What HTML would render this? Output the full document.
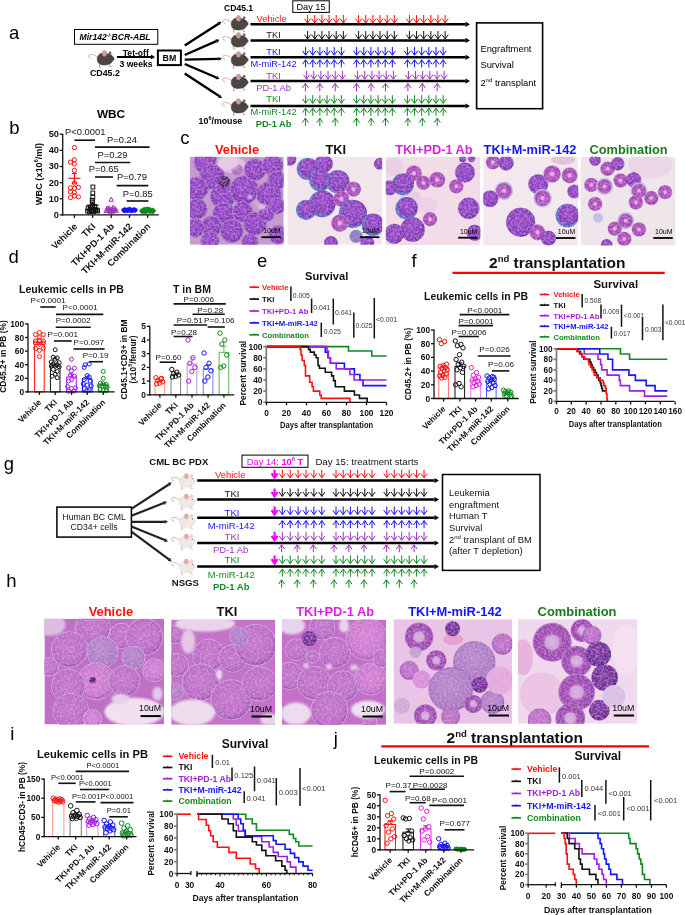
<!DOCTYPE html>
<html><head><meta charset="utf-8"><style>
html,body{margin:0;padding:0;background:#fff;}
body{width:685px;height:915px;overflow:hidden;}
svg{display:block;font-family:"Liberation Sans",sans-serif;will-change:transform;}
</style></head><body>
<svg width="685" height="915" viewBox="0 0 685 915">
<defs>
<radialGradient id="gP" cx="45%" cy="40%" r="60%"><stop offset="0" stop-color="#9c46cc"/><stop offset="0.8" stop-color="#8a36be"/><stop offset="1" stop-color="#7828aa"/></radialGradient>
<radialGradient id="gD" cx="45%" cy="40%" r="60%"><stop offset="0" stop-color="#8838ae"/><stop offset="1" stop-color="#6a2090"/></radialGradient>
<radialGradient id="gM" cx="48%" cy="45%" r="55%"><stop offset="0" stop-color="#c676cc"/><stop offset="0.78" stop-color="#bc6ac6"/><stop offset="0.92" stop-color="#a458ba"/><stop offset="1" stop-color="#9048aa"/></radialGradient>
<radialGradient id="gL" cx="48%" cy="45%" r="55%"><stop offset="0" stop-color="#d684d6"/><stop offset="0.78" stop-color="#cc76cf"/><stop offset="0.92" stop-color="#b060c0"/><stop offset="1" stop-color="#9a4cb0"/></radialGradient>
<radialGradient id="gV" cx="45%" cy="40%" r="62%"><stop offset="0" stop-color="#bc88cc"/><stop offset="0.85" stop-color="#ac78c4"/><stop offset="1" stop-color="#9460b4"/></radialGradient>
<radialGradient id="gN" cx="50%" cy="50%" r="50%"><stop offset="0" stop-color="#dcb6e2"/><stop offset="0.2" stop-color="#d4a8de"/><stop offset="0.34" stop-color="#b44cc0"/><stop offset="0.86" stop-color="#a640b6"/><stop offset="1" stop-color="#b890d0"/></radialGradient>
<radialGradient id="gR" cx="50%" cy="50%" r="50%"><stop offset="0" stop-color="#dab2e0"/><stop offset="0.33" stop-color="#d0a2d8"/><stop offset="0.46" stop-color="#a84cba"/><stop offset="0.9" stop-color="#9a40b0"/><stop offset="1" stop-color="#b884c8"/></radialGradient>
<filter id="soft" x="-20%" y="-20%" width="140%" height="140%"><feGaussianBlur stdDeviation="1.2"/></filter>
<filter id="grain" x="0" y="0" width="100%" height="100%"><feTurbulence type="fractalNoise" baseFrequency="0.45" numOctaves="2" seed="3" result="n"/><feColorMatrix in="n" type="matrix" values="0 0 0 0 0.9  0 0 0 0 0.8  0 0 0 0 0.95  0 0 0 0.6 -0.24" result="w"/><feComposite in="w" in2="SourceGraphic" operator="in" result="m"/><feMerge><feMergeNode in="SourceGraphic"/><feMergeNode in="m"/></feMerge></filter>

<clipPath id="clip1"><rect x="190.00" y="156.80" width="93.70" height="88.00"/></clipPath>
<clipPath id="clip2"><rect x="287.30" y="156.80" width="94.90" height="88.00"/></clipPath>
<clipPath id="clip3"><rect x="385.70" y="156.80" width="94.70" height="88.50"/></clipPath>
<clipPath id="clip4"><rect x="483.20" y="156.80" width="95.10" height="88.80"/></clipPath>
<clipPath id="clip5"><rect x="580.50" y="156.80" width="95.10" height="88.80"/></clipPath>
<clipPath id="clip6"><rect x="44.40" y="618.80" width="119.60" height="105.60"/></clipPath>
<clipPath id="clip7"><rect x="171.20" y="619.60" width="103.80" height="105.20"/></clipPath>
<clipPath id="clip8"><rect x="282.00" y="619.60" width="104.00" height="105.20"/></clipPath>
<clipPath id="clip9"><rect x="393.40" y="619.20" width="118.80" height="104.60"/></clipPath>
<clipPath id="clip10"><rect x="518.00" y="619.20" width="119.30" height="104.60"/></clipPath></defs>
<rect width="685" height="915" fill="#fff"/>
<text x="9.00" y="39.00" font-size="18.5" fill="#000">a</text>
<rect x="74.50" y="29.50" width="83.30" height="14.80" fill="none" stroke="#000" stroke-width="1"/>
<text x="79.50" y="40.30" font-size="8.6" fill="#000" font-weight="bold" font-style="italic">Mir142<tspan font-size="5" dy="-3.5">-/-</tspan><tspan dy="3.5">BCR-ABL</tspan></text>
<g transform="translate(88.00,49.50) scale(1.07)">
<path d="M9,7.5 C6,4.5 2,3.8 0.6,5.6 C0.1,7 1.5,8 3,8.3" fill="none" stroke="#dca8a4" stroke-width="0.9" />
<path d="M11,13 L10.6,16.4 L12.2,16.4 M19.5,13 L20.2,16 L21.8,16" fill="none" stroke="#c99a96" stroke-width="0.9" />
<path d="M8.6,9 C8.6,4.8 11.8,3 15.5,3.2 C19.5,3.3 22.5,5 24,7.4 C25,8.6 24.6,9.8 23.4,10.2 C22.2,12.8 19.2,14.6 15.2,14.6 C11,14.6 8.6,12.4 8.6,9 Z" fill="#4e4644" stroke="#3a3331" stroke-width="0.4" />
<ellipse cx="15.4" cy="3.6" rx="2.3" ry="2.9" fill="#c99a96"/>
<path d="M20.3,1.2 L22.4,3.6 L19.6,4.2 Z" fill="#4e4644" />
<circle cx="21.40" cy="6.20" r="0.55" fill="#222"/>
</g>
<line x1="117.00" y1="57.00" x2="151.00" y2="57.00" stroke="#000" stroke-width="1.8" stroke-linecap="butt"/>
<path d="M155.00,57.00 L151.00,59.40 L151.00,54.60 Z" fill="#000" />
<text x="135.80" y="55.60" font-size="8.6" fill="#000" font-weight="bold" text-anchor="middle">Tet-off</text>
<text x="136.00" y="66.60" font-size="8.6" fill="#000" font-weight="bold" text-anchor="middle">3 weeks</text>
<text x="90.00" y="75.60" font-size="8.8" fill="#000" font-weight="bold">CD45.2</text>
<rect x="157.90" y="50.50" width="23.00" height="14.60" fill="none" stroke="#000" stroke-width="2"/>
<text x="169.40" y="61.20" font-size="8.8" fill="#000" font-weight="bold" text-anchor="middle">BM</text>
<line x1="184.70" y1="45.40" x2="218.55" y2="23.69" stroke="#000" stroke-width="2.4" stroke-linecap="butt"/>
<path d="M221.50,21.80 L219.63,25.37 L217.47,22.01 Z" fill="#000" />
<line x1="184.70" y1="55.00" x2="216.30" y2="41.11" stroke="#000" stroke-width="2.4" stroke-linecap="butt"/>
<path d="M219.50,39.70 L217.10,42.94 L215.49,39.28 Z" fill="#000" />
<line x1="184.70" y1="59.60" x2="218.50" y2="58.88" stroke="#000" stroke-width="2.4" stroke-linecap="butt"/>
<path d="M222.00,58.80 L218.54,60.87 L218.46,56.88 Z" fill="#000" />
<line x1="184.70" y1="64.00" x2="216.28" y2="77.52" stroke="#000" stroke-width="2.4" stroke-linecap="butt"/>
<path d="M219.50,78.90 L215.50,79.36 L217.07,75.68 Z" fill="#000" />
<line x1="184.70" y1="73.40" x2="219.08" y2="96.07" stroke="#000" stroke-width="2.4" stroke-linecap="butt"/>
<path d="M222.00,98.00 L217.98,97.74 L220.18,94.40 Z" fill="#000" />
<g transform="translate(222.00,14.50) scale(1.07)">
<path d="M9,7.5 C6,4.5 2,3.8 0.6,5.6 C0.1,7 1.5,8 3,8.3" fill="none" stroke="#dca8a4" stroke-width="0.9" />
<path d="M11,13 L10.6,16.4 L12.2,16.4 M19.5,13 L20.2,16 L21.8,16" fill="none" stroke="#c99a96" stroke-width="0.9" />
<path d="M8.6,9 C8.6,4.8 11.8,3 15.5,3.2 C19.5,3.3 22.5,5 24,7.4 C25,8.6 24.6,9.8 23.4,10.2 C22.2,12.8 19.2,14.6 15.2,14.6 C11,14.6 8.6,12.4 8.6,9 Z" fill="#4e4644" stroke="#3a3331" stroke-width="0.4" />
<ellipse cx="15.4" cy="3.6" rx="2.3" ry="2.9" fill="#c99a96"/>
<path d="M20.3,1.2 L22.4,3.6 L19.6,4.2 Z" fill="#4e4644" />
<circle cx="21.40" cy="6.20" r="0.55" fill="#222"/>
</g>
<g transform="translate(222.00,31.50) scale(1.07)">
<path d="M9,7.5 C6,4.5 2,3.8 0.6,5.6 C0.1,7 1.5,8 3,8.3" fill="none" stroke="#dca8a4" stroke-width="0.9" />
<path d="M11,13 L10.6,16.4 L12.2,16.4 M19.5,13 L20.2,16 L21.8,16" fill="none" stroke="#c99a96" stroke-width="0.9" />
<path d="M8.6,9 C8.6,4.8 11.8,3 15.5,3.2 C19.5,3.3 22.5,5 24,7.4 C25,8.6 24.6,9.8 23.4,10.2 C22.2,12.8 19.2,14.6 15.2,14.6 C11,14.6 8.6,12.4 8.6,9 Z" fill="#4e4644" stroke="#3a3331" stroke-width="0.4" />
<ellipse cx="15.4" cy="3.6" rx="2.3" ry="2.9" fill="#c99a96"/>
<path d="M20.3,1.2 L22.4,3.6 L19.6,4.2 Z" fill="#4e4644" />
<circle cx="21.40" cy="6.20" r="0.55" fill="#222"/>
</g>
<g transform="translate(222.00,50.50) scale(1.07)">
<path d="M9,7.5 C6,4.5 2,3.8 0.6,5.6 C0.1,7 1.5,8 3,8.3" fill="none" stroke="#dca8a4" stroke-width="0.9" />
<path d="M11,13 L10.6,16.4 L12.2,16.4 M19.5,13 L20.2,16 L21.8,16" fill="none" stroke="#c99a96" stroke-width="0.9" />
<path d="M8.6,9 C8.6,4.8 11.8,3 15.5,3.2 C19.5,3.3 22.5,5 24,7.4 C25,8.6 24.6,9.8 23.4,10.2 C22.2,12.8 19.2,14.6 15.2,14.6 C11,14.6 8.6,12.4 8.6,9 Z" fill="#4e4644" stroke="#3a3331" stroke-width="0.4" />
<ellipse cx="15.4" cy="3.6" rx="2.3" ry="2.9" fill="#c99a96"/>
<path d="M20.3,1.2 L22.4,3.6 L19.6,4.2 Z" fill="#4e4644" />
<circle cx="21.40" cy="6.20" r="0.55" fill="#222"/>
</g>
<g transform="translate(222.00,73.00) scale(1.07)">
<path d="M9,7.5 C6,4.5 2,3.8 0.6,5.6 C0.1,7 1.5,8 3,8.3" fill="none" stroke="#dca8a4" stroke-width="0.9" />
<path d="M11,13 L10.6,16.4 L12.2,16.4 M19.5,13 L20.2,16 L21.8,16" fill="none" stroke="#c99a96" stroke-width="0.9" />
<path d="M8.6,9 C8.6,4.8 11.8,3 15.5,3.2 C19.5,3.3 22.5,5 24,7.4 C25,8.6 24.6,9.8 23.4,10.2 C22.2,12.8 19.2,14.6 15.2,14.6 C11,14.6 8.6,12.4 8.6,9 Z" fill="#4e4644" stroke="#3a3331" stroke-width="0.4" />
<ellipse cx="15.4" cy="3.6" rx="2.3" ry="2.9" fill="#c99a96"/>
<path d="M20.3,1.2 L22.4,3.6 L19.6,4.2 Z" fill="#4e4644" />
<circle cx="21.40" cy="6.20" r="0.55" fill="#222"/>
</g>
<g transform="translate(222.00,97.50) scale(1.07)">
<path d="M9,7.5 C6,4.5 2,3.8 0.6,5.6 C0.1,7 1.5,8 3,8.3" fill="none" stroke="#dca8a4" stroke-width="0.9" />
<path d="M11,13 L10.6,16.4 L12.2,16.4 M19.5,13 L20.2,16 L21.8,16" fill="none" stroke="#c99a96" stroke-width="0.9" />
<path d="M8.6,9 C8.6,4.8 11.8,3 15.5,3.2 C19.5,3.3 22.5,5 24,7.4 C25,8.6 24.6,9.8 23.4,10.2 C22.2,12.8 19.2,14.6 15.2,14.6 C11,14.6 8.6,12.4 8.6,9 Z" fill="#4e4644" stroke="#3a3331" stroke-width="0.4" />
<ellipse cx="15.4" cy="3.6" rx="2.3" ry="2.9" fill="#c99a96"/>
<path d="M20.3,1.2 L22.4,3.6 L19.6,4.2 Z" fill="#4e4644" />
<circle cx="21.40" cy="6.20" r="0.55" fill="#222"/>
</g>
<text x="224.00" y="11.30" font-size="8.6" fill="#000" font-weight="bold">CD45.1</text>
<rect x="292.80" y="0.80" width="36.50" height="11.60" fill="none" stroke="#000" stroke-width="1"/>
<text x="311.00" y="9.60" font-size="9.2" fill="#000" text-anchor="middle">Day 15</text>
<line x1="250.50" y1="24.30" x2="465.50" y2="24.30" stroke="#000" stroke-width="2.5" stroke-linecap="butt"/>
<path d="M470.00,24.30 L465.50,26.90 L465.50,21.70 Z" fill="#000" />
<line x1="250.50" y1="40.40" x2="465.50" y2="40.40" stroke="#000" stroke-width="2.5" stroke-linecap="butt"/>
<path d="M470.00,40.40 L465.50,43.00 L465.50,37.80 Z" fill="#000" />
<line x1="250.50" y1="57.30" x2="465.50" y2="57.30" stroke="#000" stroke-width="2.5" stroke-linecap="butt"/>
<path d="M470.00,57.30 L465.50,59.90 L465.50,54.70 Z" fill="#000" />
<line x1="250.50" y1="81.10" x2="465.50" y2="81.10" stroke="#000" stroke-width="2.5" stroke-linecap="butt"/>
<path d="M470.00,81.10 L465.50,83.70 L465.50,78.50 Z" fill="#000" />
<line x1="250.50" y1="106.00" x2="465.50" y2="106.00" stroke="#000" stroke-width="2.5" stroke-linecap="butt"/>
<path d="M470.00,106.00 L465.50,108.60 L465.50,103.40 Z" fill="#000" />
<text x="271.60" y="21.70" font-size="9.3" fill="#ff1010" text-anchor="middle">Vehicle</text>
<text x="273.60" y="37.70" font-size="9.3" fill="#111" text-anchor="middle">TKI</text>
<text x="273.60" y="55.00" font-size="9.3" fill="#1414ff" text-anchor="middle">TKI</text>
<text x="273.60" y="67.30" font-size="9.3" fill="#1414ff" text-anchor="middle">M-miR-142</text>
<text x="273.60" y="78.70" font-size="9.3" fill="#a030c0" text-anchor="middle">TKI</text>
<text x="273.60" y="91.00" font-size="9.3" fill="#a030c0" text-anchor="middle">PD-1 Ab</text>
<text x="273.60" y="102.20" font-size="9.3" fill="#108a20" text-anchor="middle">TKI</text>
<text x="273.60" y="115.10" font-size="9.3" fill="#108a20" text-anchor="middle">M-miR-142</text>
<text x="273.60" y="127.00" font-size="9.3" fill="#108a20" font-weight="bold" text-anchor="middle">PD-1 Ab</text>
<text x="198.60" y="123.80" font-size="8.8" fill="#000" font-weight="bold">10<tspan font-size="5.5" dy="-3.6">6</tspan><tspan dy="3.6">/mouse</tspan></text>
<path d="M307.60,15.00 L307.60,23.00 M304.50,18.60 L307.60,23.00 L310.70,18.60" fill="none" stroke="#ff1010" stroke-width="1.0" stroke-linejoin="miter"/>
<path d="M314.75,15.00 L314.75,23.00 M311.65,18.60 L314.75,23.00 L317.85,18.60" fill="none" stroke="#ff1010" stroke-width="1.0" stroke-linejoin="miter"/>
<path d="M321.90,15.00 L321.90,23.00 M318.80,18.60 L321.90,23.00 L325.00,18.60" fill="none" stroke="#ff1010" stroke-width="1.0" stroke-linejoin="miter"/>
<path d="M329.05,15.00 L329.05,23.00 M325.95,18.60 L329.05,23.00 L332.15,18.60" fill="none" stroke="#ff1010" stroke-width="1.0" stroke-linejoin="miter"/>
<path d="M336.20,15.00 L336.20,23.00 M333.10,18.60 L336.20,23.00 L339.30,18.60" fill="none" stroke="#ff1010" stroke-width="1.0" stroke-linejoin="miter"/>
<path d="M343.35,15.00 L343.35,23.00 M340.25,18.60 L343.35,23.00 L346.45,18.60" fill="none" stroke="#ff1010" stroke-width="1.0" stroke-linejoin="miter"/>
<path d="M358.60,15.00 L358.60,23.00 M355.50,18.60 L358.60,23.00 L361.70,18.60" fill="none" stroke="#ff1010" stroke-width="1.0" stroke-linejoin="miter"/>
<path d="M365.75,15.00 L365.75,23.00 M362.65,18.60 L365.75,23.00 L368.85,18.60" fill="none" stroke="#ff1010" stroke-width="1.0" stroke-linejoin="miter"/>
<path d="M372.90,15.00 L372.90,23.00 M369.80,18.60 L372.90,23.00 L376.00,18.60" fill="none" stroke="#ff1010" stroke-width="1.0" stroke-linejoin="miter"/>
<path d="M380.05,15.00 L380.05,23.00 M376.95,18.60 L380.05,23.00 L383.15,18.60" fill="none" stroke="#ff1010" stroke-width="1.0" stroke-linejoin="miter"/>
<path d="M387.20,15.00 L387.20,23.00 M384.10,18.60 L387.20,23.00 L390.30,18.60" fill="none" stroke="#ff1010" stroke-width="1.0" stroke-linejoin="miter"/>
<path d="M394.35,15.00 L394.35,23.00 M391.25,18.60 L394.35,23.00 L397.45,18.60" fill="none" stroke="#ff1010" stroke-width="1.0" stroke-linejoin="miter"/>
<path d="M409.40,15.00 L409.40,23.00 M406.30,18.60 L409.40,23.00 L412.50,18.60" fill="none" stroke="#ff1010" stroke-width="1.0" stroke-linejoin="miter"/>
<path d="M416.55,15.00 L416.55,23.00 M413.45,18.60 L416.55,23.00 L419.65,18.60" fill="none" stroke="#ff1010" stroke-width="1.0" stroke-linejoin="miter"/>
<path d="M423.70,15.00 L423.70,23.00 M420.60,18.60 L423.70,23.00 L426.80,18.60" fill="none" stroke="#ff1010" stroke-width="1.0" stroke-linejoin="miter"/>
<path d="M430.85,15.00 L430.85,23.00 M427.75,18.60 L430.85,23.00 L433.95,18.60" fill="none" stroke="#ff1010" stroke-width="1.0" stroke-linejoin="miter"/>
<path d="M438.00,15.00 L438.00,23.00 M434.90,18.60 L438.00,23.00 L441.10,18.60" fill="none" stroke="#ff1010" stroke-width="1.0" stroke-linejoin="miter"/>
<path d="M445.15,15.00 L445.15,23.00 M442.05,18.60 L445.15,23.00 L448.25,18.60" fill="none" stroke="#ff1010" stroke-width="1.0" stroke-linejoin="miter"/>
<path d="M307.60,31.00 L307.60,39.00 M304.50,34.60 L307.60,39.00 L310.70,34.60" fill="none" stroke="#111" stroke-width="1.0" stroke-linejoin="miter"/>
<path d="M314.75,31.00 L314.75,39.00 M311.65,34.60 L314.75,39.00 L317.85,34.60" fill="none" stroke="#111" stroke-width="1.0" stroke-linejoin="miter"/>
<path d="M321.90,31.00 L321.90,39.00 M318.80,34.60 L321.90,39.00 L325.00,34.60" fill="none" stroke="#111" stroke-width="1.0" stroke-linejoin="miter"/>
<path d="M329.05,31.00 L329.05,39.00 M325.95,34.60 L329.05,39.00 L332.15,34.60" fill="none" stroke="#111" stroke-width="1.0" stroke-linejoin="miter"/>
<path d="M336.20,31.00 L336.20,39.00 M333.10,34.60 L336.20,39.00 L339.30,34.60" fill="none" stroke="#111" stroke-width="1.0" stroke-linejoin="miter"/>
<path d="M343.35,31.00 L343.35,39.00 M340.25,34.60 L343.35,39.00 L346.45,34.60" fill="none" stroke="#111" stroke-width="1.0" stroke-linejoin="miter"/>
<path d="M358.60,31.00 L358.60,39.00 M355.50,34.60 L358.60,39.00 L361.70,34.60" fill="none" stroke="#111" stroke-width="1.0" stroke-linejoin="miter"/>
<path d="M365.75,31.00 L365.75,39.00 M362.65,34.60 L365.75,39.00 L368.85,34.60" fill="none" stroke="#111" stroke-width="1.0" stroke-linejoin="miter"/>
<path d="M372.90,31.00 L372.90,39.00 M369.80,34.60 L372.90,39.00 L376.00,34.60" fill="none" stroke="#111" stroke-width="1.0" stroke-linejoin="miter"/>
<path d="M380.05,31.00 L380.05,39.00 M376.95,34.60 L380.05,39.00 L383.15,34.60" fill="none" stroke="#111" stroke-width="1.0" stroke-linejoin="miter"/>
<path d="M387.20,31.00 L387.20,39.00 M384.10,34.60 L387.20,39.00 L390.30,34.60" fill="none" stroke="#111" stroke-width="1.0" stroke-linejoin="miter"/>
<path d="M394.35,31.00 L394.35,39.00 M391.25,34.60 L394.35,39.00 L397.45,34.60" fill="none" stroke="#111" stroke-width="1.0" stroke-linejoin="miter"/>
<path d="M409.40,31.00 L409.40,39.00 M406.30,34.60 L409.40,39.00 L412.50,34.60" fill="none" stroke="#111" stroke-width="1.0" stroke-linejoin="miter"/>
<path d="M416.55,31.00 L416.55,39.00 M413.45,34.60 L416.55,39.00 L419.65,34.60" fill="none" stroke="#111" stroke-width="1.0" stroke-linejoin="miter"/>
<path d="M423.70,31.00 L423.70,39.00 M420.60,34.60 L423.70,39.00 L426.80,34.60" fill="none" stroke="#111" stroke-width="1.0" stroke-linejoin="miter"/>
<path d="M430.85,31.00 L430.85,39.00 M427.75,34.60 L430.85,39.00 L433.95,34.60" fill="none" stroke="#111" stroke-width="1.0" stroke-linejoin="miter"/>
<path d="M438.00,31.00 L438.00,39.00 M434.90,34.60 L438.00,39.00 L441.10,34.60" fill="none" stroke="#111" stroke-width="1.0" stroke-linejoin="miter"/>
<path d="M445.15,31.00 L445.15,39.00 M442.05,34.60 L445.15,39.00 L448.25,34.60" fill="none" stroke="#111" stroke-width="1.0" stroke-linejoin="miter"/>
<path d="M305.60,47.00 L305.60,55.20 M302.50,50.80 L305.60,55.20 L308.70,50.80" fill="none" stroke="#1414ff" stroke-width="1.0" stroke-linejoin="miter"/>
<path d="M312.75,47.00 L312.75,55.20 M309.65,50.80 L312.75,55.20 L315.85,50.80" fill="none" stroke="#1414ff" stroke-width="1.0" stroke-linejoin="miter"/>
<path d="M319.90,47.00 L319.90,55.20 M316.80,50.80 L319.90,55.20 L323.00,50.80" fill="none" stroke="#1414ff" stroke-width="1.0" stroke-linejoin="miter"/>
<path d="M327.05,47.00 L327.05,55.20 M323.95,50.80 L327.05,55.20 L330.15,50.80" fill="none" stroke="#1414ff" stroke-width="1.0" stroke-linejoin="miter"/>
<path d="M334.20,47.00 L334.20,55.20 M331.10,50.80 L334.20,55.20 L337.30,50.80" fill="none" stroke="#1414ff" stroke-width="1.0" stroke-linejoin="miter"/>
<path d="M341.35,47.00 L341.35,55.20 M338.25,50.80 L341.35,55.20 L344.45,50.80" fill="none" stroke="#1414ff" stroke-width="1.0" stroke-linejoin="miter"/>
<path d="M356.60,47.00 L356.60,55.20 M353.50,50.80 L356.60,55.20 L359.70,50.80" fill="none" stroke="#1414ff" stroke-width="1.0" stroke-linejoin="miter"/>
<path d="M363.75,47.00 L363.75,55.20 M360.65,50.80 L363.75,55.20 L366.85,50.80" fill="none" stroke="#1414ff" stroke-width="1.0" stroke-linejoin="miter"/>
<path d="M370.90,47.00 L370.90,55.20 M367.80,50.80 L370.90,55.20 L374.00,50.80" fill="none" stroke="#1414ff" stroke-width="1.0" stroke-linejoin="miter"/>
<path d="M378.05,47.00 L378.05,55.20 M374.95,50.80 L378.05,55.20 L381.15,50.80" fill="none" stroke="#1414ff" stroke-width="1.0" stroke-linejoin="miter"/>
<path d="M385.20,47.00 L385.20,55.20 M382.10,50.80 L385.20,55.20 L388.30,50.80" fill="none" stroke="#1414ff" stroke-width="1.0" stroke-linejoin="miter"/>
<path d="M392.35,47.00 L392.35,55.20 M389.25,50.80 L392.35,55.20 L395.45,50.80" fill="none" stroke="#1414ff" stroke-width="1.0" stroke-linejoin="miter"/>
<path d="M407.40,47.00 L407.40,55.20 M404.30,50.80 L407.40,55.20 L410.50,50.80" fill="none" stroke="#1414ff" stroke-width="1.0" stroke-linejoin="miter"/>
<path d="M414.55,47.00 L414.55,55.20 M411.45,50.80 L414.55,55.20 L417.65,50.80" fill="none" stroke="#1414ff" stroke-width="1.0" stroke-linejoin="miter"/>
<path d="M421.70,47.00 L421.70,55.20 M418.60,50.80 L421.70,55.20 L424.80,50.80" fill="none" stroke="#1414ff" stroke-width="1.0" stroke-linejoin="miter"/>
<path d="M428.85,47.00 L428.85,55.20 M425.75,50.80 L428.85,55.20 L431.95,50.80" fill="none" stroke="#1414ff" stroke-width="1.0" stroke-linejoin="miter"/>
<path d="M436.00,47.00 L436.00,55.20 M432.90,50.80 L436.00,55.20 L439.10,50.80" fill="none" stroke="#1414ff" stroke-width="1.0" stroke-linejoin="miter"/>
<path d="M443.15,47.00 L443.15,55.20 M440.05,50.80 L443.15,55.20 L446.25,50.80" fill="none" stroke="#1414ff" stroke-width="1.0" stroke-linejoin="miter"/>
<path d="M305.60,67.40 L305.60,59.80 M302.50,64.20 L305.60,59.80 L308.70,64.20" fill="none" stroke="#1414ff" stroke-width="1.0" stroke-linejoin="miter"/>
<path d="M312.75,67.40 L312.75,59.80 M309.65,64.20 L312.75,59.80 L315.85,64.20" fill="none" stroke="#1414ff" stroke-width="1.0" stroke-linejoin="miter"/>
<path d="M319.90,67.40 L319.90,59.80 M316.80,64.20 L319.90,59.80 L323.00,64.20" fill="none" stroke="#1414ff" stroke-width="1.0" stroke-linejoin="miter"/>
<path d="M327.05,67.40 L327.05,59.80 M323.95,64.20 L327.05,59.80 L330.15,64.20" fill="none" stroke="#1414ff" stroke-width="1.0" stroke-linejoin="miter"/>
<path d="M334.20,67.40 L334.20,59.80 M331.10,64.20 L334.20,59.80 L337.30,64.20" fill="none" stroke="#1414ff" stroke-width="1.0" stroke-linejoin="miter"/>
<path d="M341.35,67.40 L341.35,59.80 M338.25,64.20 L341.35,59.80 L344.45,64.20" fill="none" stroke="#1414ff" stroke-width="1.0" stroke-linejoin="miter"/>
<path d="M356.60,67.40 L356.60,59.80 M353.50,64.20 L356.60,59.80 L359.70,64.20" fill="none" stroke="#1414ff" stroke-width="1.0" stroke-linejoin="miter"/>
<path d="M363.75,67.40 L363.75,59.80 M360.65,64.20 L363.75,59.80 L366.85,64.20" fill="none" stroke="#1414ff" stroke-width="1.0" stroke-linejoin="miter"/>
<path d="M370.90,67.40 L370.90,59.80 M367.80,64.20 L370.90,59.80 L374.00,64.20" fill="none" stroke="#1414ff" stroke-width="1.0" stroke-linejoin="miter"/>
<path d="M378.05,67.40 L378.05,59.80 M374.95,64.20 L378.05,59.80 L381.15,64.20" fill="none" stroke="#1414ff" stroke-width="1.0" stroke-linejoin="miter"/>
<path d="M385.20,67.40 L385.20,59.80 M382.10,64.20 L385.20,59.80 L388.30,64.20" fill="none" stroke="#1414ff" stroke-width="1.0" stroke-linejoin="miter"/>
<path d="M392.35,67.40 L392.35,59.80 M389.25,64.20 L392.35,59.80 L395.45,64.20" fill="none" stroke="#1414ff" stroke-width="1.0" stroke-linejoin="miter"/>
<path d="M407.40,67.40 L407.40,59.80 M404.30,64.20 L407.40,59.80 L410.50,64.20" fill="none" stroke="#1414ff" stroke-width="1.0" stroke-linejoin="miter"/>
<path d="M414.55,67.40 L414.55,59.80 M411.45,64.20 L414.55,59.80 L417.65,64.20" fill="none" stroke="#1414ff" stroke-width="1.0" stroke-linejoin="miter"/>
<path d="M421.70,67.40 L421.70,59.80 M418.60,64.20 L421.70,59.80 L424.80,64.20" fill="none" stroke="#1414ff" stroke-width="1.0" stroke-linejoin="miter"/>
<path d="M428.85,67.40 L428.85,59.80 M425.75,64.20 L428.85,59.80 L431.95,64.20" fill="none" stroke="#1414ff" stroke-width="1.0" stroke-linejoin="miter"/>
<path d="M436.00,67.40 L436.00,59.80 M432.90,64.20 L436.00,59.80 L439.10,64.20" fill="none" stroke="#1414ff" stroke-width="1.0" stroke-linejoin="miter"/>
<path d="M443.15,67.40 L443.15,59.80 M440.05,64.20 L443.15,59.80 L446.25,64.20" fill="none" stroke="#1414ff" stroke-width="1.0" stroke-linejoin="miter"/>
<path d="M306.60,71.00 L306.60,79.20 M303.50,74.80 L306.60,79.20 L309.70,74.80" fill="none" stroke="#a030c0" stroke-width="1.0" stroke-linejoin="miter"/>
<path d="M313.75,71.00 L313.75,79.20 M310.65,74.80 L313.75,79.20 L316.85,74.80" fill="none" stroke="#a030c0" stroke-width="1.0" stroke-linejoin="miter"/>
<path d="M320.90,71.00 L320.90,79.20 M317.80,74.80 L320.90,79.20 L324.00,74.80" fill="none" stroke="#a030c0" stroke-width="1.0" stroke-linejoin="miter"/>
<path d="M328.05,71.00 L328.05,79.20 M324.95,74.80 L328.05,79.20 L331.15,74.80" fill="none" stroke="#a030c0" stroke-width="1.0" stroke-linejoin="miter"/>
<path d="M335.20,71.00 L335.20,79.20 M332.10,74.80 L335.20,79.20 L338.30,74.80" fill="none" stroke="#a030c0" stroke-width="1.0" stroke-linejoin="miter"/>
<path d="M342.35,71.00 L342.35,79.20 M339.25,74.80 L342.35,79.20 L345.45,74.80" fill="none" stroke="#a030c0" stroke-width="1.0" stroke-linejoin="miter"/>
<path d="M357.60,71.00 L357.60,79.20 M354.50,74.80 L357.60,79.20 L360.70,74.80" fill="none" stroke="#a030c0" stroke-width="1.0" stroke-linejoin="miter"/>
<path d="M364.75,71.00 L364.75,79.20 M361.65,74.80 L364.75,79.20 L367.85,74.80" fill="none" stroke="#a030c0" stroke-width="1.0" stroke-linejoin="miter"/>
<path d="M371.90,71.00 L371.90,79.20 M368.80,74.80 L371.90,79.20 L375.00,74.80" fill="none" stroke="#a030c0" stroke-width="1.0" stroke-linejoin="miter"/>
<path d="M379.05,71.00 L379.05,79.20 M375.95,74.80 L379.05,79.20 L382.15,74.80" fill="none" stroke="#a030c0" stroke-width="1.0" stroke-linejoin="miter"/>
<path d="M386.20,71.00 L386.20,79.20 M383.10,74.80 L386.20,79.20 L389.30,74.80" fill="none" stroke="#a030c0" stroke-width="1.0" stroke-linejoin="miter"/>
<path d="M393.35,71.00 L393.35,79.20 M390.25,74.80 L393.35,79.20 L396.45,74.80" fill="none" stroke="#a030c0" stroke-width="1.0" stroke-linejoin="miter"/>
<path d="M408.40,71.00 L408.40,79.20 M405.30,74.80 L408.40,79.20 L411.50,74.80" fill="none" stroke="#a030c0" stroke-width="1.0" stroke-linejoin="miter"/>
<path d="M415.55,71.00 L415.55,79.20 M412.45,74.80 L415.55,79.20 L418.65,74.80" fill="none" stroke="#a030c0" stroke-width="1.0" stroke-linejoin="miter"/>
<path d="M422.70,71.00 L422.70,79.20 M419.60,74.80 L422.70,79.20 L425.80,74.80" fill="none" stroke="#a030c0" stroke-width="1.0" stroke-linejoin="miter"/>
<path d="M429.85,71.00 L429.85,79.20 M426.75,74.80 L429.85,79.20 L432.95,74.80" fill="none" stroke="#a030c0" stroke-width="1.0" stroke-linejoin="miter"/>
<path d="M437.00,71.00 L437.00,79.20 M433.90,74.80 L437.00,79.20 L440.10,74.80" fill="none" stroke="#a030c0" stroke-width="1.0" stroke-linejoin="miter"/>
<path d="M444.15,71.00 L444.15,79.20 M441.05,74.80 L444.15,79.20 L447.25,74.80" fill="none" stroke="#a030c0" stroke-width="1.0" stroke-linejoin="miter"/>
<path d="M305.40,91.40 L305.40,83.50 M302.30,87.90 L305.40,83.50 L308.50,87.90" fill="none" stroke="#a030c0" stroke-width="1.0" stroke-linejoin="miter"/>
<path d="M319.80,91.40 L319.80,83.50 M316.70,87.90 L319.80,83.50 L322.90,87.90" fill="none" stroke="#a030c0" stroke-width="1.0" stroke-linejoin="miter"/>
<path d="M335.20,91.40 L335.20,83.50 M332.10,87.90 L335.20,83.50 L338.30,87.90" fill="none" stroke="#a030c0" stroke-width="1.0" stroke-linejoin="miter"/>
<path d="M356.50,91.40 L356.50,83.50 M353.40,87.90 L356.50,83.50 L359.60,87.90" fill="none" stroke="#a030c0" stroke-width="1.0" stroke-linejoin="miter"/>
<path d="M371.10,91.40 L371.10,83.50 M368.00,87.90 L371.10,83.50 L374.20,87.90" fill="none" stroke="#a030c0" stroke-width="1.0" stroke-linejoin="miter"/>
<path d="M385.50,91.40 L385.50,83.50 M382.40,87.90 L385.50,83.50 L388.60,87.90" fill="none" stroke="#a030c0" stroke-width="1.0" stroke-linejoin="miter"/>
<path d="M407.90,91.40 L407.90,83.50 M404.80,87.90 L407.90,83.50 L411.00,87.90" fill="none" stroke="#a030c0" stroke-width="1.0" stroke-linejoin="miter"/>
<path d="M422.30,91.40 L422.30,83.50 M419.20,87.90 L422.30,83.50 L425.40,87.90" fill="none" stroke="#a030c0" stroke-width="1.0" stroke-linejoin="miter"/>
<path d="M437.20,91.40 L437.20,83.50 M434.10,87.90 L437.20,83.50 L440.30,87.90" fill="none" stroke="#a030c0" stroke-width="1.0" stroke-linejoin="miter"/>
<path d="M305.60,95.20 L305.60,103.30 M302.50,98.90 L305.60,103.30 L308.70,98.90" fill="none" stroke="#108a20" stroke-width="1.0" stroke-linejoin="miter"/>
<path d="M312.75,95.20 L312.75,103.30 M309.65,98.90 L312.75,103.30 L315.85,98.90" fill="none" stroke="#108a20" stroke-width="1.0" stroke-linejoin="miter"/>
<path d="M319.90,95.20 L319.90,103.30 M316.80,98.90 L319.90,103.30 L323.00,98.90" fill="none" stroke="#108a20" stroke-width="1.0" stroke-linejoin="miter"/>
<path d="M327.05,95.20 L327.05,103.30 M323.95,98.90 L327.05,103.30 L330.15,98.90" fill="none" stroke="#108a20" stroke-width="1.0" stroke-linejoin="miter"/>
<path d="M334.20,95.20 L334.20,103.30 M331.10,98.90 L334.20,103.30 L337.30,98.90" fill="none" stroke="#108a20" stroke-width="1.0" stroke-linejoin="miter"/>
<path d="M341.35,95.20 L341.35,103.30 M338.25,98.90 L341.35,103.30 L344.45,98.90" fill="none" stroke="#108a20" stroke-width="1.0" stroke-linejoin="miter"/>
<path d="M356.60,95.20 L356.60,103.30 M353.50,98.90 L356.60,103.30 L359.70,98.90" fill="none" stroke="#108a20" stroke-width="1.0" stroke-linejoin="miter"/>
<path d="M363.75,95.20 L363.75,103.30 M360.65,98.90 L363.75,103.30 L366.85,98.90" fill="none" stroke="#108a20" stroke-width="1.0" stroke-linejoin="miter"/>
<path d="M370.90,95.20 L370.90,103.30 M367.80,98.90 L370.90,103.30 L374.00,98.90" fill="none" stroke="#108a20" stroke-width="1.0" stroke-linejoin="miter"/>
<path d="M378.05,95.20 L378.05,103.30 M374.95,98.90 L378.05,103.30 L381.15,98.90" fill="none" stroke="#108a20" stroke-width="1.0" stroke-linejoin="miter"/>
<path d="M385.20,95.20 L385.20,103.30 M382.10,98.90 L385.20,103.30 L388.30,98.90" fill="none" stroke="#108a20" stroke-width="1.0" stroke-linejoin="miter"/>
<path d="M392.35,95.20 L392.35,103.30 M389.25,98.90 L392.35,103.30 L395.45,98.90" fill="none" stroke="#108a20" stroke-width="1.0" stroke-linejoin="miter"/>
<path d="M407.40,95.20 L407.40,103.30 M404.30,98.90 L407.40,103.30 L410.50,98.90" fill="none" stroke="#108a20" stroke-width="1.0" stroke-linejoin="miter"/>
<path d="M414.55,95.20 L414.55,103.30 M411.45,98.90 L414.55,103.30 L417.65,98.90" fill="none" stroke="#108a20" stroke-width="1.0" stroke-linejoin="miter"/>
<path d="M421.70,95.20 L421.70,103.30 M418.60,98.90 L421.70,103.30 L424.80,98.90" fill="none" stroke="#108a20" stroke-width="1.0" stroke-linejoin="miter"/>
<path d="M428.85,95.20 L428.85,103.30 M425.75,98.90 L428.85,103.30 L431.95,98.90" fill="none" stroke="#108a20" stroke-width="1.0" stroke-linejoin="miter"/>
<path d="M436.00,95.20 L436.00,103.30 M432.90,98.90 L436.00,103.30 L439.10,98.90" fill="none" stroke="#108a20" stroke-width="1.0" stroke-linejoin="miter"/>
<path d="M443.15,95.20 L443.15,103.30 M440.05,98.90 L443.15,103.30 L446.25,98.90" fill="none" stroke="#108a20" stroke-width="1.0" stroke-linejoin="miter"/>
<path d="M305.60,115.80 L305.60,108.20 M302.50,112.60 L305.60,108.20 L308.70,112.60" fill="none" stroke="#108a20" stroke-width="1.0" stroke-linejoin="miter"/>
<path d="M312.75,115.80 L312.75,108.20 M309.65,112.60 L312.75,108.20 L315.85,112.60" fill="none" stroke="#108a20" stroke-width="1.0" stroke-linejoin="miter"/>
<path d="M319.90,115.80 L319.90,108.20 M316.80,112.60 L319.90,108.20 L323.00,112.60" fill="none" stroke="#108a20" stroke-width="1.0" stroke-linejoin="miter"/>
<path d="M327.05,115.80 L327.05,108.20 M323.95,112.60 L327.05,108.20 L330.15,112.60" fill="none" stroke="#108a20" stroke-width="1.0" stroke-linejoin="miter"/>
<path d="M334.20,115.80 L334.20,108.20 M331.10,112.60 L334.20,108.20 L337.30,112.60" fill="none" stroke="#108a20" stroke-width="1.0" stroke-linejoin="miter"/>
<path d="M341.35,115.80 L341.35,108.20 M338.25,112.60 L341.35,108.20 L344.45,112.60" fill="none" stroke="#108a20" stroke-width="1.0" stroke-linejoin="miter"/>
<path d="M356.60,115.80 L356.60,108.20 M353.50,112.60 L356.60,108.20 L359.70,112.60" fill="none" stroke="#108a20" stroke-width="1.0" stroke-linejoin="miter"/>
<path d="M363.75,115.80 L363.75,108.20 M360.65,112.60 L363.75,108.20 L366.85,112.60" fill="none" stroke="#108a20" stroke-width="1.0" stroke-linejoin="miter"/>
<path d="M370.90,115.80 L370.90,108.20 M367.80,112.60 L370.90,108.20 L374.00,112.60" fill="none" stroke="#108a20" stroke-width="1.0" stroke-linejoin="miter"/>
<path d="M378.05,115.80 L378.05,108.20 M374.95,112.60 L378.05,108.20 L381.15,112.60" fill="none" stroke="#108a20" stroke-width="1.0" stroke-linejoin="miter"/>
<path d="M385.20,115.80 L385.20,108.20 M382.10,112.60 L385.20,108.20 L388.30,112.60" fill="none" stroke="#108a20" stroke-width="1.0" stroke-linejoin="miter"/>
<path d="M392.35,115.80 L392.35,108.20 M389.25,112.60 L392.35,108.20 L395.45,112.60" fill="none" stroke="#108a20" stroke-width="1.0" stroke-linejoin="miter"/>
<path d="M407.40,115.80 L407.40,108.20 M404.30,112.60 L407.40,108.20 L410.50,112.60" fill="none" stroke="#108a20" stroke-width="1.0" stroke-linejoin="miter"/>
<path d="M414.55,115.80 L414.55,108.20 M411.45,112.60 L414.55,108.20 L417.65,112.60" fill="none" stroke="#108a20" stroke-width="1.0" stroke-linejoin="miter"/>
<path d="M421.70,115.80 L421.70,108.20 M418.60,112.60 L421.70,108.20 L424.80,112.60" fill="none" stroke="#108a20" stroke-width="1.0" stroke-linejoin="miter"/>
<path d="M428.85,115.80 L428.85,108.20 M425.75,112.60 L428.85,108.20 L431.95,112.60" fill="none" stroke="#108a20" stroke-width="1.0" stroke-linejoin="miter"/>
<path d="M436.00,115.80 L436.00,108.20 M432.90,112.60 L436.00,108.20 L439.10,112.60" fill="none" stroke="#108a20" stroke-width="1.0" stroke-linejoin="miter"/>
<path d="M443.15,115.80 L443.15,108.20 M440.05,112.60 L443.15,108.20 L446.25,112.60" fill="none" stroke="#108a20" stroke-width="1.0" stroke-linejoin="miter"/>
<path d="M305.40,126.00 L305.40,118.20 M302.30,122.60 L305.40,118.20 L308.50,122.60" fill="none" stroke="#108a20" stroke-width="1.0" stroke-linejoin="miter"/>
<path d="M319.80,126.00 L319.80,118.20 M316.70,122.60 L319.80,118.20 L322.90,122.60" fill="none" stroke="#108a20" stroke-width="1.0" stroke-linejoin="miter"/>
<path d="M335.20,126.00 L335.20,118.20 M332.10,122.60 L335.20,118.20 L338.30,122.60" fill="none" stroke="#108a20" stroke-width="1.0" stroke-linejoin="miter"/>
<path d="M356.50,126.00 L356.50,118.20 M353.40,122.60 L356.50,118.20 L359.60,122.60" fill="none" stroke="#108a20" stroke-width="1.0" stroke-linejoin="miter"/>
<path d="M371.10,126.00 L371.10,118.20 M368.00,122.60 L371.10,118.20 L374.20,122.60" fill="none" stroke="#108a20" stroke-width="1.0" stroke-linejoin="miter"/>
<path d="M385.50,126.00 L385.50,118.20 M382.40,122.60 L385.50,118.20 L388.60,122.60" fill="none" stroke="#108a20" stroke-width="1.0" stroke-linejoin="miter"/>
<path d="M407.90,126.00 L407.90,118.20 M404.80,122.60 L407.90,118.20 L411.00,122.60" fill="none" stroke="#108a20" stroke-width="1.0" stroke-linejoin="miter"/>
<path d="M422.30,126.00 L422.30,118.20 M419.20,122.60 L422.30,118.20 L425.40,122.60" fill="none" stroke="#108a20" stroke-width="1.0" stroke-linejoin="miter"/>
<path d="M437.20,126.00 L437.20,118.20 M434.10,122.60 L437.20,118.20 L440.30,122.60" fill="none" stroke="#108a20" stroke-width="1.0" stroke-linejoin="miter"/>
<rect x="476.60" y="22.90" width="66.00" height="85.80" fill="none" stroke="#000" stroke-width="1.6"/>
<text x="480.40" y="51.60" font-size="9.4" fill="#000">Engraftment</text>
<text x="480.40" y="68.40" font-size="9.4" fill="#000">Survival</text>
<text x="480.40" y="85.80" font-size="9.4" fill="#000">2<tspan font-size="6" dy="-3.4">nd</tspan><tspan dy="3.4"> transplant</tspan></text>
<text x="9.20" y="133.60" font-size="18.5" fill="#000">b</text>
<text x="111.00" y="117.60" font-size="11.8" fill="#000" font-weight="bold" text-anchor="middle">WBC</text>
<circle cx="74.40" cy="147.60" r="2.10" fill="none" stroke="#ff1010" stroke-width="1.0"/>
<circle cx="70.40" cy="162.12" r="2.10" fill="none" stroke="#ff1010" stroke-width="1.0"/>
<circle cx="74.40" cy="159.86" r="2.10" fill="none" stroke="#ff1010" stroke-width="1.0"/>
<circle cx="74.40" cy="163.90" r="2.10" fill="none" stroke="#ff1010" stroke-width="1.0"/>
<circle cx="74.40" cy="170.35" r="2.10" fill="none" stroke="#ff1010" stroke-width="1.0"/>
<circle cx="74.40" cy="183.10" r="2.10" fill="none" stroke="#ff1010" stroke-width="1.0"/>
<circle cx="70.40" cy="187.78" r="2.10" fill="none" stroke="#ff1010" stroke-width="1.0"/>
<circle cx="74.40" cy="188.43" r="2.10" fill="none" stroke="#ff1010" stroke-width="1.0"/>
<circle cx="78.40" cy="187.30" r="2.10" fill="none" stroke="#ff1010" stroke-width="1.0"/>
<circle cx="70.40" cy="191.82" r="2.10" fill="none" stroke="#ff1010" stroke-width="1.0"/>
<circle cx="74.40" cy="192.47" r="2.10" fill="none" stroke="#ff1010" stroke-width="1.0"/>
<circle cx="70.40" cy="197.63" r="2.10" fill="none" stroke="#ff1010" stroke-width="1.0"/>
<circle cx="74.40" cy="195.85" r="2.10" fill="none" stroke="#ff1010" stroke-width="1.0"/>
<circle cx="78.40" cy="196.82" r="2.10" fill="none" stroke="#ff1010" stroke-width="1.0"/>
<line x1="68.40" y1="178.26" x2="80.40" y2="178.26" stroke="#ff1010" stroke-width="1.2" stroke-linecap="butt"/>
<line x1="74.40" y1="173.42" x2="74.40" y2="183.10" stroke="#ff1010" stroke-width="1.2" stroke-linecap="butt"/>
<line x1="71.90" y1="173.42" x2="76.90" y2="173.42" stroke="#ff1010" stroke-width="1.2" stroke-linecap="butt"/>
<line x1="71.90" y1="183.10" x2="76.90" y2="183.10" stroke="#ff1010" stroke-width="1.2" stroke-linecap="butt"/>
<rect x="91.00" y="185.08" width="3.80" height="3.80" fill="none" stroke="#111" stroke-width="1.0"/>
<rect x="90.90" y="191.05" width="3.80" height="3.80" fill="none" stroke="#111" stroke-width="1.0"/>
<rect x="90.90" y="195.25" width="3.80" height="3.80" fill="none" stroke="#111" stroke-width="1.0"/>
<rect x="90.30" y="198.47" width="3.80" height="3.80" fill="none" stroke="#111" stroke-width="1.0"/>
<rect x="90.70" y="200.73" width="3.80" height="3.80" fill="none" stroke="#111" stroke-width="1.0"/>
<rect x="86.20" y="206.22" width="3.80" height="3.80" fill="none" stroke="#111" stroke-width="1.0"/>
<rect x="88.20" y="207.51" width="3.80" height="3.80" fill="none" stroke="#111" stroke-width="1.0"/>
<rect x="90.70" y="208.16" width="3.80" height="3.80" fill="none" stroke="#111" stroke-width="1.0"/>
<rect x="93.20" y="207.19" width="3.80" height="3.80" fill="none" stroke="#111" stroke-width="1.0"/>
<rect x="95.20" y="208.16" width="3.80" height="3.80" fill="none" stroke="#111" stroke-width="1.0"/>
<rect x="85.70" y="209.13" width="3.80" height="3.80" fill="none" stroke="#111" stroke-width="1.0"/>
<rect x="87.70" y="209.77" width="3.80" height="3.80" fill="none" stroke="#111" stroke-width="1.0"/>
<rect x="89.70" y="208.80" width="3.80" height="3.80" fill="none" stroke="#111" stroke-width="1.0"/>
<rect x="91.70" y="209.61" width="3.80" height="3.80" fill="none" stroke="#111" stroke-width="1.0"/>
<rect x="93.70" y="208.64" width="3.80" height="3.80" fill="none" stroke="#111" stroke-width="1.0"/>
<rect x="95.70" y="209.13" width="3.80" height="3.80" fill="none" stroke="#111" stroke-width="1.0"/>
<rect x="88.70" y="205.25" width="3.80" height="3.80" fill="none" stroke="#111" stroke-width="1.0"/>
<rect x="92.70" y="204.61" width="3.80" height="3.80" fill="none" stroke="#111" stroke-width="1.0"/>
<rect x="90.70" y="203.64" width="3.80" height="3.80" fill="none" stroke="#111" stroke-width="1.0"/>
<line x1="86.60" y1="205.22" x2="98.60" y2="205.22" stroke="#111" stroke-width="1.2" stroke-linecap="butt"/>
<line x1="92.60" y1="203.28" x2="92.60" y2="207.15" stroke="#111" stroke-width="1.2" stroke-linecap="butt"/>
<line x1="90.10" y1="203.28" x2="95.10" y2="203.28" stroke="#111" stroke-width="1.2" stroke-linecap="butt"/>
<line x1="90.10" y1="207.15" x2="95.10" y2="207.15" stroke="#111" stroke-width="1.2" stroke-linecap="butt"/>
<path d="M111.20,197.11 L113.40,201.31 L109.00,201.31 Z" fill="none" stroke="#a030c0" stroke-width="1.0" />
<path d="M106.20,208.40 L108.40,212.60 L104.00,212.60 Z" fill="none" stroke="#a030c0" stroke-width="1.0" />
<path d="M108.20,207.60 L110.40,211.80 L106.00,211.80 Z" fill="none" stroke="#a030c0" stroke-width="1.0" />
<path d="M110.20,208.56 L112.40,212.77 L108.00,212.77 Z" fill="none" stroke="#a030c0" stroke-width="1.0" />
<path d="M112.20,206.79 L114.40,210.99 L110.00,210.99 Z" fill="none" stroke="#a030c0" stroke-width="1.0" />
<path d="M114.20,207.76 L116.40,211.96 L112.00,211.96 Z" fill="none" stroke="#a030c0" stroke-width="1.0" />
<path d="M116.20,208.08 L118.40,212.28 L114.00,212.28 Z" fill="none" stroke="#a030c0" stroke-width="1.0" />
<path d="M107.20,205.98 L109.40,210.18 L105.00,210.18 Z" fill="none" stroke="#a030c0" stroke-width="1.0" />
<path d="M109.20,205.66 L111.40,209.86 L107.00,209.86 Z" fill="none" stroke="#a030c0" stroke-width="1.0" />
<path d="M111.20,207.76 L113.40,211.96 L109.00,211.96 Z" fill="none" stroke="#a030c0" stroke-width="1.0" />
<path d="M113.20,205.18 L115.40,209.38 L111.00,209.38 Z" fill="none" stroke="#a030c0" stroke-width="1.0" />
<path d="M115.20,206.47 L117.40,210.67 L113.00,210.67 Z" fill="none" stroke="#a030c0" stroke-width="1.0" />
<path d="M110.70,209.05 L112.90,213.25 L108.50,213.25 Z" fill="none" stroke="#a030c0" stroke-width="1.0" />
<path d="M113.20,208.89 L115.40,213.09 L111.00,213.09 Z" fill="none" stroke="#a030c0" stroke-width="1.0" />
<line x1="105.20" y1="209.09" x2="117.20" y2="209.09" stroke="#a030c0" stroke-width="1.2" stroke-linecap="butt"/>
<line x1="111.20" y1="208.12" x2="111.20" y2="210.06" stroke="#a030c0" stroke-width="1.2" stroke-linecap="butt"/>
<line x1="108.70" y1="208.12" x2="113.70" y2="208.12" stroke="#a030c0" stroke-width="1.2" stroke-linecap="butt"/>
<line x1="108.70" y1="210.06" x2="113.70" y2="210.06" stroke="#a030c0" stroke-width="1.2" stroke-linecap="butt"/>
<circle cx="123.50" cy="210.06" r="1.80" fill="#1414ff" stroke="#1414ff" stroke-width="0.8"/>
<circle cx="125.00" cy="209.41" r="1.80" fill="#1414ff" stroke="#1414ff" stroke-width="0.8"/>
<circle cx="126.50" cy="210.38" r="1.80" fill="#1414ff" stroke="#1414ff" stroke-width="0.8"/>
<circle cx="128.00" cy="209.57" r="1.80" fill="#1414ff" stroke="#1414ff" stroke-width="0.8"/>
<circle cx="129.50" cy="210.54" r="1.80" fill="#1414ff" stroke="#1414ff" stroke-width="0.8"/>
<circle cx="131.00" cy="209.74" r="1.80" fill="#1414ff" stroke="#1414ff" stroke-width="0.8"/>
<circle cx="132.50" cy="210.22" r="1.80" fill="#1414ff" stroke="#1414ff" stroke-width="0.8"/>
<circle cx="134.00" cy="209.41" r="1.80" fill="#1414ff" stroke="#1414ff" stroke-width="0.8"/>
<circle cx="135.50" cy="210.06" r="1.80" fill="#1414ff" stroke="#1414ff" stroke-width="0.8"/>
<circle cx="124.50" cy="211.03" r="1.80" fill="#1414ff" stroke="#1414ff" stroke-width="0.8"/>
<circle cx="127.50" cy="210.87" r="1.80" fill="#1414ff" stroke="#1414ff" stroke-width="0.8"/>
<circle cx="131.50" cy="211.03" r="1.80" fill="#1414ff" stroke="#1414ff" stroke-width="0.8"/>
<circle cx="134.50" cy="210.70" r="1.80" fill="#1414ff" stroke="#1414ff" stroke-width="0.8"/>
<circle cx="129.50" cy="209.09" r="1.80" fill="#1414ff" stroke="#1414ff" stroke-width="0.8"/>
<circle cx="141.60" cy="211.03" r="1.80" fill="#108a20" stroke="#108a20" stroke-width="0.8"/>
<circle cx="143.10" cy="210.06" r="1.80" fill="#108a20" stroke="#108a20" stroke-width="0.8"/>
<circle cx="144.60" cy="211.35" r="1.80" fill="#108a20" stroke="#108a20" stroke-width="0.8"/>
<circle cx="146.10" cy="209.57" r="1.80" fill="#108a20" stroke="#108a20" stroke-width="0.8"/>
<circle cx="147.60" cy="210.70" r="1.80" fill="#108a20" stroke="#108a20" stroke-width="0.8"/>
<circle cx="149.10" cy="209.09" r="1.80" fill="#108a20" stroke="#108a20" stroke-width="0.8"/>
<circle cx="150.60" cy="211.19" r="1.80" fill="#108a20" stroke="#108a20" stroke-width="0.8"/>
<circle cx="152.10" cy="209.90" r="1.80" fill="#108a20" stroke="#108a20" stroke-width="0.8"/>
<circle cx="153.60" cy="210.70" r="1.80" fill="#108a20" stroke="#108a20" stroke-width="0.8"/>
<circle cx="142.60" cy="211.83" r="1.80" fill="#108a20" stroke="#108a20" stroke-width="0.8"/>
<circle cx="145.60" cy="211.99" r="1.80" fill="#108a20" stroke="#108a20" stroke-width="0.8"/>
<circle cx="149.60" cy="211.67" r="1.80" fill="#108a20" stroke="#108a20" stroke-width="0.8"/>
<circle cx="152.60" cy="211.83" r="1.80" fill="#108a20" stroke="#108a20" stroke-width="0.8"/>
<circle cx="147.60" cy="208.77" r="1.80" fill="#108a20" stroke="#108a20" stroke-width="0.8"/>
<circle cx="144.60" cy="209.09" r="1.80" fill="#108a20" stroke="#108a20" stroke-width="0.8"/>
<line x1="62.70" y1="133.70" x2="62.70" y2="215.50" stroke="#111" stroke-width="1.3" stroke-linecap="butt"/>
<line x1="59.70" y1="214.90" x2="62.70" y2="214.90" stroke="#111" stroke-width="1.3" stroke-linecap="butt"/>
<text x="58.90" y="217.90" font-size="9.2" fill="#111" font-weight="bold" text-anchor="end">0</text>
<line x1="59.70" y1="198.76" x2="62.70" y2="198.76" stroke="#111" stroke-width="1.3" stroke-linecap="butt"/>
<text x="58.90" y="201.76" font-size="9.2" fill="#111" font-weight="bold" text-anchor="end">10</text>
<line x1="59.70" y1="182.62" x2="62.70" y2="182.62" stroke="#111" stroke-width="1.3" stroke-linecap="butt"/>
<text x="58.90" y="185.62" font-size="9.2" fill="#111" font-weight="bold" text-anchor="end">20</text>
<line x1="59.70" y1="166.48" x2="62.70" y2="166.48" stroke="#111" stroke-width="1.3" stroke-linecap="butt"/>
<text x="58.90" y="169.48" font-size="9.2" fill="#111" font-weight="bold" text-anchor="end">30</text>
<line x1="59.70" y1="150.34" x2="62.70" y2="150.34" stroke="#111" stroke-width="1.3" stroke-linecap="butt"/>
<text x="58.90" y="153.34" font-size="9.2" fill="#111" font-weight="bold" text-anchor="end">40</text>
<line x1="59.70" y1="134.20" x2="62.70" y2="134.20" stroke="#111" stroke-width="1.3" stroke-linecap="butt"/>
<text x="58.90" y="137.20" font-size="9.2" fill="#111" font-weight="bold" text-anchor="end">50</text>
<line x1="62.10" y1="214.90" x2="158.80" y2="214.90" stroke="#111" stroke-width="1.3" stroke-linecap="butt"/>
<line x1="74.40" y1="214.90" x2="74.40" y2="217.90" stroke="#111" stroke-width="1.3" stroke-linecap="butt"/>
<line x1="92.60" y1="214.90" x2="92.60" y2="217.90" stroke="#111" stroke-width="1.3" stroke-linecap="butt"/>
<line x1="111.20" y1="214.90" x2="111.20" y2="217.90" stroke="#111" stroke-width="1.3" stroke-linecap="butt"/>
<line x1="129.50" y1="214.90" x2="129.50" y2="217.90" stroke="#111" stroke-width="1.3" stroke-linecap="butt"/>
<line x1="147.60" y1="214.90" x2="147.60" y2="217.90" stroke="#111" stroke-width="1.3" stroke-linecap="butt"/>
<text x="41.80" y="174.00" font-size="9.2" fill="#111" font-weight="bold" text-anchor="middle" transform="rotate(-90 41.80 174.00)">WBC (x10<tspan font-size="5.5" dy="-3.5">6</tspan><tspan dy="3.5">/ml)</tspan></text>
<text x="77.90" y="227.10" font-size="9.3" fill="#111" font-weight="bold" text-anchor="end" transform="rotate(-45 77.90 227.10)">Vehicle</text>
<text x="96.10" y="227.10" font-size="9.3" fill="#111" font-weight="bold" text-anchor="end" transform="rotate(-45 96.10 227.10)">TKI</text>
<text x="114.70" y="227.10" font-size="9.3" fill="#111" font-weight="bold" text-anchor="end" transform="rotate(-45 114.70 227.10)">TKI+PD-1 Ab</text>
<text x="133.00" y="227.10" font-size="9.3" fill="#111" font-weight="bold" text-anchor="end" transform="rotate(-45 133.00 227.10)">TKI+M-miR-142</text>
<text x="151.10" y="227.10" font-size="9.3" fill="#111" font-weight="bold" text-anchor="end" transform="rotate(-45 151.10 227.10)">Combination</text>
<text x="65.00" y="135.10" font-size="9.4" fill="#111">P&lt;0.0001</text>
<line x1="74.40" y1="140.20" x2="95.00" y2="140.20" stroke="#111" stroke-width="1.6" stroke-linecap="butt"/>
<text x="107.00" y="142.60" font-size="9.4" fill="#111">P=0.24</text>
<line x1="95.00" y1="147.10" x2="149.60" y2="147.10" stroke="#111" stroke-width="1.6" stroke-linecap="butt"/>
<text x="97.50" y="157.60" font-size="9.4" fill="#111">P=0.29</text>
<line x1="95.00" y1="162.50" x2="130.30" y2="162.50" stroke="#111" stroke-width="1.6" stroke-linecap="butt"/>
<text x="88.80" y="171.60" font-size="9.4" fill="#111">P=0.65</text>
<line x1="95.00" y1="177.00" x2="113.00" y2="177.00" stroke="#111" stroke-width="1.6" stroke-linecap="butt"/>
<text x="117.00" y="179.60" font-size="9.4" fill="#111">P=0.79</text>
<line x1="116.60" y1="185.60" x2="148.40" y2="185.60" stroke="#111" stroke-width="1.6" stroke-linecap="butt"/>
<text x="122.80" y="196.60" font-size="9.4" fill="#111">P=0.85</text>
<line x1="126.60" y1="201.00" x2="148.40" y2="201.00" stroke="#111" stroke-width="1.6" stroke-linecap="butt"/>
<text x="180.20" y="143.60" font-size="18.5" fill="#000">c</text>
<text x="237.00" y="153.80" font-size="12.8" fill="#ff1010" font-weight="bold" text-anchor="middle">Vehicle</text>
<text x="335.80" y="153.80" font-size="12.8" fill="#111" font-weight="bold" text-anchor="middle">TKI</text>
<text x="434.00" y="153.80" font-size="12.8" fill="#e020e0" font-weight="bold" text-anchor="middle">TKI+PD-1 Ab</text>
<text x="530.00" y="153.80" font-size="12.8" fill="#1414ff" font-weight="bold" text-anchor="middle">TKI+M-miR-142</text>
<text x="628.60" y="153.80" font-size="12.8" fill="#1a7a1a" font-weight="bold" text-anchor="middle">Combination</text>
<text x="8.40" y="262.60" font-size="18.5" fill="#000">d</text>
<text x="19.00" y="292.90" font-size="10.5" fill="#111" font-weight="bold" textLength="105.00" lengthAdjust="spacingAndGlyphs">Leukemic cells in PB</text>
<rect x="34.60" y="344.30" width="9.60" height="47.60" fill="none" stroke="#ff1010" stroke-width="1"/>
<line x1="39.40" y1="342.60" x2="39.40" y2="344.30" stroke="#ff1010" stroke-width="1" stroke-linecap="butt"/>
<line x1="36.90" y1="342.60" x2="41.90" y2="342.60" stroke="#ff1010" stroke-width="1" stroke-linecap="butt"/>
<circle cx="39.40" cy="332.33" r="2.00" fill="none" stroke="#ff1010" stroke-width="1.0"/>
<circle cx="35.40" cy="334.51" r="2.00" fill="none" stroke="#ff1010" stroke-width="1.0"/>
<circle cx="43.40" cy="334.51" r="2.00" fill="none" stroke="#ff1010" stroke-width="1.0"/>
<circle cx="39.40" cy="337.50" r="2.00" fill="none" stroke="#ff1010" stroke-width="1.0"/>
<circle cx="35.40" cy="340.90" r="2.00" fill="none" stroke="#ff1010" stroke-width="1.0"/>
<circle cx="43.40" cy="340.90" r="2.00" fill="none" stroke="#ff1010" stroke-width="1.0"/>
<circle cx="39.40" cy="340.22" r="2.00" fill="none" stroke="#ff1010" stroke-width="1.0"/>
<circle cx="39.40" cy="344.30" r="2.00" fill="none" stroke="#ff1010" stroke-width="1.0"/>
<circle cx="35.40" cy="342.94" r="2.00" fill="none" stroke="#ff1010" stroke-width="1.0"/>
<circle cx="43.40" cy="342.94" r="2.00" fill="none" stroke="#ff1010" stroke-width="1.0"/>
<circle cx="35.40" cy="348.38" r="2.00" fill="none" stroke="#ff1010" stroke-width="1.0"/>
<circle cx="43.40" cy="348.38" r="2.00" fill="none" stroke="#ff1010" stroke-width="1.0"/>
<circle cx="39.40" cy="350.42" r="2.00" fill="none" stroke="#ff1010" stroke-width="1.0"/>
<circle cx="39.40" cy="356.54" r="2.00" fill="none" stroke="#ff1010" stroke-width="1.0"/>
<rect x="50.40" y="366.06" width="9.60" height="25.84" fill="none" stroke="#111" stroke-width="1"/>
<line x1="55.20" y1="364.02" x2="55.20" y2="366.06" stroke="#111" stroke-width="1" stroke-linecap="butt"/>
<line x1="52.70" y1="364.02" x2="57.70" y2="364.02" stroke="#111" stroke-width="1" stroke-linecap="butt"/>
<circle cx="55.20" cy="349.74" r="2.00" fill="none" stroke="#111" stroke-width="1.0"/>
<circle cx="53.20" cy="357.22" r="2.00" fill="none" stroke="#111" stroke-width="1.0"/>
<circle cx="57.20" cy="357.90" r="2.00" fill="none" stroke="#111" stroke-width="1.0"/>
<circle cx="55.20" cy="359.26" r="2.00" fill="none" stroke="#111" stroke-width="1.0"/>
<circle cx="51.20" cy="361.98" r="2.00" fill="none" stroke="#111" stroke-width="1.0"/>
<circle cx="59.20" cy="362.66" r="2.00" fill="none" stroke="#111" stroke-width="1.0"/>
<circle cx="53.20" cy="364.02" r="2.00" fill="none" stroke="#111" stroke-width="1.0"/>
<circle cx="57.20" cy="364.70" r="2.00" fill="none" stroke="#111" stroke-width="1.0"/>
<circle cx="51.20" cy="366.06" r="2.00" fill="none" stroke="#111" stroke-width="1.0"/>
<circle cx="55.20" cy="366.06" r="2.00" fill="none" stroke="#111" stroke-width="1.0"/>
<circle cx="59.20" cy="366.74" r="2.00" fill="none" stroke="#111" stroke-width="1.0"/>
<circle cx="53.20" cy="369.46" r="2.00" fill="none" stroke="#111" stroke-width="1.0"/>
<circle cx="57.20" cy="371.50" r="2.00" fill="none" stroke="#111" stroke-width="1.0"/>
<circle cx="55.20" cy="374.22" r="2.00" fill="none" stroke="#111" stroke-width="1.0"/>
<circle cx="52.20" cy="376.26" r="2.00" fill="none" stroke="#111" stroke-width="1.0"/>
<circle cx="57.20" cy="377.62" r="2.00" fill="none" stroke="#111" stroke-width="1.0"/>
<rect x="66.70" y="376.94" width="9.60" height="14.96" fill="none" stroke="#a020e0" stroke-width="1"/>
<line x1="71.50" y1="374.22" x2="71.50" y2="376.94" stroke="#a020e0" stroke-width="1" stroke-linecap="butt"/>
<line x1="69.00" y1="374.22" x2="74.00" y2="374.22" stroke="#a020e0" stroke-width="1" stroke-linecap="butt"/>
<circle cx="71.50" cy="359.26" r="2.00" fill="none" stroke="#a020e0" stroke-width="1.0"/>
<circle cx="68.50" cy="367.76" r="2.00" fill="none" stroke="#a020e0" stroke-width="1.0"/>
<circle cx="74.50" cy="368.10" r="2.00" fill="none" stroke="#a020e0" stroke-width="1.0"/>
<circle cx="71.50" cy="370.82" r="2.00" fill="none" stroke="#a020e0" stroke-width="1.0"/>
<circle cx="70.50" cy="374.90" r="2.00" fill="none" stroke="#a020e0" stroke-width="1.0"/>
<circle cx="74.50" cy="376.26" r="2.00" fill="none" stroke="#a020e0" stroke-width="1.0"/>
<circle cx="71.50" cy="379.66" r="2.00" fill="none" stroke="#a020e0" stroke-width="1.0"/>
<circle cx="68.50" cy="381.02" r="2.00" fill="none" stroke="#a020e0" stroke-width="1.0"/>
<circle cx="67.50" cy="386.46" r="2.00" fill="none" stroke="#a020e0" stroke-width="1.0"/>
<circle cx="71.50" cy="388.50" r="2.00" fill="none" stroke="#a020e0" stroke-width="1.0"/>
<circle cx="75.50" cy="387.82" r="2.00" fill="none" stroke="#a020e0" stroke-width="1.0"/>
<circle cx="68.50" cy="391.22" r="2.00" fill="none" stroke="#a020e0" stroke-width="1.0"/>
<circle cx="73.50" cy="391.22" r="2.00" fill="none" stroke="#a020e0" stroke-width="1.0"/>
<rect x="82.40" y="378.98" width="9.60" height="12.92" fill="none" stroke="#1414ff" stroke-width="1"/>
<line x1="87.20" y1="376.94" x2="87.20" y2="378.98" stroke="#1414ff" stroke-width="1" stroke-linecap="butt"/>
<line x1="84.70" y1="376.94" x2="89.70" y2="376.94" stroke="#1414ff" stroke-width="1" stroke-linecap="butt"/>
<circle cx="85.20" cy="364.70" r="2.00" fill="none" stroke="#1414ff" stroke-width="1.0"/>
<circle cx="89.20" cy="364.02" r="2.00" fill="none" stroke="#1414ff" stroke-width="1.0"/>
<circle cx="84.20" cy="367.42" r="2.00" fill="none" stroke="#1414ff" stroke-width="1.0"/>
<circle cx="87.20" cy="375.58" r="2.00" fill="none" stroke="#1414ff" stroke-width="1.0"/>
<circle cx="89.20" cy="376.94" r="2.00" fill="none" stroke="#1414ff" stroke-width="1.0"/>
<circle cx="84.20" cy="379.66" r="2.00" fill="none" stroke="#1414ff" stroke-width="1.0"/>
<circle cx="90.20" cy="381.02" r="2.00" fill="none" stroke="#1414ff" stroke-width="1.0"/>
<circle cx="83.20" cy="383.74" r="2.00" fill="none" stroke="#1414ff" stroke-width="1.0"/>
<circle cx="87.20" cy="385.10" r="2.00" fill="none" stroke="#1414ff" stroke-width="1.0"/>
<circle cx="91.20" cy="385.78" r="2.00" fill="none" stroke="#1414ff" stroke-width="1.0"/>
<circle cx="84.20" cy="388.50" r="2.00" fill="none" stroke="#1414ff" stroke-width="1.0"/>
<circle cx="89.20" cy="389.86" r="2.00" fill="none" stroke="#1414ff" stroke-width="1.0"/>
<circle cx="87.20" cy="390.54" r="2.00" fill="none" stroke="#1414ff" stroke-width="1.0"/>
<rect x="98.50" y="385.10" width="9.60" height="6.80" fill="none" stroke="#108a20" stroke-width="1"/>
<line x1="103.30" y1="383.74" x2="103.30" y2="385.10" stroke="#108a20" stroke-width="1" stroke-linecap="butt"/>
<line x1="100.80" y1="383.74" x2="105.80" y2="383.74" stroke="#108a20" stroke-width="1" stroke-linecap="butt"/>
<circle cx="103.30" cy="371.50" r="2.00" fill="none" stroke="#108a20" stroke-width="1.0"/>
<circle cx="103.30" cy="378.30" r="2.00" fill="none" stroke="#108a20" stroke-width="1.0"/>
<circle cx="100.30" cy="383.06" r="2.00" fill="none" stroke="#108a20" stroke-width="1.0"/>
<circle cx="103.30" cy="383.74" r="2.00" fill="none" stroke="#108a20" stroke-width="1.0"/>
<circle cx="106.30" cy="384.42" r="2.00" fill="none" stroke="#108a20" stroke-width="1.0"/>
<circle cx="99.30" cy="385.78" r="2.00" fill="none" stroke="#108a20" stroke-width="1.0"/>
<circle cx="102.30" cy="386.46" r="2.00" fill="none" stroke="#108a20" stroke-width="1.0"/>
<circle cx="105.30" cy="386.46" r="2.00" fill="none" stroke="#108a20" stroke-width="1.0"/>
<circle cx="107.30" cy="387.14" r="2.00" fill="none" stroke="#108a20" stroke-width="1.0"/>
<circle cx="100.30" cy="389.18" r="2.00" fill="none" stroke="#108a20" stroke-width="1.0"/>
<circle cx="103.30" cy="389.86" r="2.00" fill="none" stroke="#108a20" stroke-width="1.0"/>
<circle cx="106.30" cy="390.54" r="2.00" fill="none" stroke="#108a20" stroke-width="1.0"/>
<line x1="28.00" y1="323.40" x2="28.00" y2="392.50" stroke="#111" stroke-width="1.3" stroke-linecap="butt"/>
<line x1="25.00" y1="391.90" x2="28.00" y2="391.90" stroke="#111" stroke-width="1.3" stroke-linecap="butt"/>
<text x="24.20" y="394.90" font-size="8.4" fill="#111" font-weight="bold" text-anchor="end">0</text>
<line x1="25.00" y1="378.30" x2="28.00" y2="378.30" stroke="#111" stroke-width="1.3" stroke-linecap="butt"/>
<text x="24.20" y="381.30" font-size="8.4" fill="#111" font-weight="bold" text-anchor="end">20</text>
<line x1="25.00" y1="364.70" x2="28.00" y2="364.70" stroke="#111" stroke-width="1.3" stroke-linecap="butt"/>
<text x="24.20" y="367.70" font-size="8.4" fill="#111" font-weight="bold" text-anchor="end">40</text>
<line x1="25.00" y1="351.10" x2="28.00" y2="351.10" stroke="#111" stroke-width="1.3" stroke-linecap="butt"/>
<text x="24.20" y="354.10" font-size="8.4" fill="#111" font-weight="bold" text-anchor="end">60</text>
<line x1="25.00" y1="337.50" x2="28.00" y2="337.50" stroke="#111" stroke-width="1.3" stroke-linecap="butt"/>
<text x="24.20" y="340.50" font-size="8.4" fill="#111" font-weight="bold" text-anchor="end">80</text>
<line x1="25.00" y1="323.90" x2="28.00" y2="323.90" stroke="#111" stroke-width="1.3" stroke-linecap="butt"/>
<text x="24.20" y="326.90" font-size="8.4" fill="#111" font-weight="bold" text-anchor="end">100</text>
<line x1="27.40" y1="391.90" x2="114.70" y2="391.90" stroke="#111" stroke-width="1.3" stroke-linecap="butt"/>
<line x1="39.40" y1="391.90" x2="39.40" y2="394.90" stroke="#111" stroke-width="1.3" stroke-linecap="butt"/>
<line x1="55.20" y1="391.90" x2="55.20" y2="394.90" stroke="#111" stroke-width="1.3" stroke-linecap="butt"/>
<line x1="71.50" y1="391.90" x2="71.50" y2="394.90" stroke="#111" stroke-width="1.3" stroke-linecap="butt"/>
<line x1="87.20" y1="391.90" x2="87.20" y2="394.90" stroke="#111" stroke-width="1.3" stroke-linecap="butt"/>
<line x1="103.30" y1="391.90" x2="103.30" y2="394.90" stroke="#111" stroke-width="1.3" stroke-linecap="butt"/>
<text x="6.40" y="356.50" font-size="8.4" fill="#111" font-weight="bold" text-anchor="middle" transform="rotate(-90 6.40 356.50)">CD45.2+ in PB (%)</text>
<text x="41.90" y="402.90" font-size="8.4" fill="#111" font-weight="bold" text-anchor="end" transform="rotate(-45 41.90 402.90)">Vehicle</text>
<text x="57.70" y="402.90" font-size="8.4" fill="#111" font-weight="bold" text-anchor="end" transform="rotate(-45 57.70 402.90)">TKI</text>
<text x="74.00" y="402.90" font-size="8.4" fill="#111" font-weight="bold" text-anchor="end" transform="rotate(-45 74.00 402.90)">TKI+PD-1 Ab</text>
<text x="89.70" y="402.90" font-size="8.4" fill="#111" font-weight="bold" text-anchor="end" transform="rotate(-45 89.70 402.90)">TKI+M-miR-142</text>
<text x="105.80" y="402.90" font-size="8.4" fill="#111" font-weight="bold" text-anchor="end" transform="rotate(-45 105.80 402.90)">Combination</text>
<text x="30.60" y="303.40" font-size="8.1" fill="#111">P&lt;0.0001</text>
<line x1="40.30" y1="307.00" x2="55.70" y2="307.00" stroke="#111" stroke-width="1.6" stroke-linecap="butt"/>
<text x="62.50" y="310.40" font-size="8.1" fill="#111">P&lt;0.0001</text>
<line x1="56.00" y1="314.40" x2="103.30" y2="314.40" stroke="#111" stroke-width="1.6" stroke-linecap="butt"/>
<text x="55.70" y="323.40" font-size="8.1" fill="#111">P=0.0002</text>
<line x1="55.70" y1="327.20" x2="90.70" y2="327.20" stroke="#111" stroke-width="1.6" stroke-linecap="butt"/>
<text x="47.60" y="337.10" font-size="8.1" fill="#111">P=0.001</text>
<line x1="54.00" y1="341.00" x2="71.80" y2="341.00" stroke="#111" stroke-width="1.6" stroke-linecap="butt"/>
<text x="73.50" y="344.80" font-size="8.1" fill="#111">P=0.097</text>
<line x1="73.50" y1="349.00" x2="104.60" y2="349.00" stroke="#111" stroke-width="1.6" stroke-linecap="butt"/>
<text x="82.70" y="357.90" font-size="8.1" fill="#111">P=0.19</text>
<line x1="89.30" y1="361.70" x2="103.00" y2="361.70" stroke="#111" stroke-width="1.6" stroke-linecap="butt"/>
<text x="192.00" y="293.30" font-size="10.5" fill="#111" font-weight="bold" text-anchor="middle">T in BM</text>
<rect x="155.10" y="381.10" width="9.60" height="13.70" fill="none" stroke="#ff8a8a" stroke-width="1"/>
<line x1="159.90" y1="379.73" x2="159.90" y2="381.10" stroke="#ff8a8a" stroke-width="1" stroke-linecap="butt"/>
<line x1="157.40" y1="379.73" x2="162.40" y2="379.73" stroke="#ff8a8a" stroke-width="1" stroke-linecap="butt"/>
<circle cx="155.90" cy="377.68" r="2.20" fill="none" stroke="#ff1010" stroke-width="1.0"/>
<circle cx="160.84" cy="379.05" r="2.20" fill="none" stroke="#ff1010" stroke-width="1.0"/>
<circle cx="157.79" cy="380.42" r="2.20" fill="none" stroke="#ff1010" stroke-width="1.0"/>
<circle cx="162.73" cy="381.79" r="2.20" fill="none" stroke="#ff1010" stroke-width="1.0"/>
<circle cx="159.68" cy="383.16" r="2.20" fill="none" stroke="#ff1010" stroke-width="1.0"/>
<circle cx="156.62" cy="383.84" r="2.20" fill="none" stroke="#ff1010" stroke-width="1.0"/>
<circle cx="161.56" cy="378.36" r="2.20" fill="none" stroke="#ff1010" stroke-width="1.0"/>
<rect x="171.00" y="374.25" width="9.60" height="20.55" fill="none" stroke="#808080" stroke-width="1"/>
<line x1="175.80" y1="372.88" x2="175.80" y2="374.25" stroke="#808080" stroke-width="1" stroke-linecap="butt"/>
<line x1="173.30" y1="372.88" x2="178.30" y2="372.88" stroke="#808080" stroke-width="1" stroke-linecap="butt"/>
<circle cx="171.80" cy="369.46" r="2.20" fill="none" stroke="#111" stroke-width="1.0"/>
<circle cx="176.74" cy="372.19" r="2.20" fill="none" stroke="#111" stroke-width="1.0"/>
<circle cx="173.69" cy="373.56" r="2.20" fill="none" stroke="#111" stroke-width="1.0"/>
<circle cx="178.63" cy="374.94" r="2.20" fill="none" stroke="#111" stroke-width="1.0"/>
<circle cx="175.58" cy="376.31" r="2.20" fill="none" stroke="#111" stroke-width="1.0"/>
<circle cx="172.52" cy="376.99" r="2.20" fill="none" stroke="#111" stroke-width="1.0"/>
<rect x="187.20" y="363.98" width="9.60" height="30.82" fill="none" stroke="#c88ae8" stroke-width="1"/>
<line x1="192.00" y1="357.81" x2="192.00" y2="363.98" stroke="#c88ae8" stroke-width="1" stroke-linecap="butt"/>
<line x1="189.50" y1="357.81" x2="194.50" y2="357.81" stroke="#c88ae8" stroke-width="1" stroke-linecap="butt"/>
<circle cx="188.00" cy="340.00" r="2.20" fill="none" stroke="#a020e0" stroke-width="1.0"/>
<circle cx="192.94" cy="357.81" r="2.20" fill="none" stroke="#a020e0" stroke-width="1.0"/>
<circle cx="189.89" cy="363.29" r="2.20" fill="none" stroke="#a020e0" stroke-width="1.0"/>
<circle cx="194.83" cy="367.40" r="2.20" fill="none" stroke="#a020e0" stroke-width="1.0"/>
<circle cx="191.78" cy="371.51" r="2.20" fill="none" stroke="#a020e0" stroke-width="1.0"/>
<circle cx="188.72" cy="381.10" r="2.20" fill="none" stroke="#a020e0" stroke-width="1.0"/>
<rect x="203.30" y="368.77" width="9.60" height="26.03" fill="none" stroke="#7878ff" stroke-width="1"/>
<line x1="208.10" y1="364.66" x2="208.10" y2="368.77" stroke="#7878ff" stroke-width="1" stroke-linecap="butt"/>
<line x1="205.60" y1="364.66" x2="210.60" y2="364.66" stroke="#7878ff" stroke-width="1" stroke-linecap="butt"/>
<circle cx="204.10" cy="353.01" r="2.20" fill="none" stroke="#1414ff" stroke-width="1.0"/>
<circle cx="209.04" cy="363.29" r="2.20" fill="none" stroke="#1414ff" stroke-width="1.0"/>
<circle cx="205.99" cy="367.40" r="2.20" fill="none" stroke="#1414ff" stroke-width="1.0"/>
<circle cx="210.93" cy="370.82" r="2.20" fill="none" stroke="#1414ff" stroke-width="1.0"/>
<circle cx="207.88" cy="376.99" r="2.20" fill="none" stroke="#1414ff" stroke-width="1.0"/>
<circle cx="204.82" cy="381.10" r="2.20" fill="none" stroke="#1414ff" stroke-width="1.0"/>
<rect x="219.10" y="352.33" width="9.60" height="42.47" fill="none" stroke="#60b060" stroke-width="1"/>
<line x1="223.90" y1="346.17" x2="223.90" y2="352.33" stroke="#60b060" stroke-width="1" stroke-linecap="butt"/>
<line x1="221.40" y1="346.17" x2="226.40" y2="346.17" stroke="#60b060" stroke-width="1" stroke-linecap="butt"/>
<circle cx="219.90" cy="333.15" r="2.20" fill="none" stroke="#108a20" stroke-width="1.0"/>
<circle cx="224.84" cy="340.00" r="2.20" fill="none" stroke="#108a20" stroke-width="1.0"/>
<circle cx="221.79" cy="344.11" r="2.20" fill="none" stroke="#108a20" stroke-width="1.0"/>
<circle cx="226.73" cy="355.07" r="2.20" fill="none" stroke="#108a20" stroke-width="1.0"/>
<circle cx="223.68" cy="366.03" r="2.20" fill="none" stroke="#108a20" stroke-width="1.0"/>
<circle cx="220.62" cy="367.40" r="2.20" fill="none" stroke="#108a20" stroke-width="1.0"/>
<line x1="149.80" y1="325.80" x2="149.80" y2="395.40" stroke="#111" stroke-width="1.3" stroke-linecap="butt"/>
<line x1="146.80" y1="394.80" x2="149.80" y2="394.80" stroke="#111" stroke-width="1.3" stroke-linecap="butt"/>
<text x="146.00" y="397.80" font-size="8.4" fill="#111" font-weight="bold" text-anchor="end">0</text>
<line x1="146.80" y1="381.10" x2="149.80" y2="381.10" stroke="#111" stroke-width="1.3" stroke-linecap="butt"/>
<text x="146.00" y="384.10" font-size="8.4" fill="#111" font-weight="bold" text-anchor="end">1</text>
<line x1="146.80" y1="367.40" x2="149.80" y2="367.40" stroke="#111" stroke-width="1.3" stroke-linecap="butt"/>
<text x="146.00" y="370.40" font-size="8.4" fill="#111" font-weight="bold" text-anchor="end">2</text>
<line x1="146.80" y1="353.70" x2="149.80" y2="353.70" stroke="#111" stroke-width="1.3" stroke-linecap="butt"/>
<text x="146.00" y="356.70" font-size="8.4" fill="#111" font-weight="bold" text-anchor="end">3</text>
<line x1="146.80" y1="340.00" x2="149.80" y2="340.00" stroke="#111" stroke-width="1.3" stroke-linecap="butt"/>
<text x="146.00" y="343.00" font-size="8.4" fill="#111" font-weight="bold" text-anchor="end">4</text>
<line x1="146.80" y1="326.30" x2="149.80" y2="326.30" stroke="#111" stroke-width="1.3" stroke-linecap="butt"/>
<text x="146.00" y="329.30" font-size="8.4" fill="#111" font-weight="bold" text-anchor="end">5</text>
<line x1="149.20" y1="394.80" x2="234.30" y2="394.80" stroke="#111" stroke-width="1.3" stroke-linecap="butt"/>
<line x1="159.90" y1="394.80" x2="159.90" y2="397.80" stroke="#111" stroke-width="1.3" stroke-linecap="butt"/>
<line x1="175.80" y1="394.80" x2="175.80" y2="397.80" stroke="#111" stroke-width="1.3" stroke-linecap="butt"/>
<line x1="192.00" y1="394.80" x2="192.00" y2="397.80" stroke="#111" stroke-width="1.3" stroke-linecap="butt"/>
<line x1="208.10" y1="394.80" x2="208.10" y2="397.80" stroke="#111" stroke-width="1.3" stroke-linecap="butt"/>
<line x1="223.90" y1="394.80" x2="223.90" y2="397.80" stroke="#111" stroke-width="1.3" stroke-linecap="butt"/>
<text x="126.60" y="359.50" font-size="8.4" fill="#111" font-weight="bold" text-anchor="middle" transform="rotate(-90 126.60 359.50)">CD45.1+CD3+ in BM</text>
<text x="135.80" y="359.50" font-size="8.4" fill="#111" font-weight="bold" text-anchor="middle" transform="rotate(-90 135.80 359.50)">(x10<tspan font-size="5.5" dy="-3.4">5</tspan><tspan dy="3.4">/femur)</tspan></text>
<text x="162.40" y="405.80" font-size="8.4" fill="#111" font-weight="bold" text-anchor="end" transform="rotate(-45 162.40 405.80)">Vehicle</text>
<text x="178.30" y="405.80" font-size="8.4" fill="#111" font-weight="bold" text-anchor="end" transform="rotate(-45 178.30 405.80)">TKI</text>
<text x="194.50" y="405.80" font-size="8.4" fill="#111" font-weight="bold" text-anchor="end" transform="rotate(-45 194.50 405.80)">TKI+PD-1 Ab</text>
<text x="210.60" y="405.80" font-size="8.4" fill="#111" font-weight="bold" text-anchor="end" transform="rotate(-45 210.60 405.80)">TKI+M-miR-142</text>
<text x="226.40" y="405.80" font-size="8.4" fill="#111" font-weight="bold" text-anchor="end" transform="rotate(-45 226.40 405.80)">Combination</text>
<text x="183.60" y="302.00" font-size="8.1" fill="#111">P=0.006</text>
<line x1="173.60" y1="303.90" x2="225.80" y2="303.90" stroke="#111" stroke-width="1.6" stroke-linecap="butt"/>
<text x="197.30" y="312.80" font-size="8.1" fill="#111">P=0.28</text>
<line x1="192.50" y1="314.20" x2="224.80" y2="314.20" stroke="#111" stroke-width="1.6" stroke-linecap="butt"/>
<text x="176.80" y="323.20" font-size="8.1" fill="#111">P=0.51</text>
<line x1="173.60" y1="325.00" x2="207.20" y2="325.00" stroke="#111" stroke-width="1.6" stroke-linecap="butt"/>
<text x="204.00" y="323.20" font-size="8.1" fill="#111">P=0.106</text>
<line x1="207.70" y1="327.00" x2="224.80" y2="327.00" stroke="#111" stroke-width="1.6" stroke-linecap="butt"/>
<text x="171.00" y="334.60" font-size="8.1" fill="#111">P=0.28</text>
<line x1="173.60" y1="336.50" x2="192.50" y2="336.50" stroke="#111" stroke-width="1.6" stroke-linecap="butt"/>
<text x="155.50" y="360.20" font-size="8.1" fill="#111">P=0.60</text>
<line x1="159.70" y1="362.20" x2="176.00" y2="362.20" stroke="#111" stroke-width="1.6" stroke-linecap="butt"/>
<text x="257.00" y="266.60" font-size="18.5" fill="#000">e</text>
<text x="326.70" y="280.20" font-size="11.1" fill="#111" font-weight="bold" text-anchor="middle">Survival</text>
<line x1="249.50" y1="287.20" x2="259.00" y2="287.20" stroke="#ff1010" stroke-width="1.7" stroke-linecap="butt"/>
<line x1="254.30" y1="285.80" x2="254.30" y2="287.20" stroke="#ff1010" stroke-width="1.0" stroke-linecap="butt"/>
<text x="262.00" y="290.00" font-size="7.7" fill="#ff1010" font-weight="bold">Vehicle</text>
<line x1="249.50" y1="299.10" x2="259.00" y2="299.10" stroke="#111" stroke-width="1.7" stroke-linecap="butt"/>
<line x1="254.30" y1="297.70" x2="254.30" y2="299.10" stroke="#111" stroke-width="1.0" stroke-linecap="butt"/>
<text x="262.00" y="301.90" font-size="7.7" fill="#111" font-weight="bold">TKI</text>
<line x1="249.50" y1="311.00" x2="259.00" y2="311.00" stroke="#a020e0" stroke-width="1.7" stroke-linecap="butt"/>
<line x1="254.30" y1="309.60" x2="254.30" y2="311.00" stroke="#a020e0" stroke-width="1.0" stroke-linecap="butt"/>
<text x="262.00" y="313.80" font-size="7.7" fill="#a020e0" font-weight="bold">TKI+PD-1 Ab</text>
<line x1="249.50" y1="322.90" x2="259.00" y2="322.90" stroke="#1414ff" stroke-width="1.7" stroke-linecap="butt"/>
<line x1="254.30" y1="321.50" x2="254.30" y2="322.90" stroke="#1414ff" stroke-width="1.0" stroke-linecap="butt"/>
<text x="262.00" y="325.70" font-size="7.7" fill="#1414ff" font-weight="bold">TKI+M-miR-142</text>
<line x1="249.50" y1="334.80" x2="259.00" y2="334.80" stroke="#108a20" stroke-width="1.7" stroke-linecap="butt"/>
<line x1="254.30" y1="333.40" x2="254.30" y2="334.80" stroke="#108a20" stroke-width="1.0" stroke-linecap="butt"/>
<text x="262.00" y="337.60" font-size="7.7" fill="#108a20" font-weight="bold">Combination</text>
<line x1="290.90" y1="286.40" x2="290.90" y2="300.90" stroke="#111" stroke-width="1.5" stroke-linecap="butt"/>
<text x="292.80" y="298.20" font-size="6.8" fill="#333">0.005</text>
<line x1="311.60" y1="298.50" x2="311.60" y2="313.00" stroke="#111" stroke-width="1.5" stroke-linecap="butt"/>
<text x="313.30" y="309.60" font-size="6.8" fill="#333">0.041</text>
<line x1="333.30" y1="298.50" x2="333.30" y2="324.50" stroke="#111" stroke-width="1.5" stroke-linecap="butt"/>
<text x="335.00" y="315.00" font-size="6.8" fill="#333">0.041</text>
<line x1="321.30" y1="322.60" x2="321.30" y2="337.00" stroke="#111" stroke-width="1.5" stroke-linecap="butt"/>
<text x="323.70" y="333.70" font-size="6.8" fill="#333">0.025</text>
<line x1="353.80" y1="312.50" x2="353.80" y2="337.80" stroke="#111" stroke-width="1.5" stroke-linecap="butt"/>
<text x="355.50" y="328.20" font-size="6.8" fill="#333">0.025</text>
<line x1="374.30" y1="298.00" x2="374.30" y2="338.50" stroke="#111" stroke-width="1.5" stroke-linecap="butt"/>
<text x="376.00" y="321.60" font-size="6.8" fill="#333">&lt;0.001</text>
<path d="M266.50,346.60 L348.50,346.60 L348.50,351.06 L371.80,351.06 L371.80,356.07 L386.50,356.07" fill="none" stroke="#108a20" stroke-width="1.6" stroke-linejoin="miter"/>
<path d="M266.50,346.60 L325.30,346.60 L325.30,352.17 L328.00,352.17 L328.00,357.74 L330.40,357.74 L330.40,363.31 L344.40,363.31 L344.40,368.88 L354.40,368.88 L354.40,374.45 L359.90,374.45 L359.90,380.02 L363.00,380.02 L363.00,385.59 L386.50,385.59" fill="none" stroke="#1414ff" stroke-width="1.6" stroke-linejoin="miter"/>
<path d="M266.50,346.60 L327.10,346.60 L327.10,351.06 L328.50,351.06 L328.50,357.74 L330.40,357.74 L330.40,363.31 L336.20,363.31 L336.20,368.88 L349.90,368.88 L349.90,374.45 L354.10,374.45 L354.10,380.02 L386.50,380.02" fill="none" stroke="#a020e0" stroke-width="1.6" stroke-linejoin="miter"/>
<path d="M266.50,346.60 L308.50,346.60 L308.50,349.38 L310.30,349.38 L310.30,352.17 L314.30,352.17 L314.30,354.96 L316.10,354.96 L316.10,357.74 L318.00,357.74 L318.00,365.54 L319.40,365.54 L319.40,368.32 L325.30,368.32 L325.30,372.22 L331.60,372.22 L331.60,375.84 L333.50,375.84 L333.50,380.58 L335.30,380.58 L335.30,386.70 L344.40,386.70 L344.40,391.16 L354.40,391.16 L354.40,395.06 L359.50,395.06 L359.50,398.40 L367.20,398.40 L367.20,402.30" fill="none" stroke="#111" stroke-width="1.6" stroke-linejoin="miter"/>
<path d="M266.50,346.60 L300.10,346.60 L300.10,349.38 L301.00,349.38 L301.00,354.96 L302.10,354.96 L302.10,360.53 L304.30,360.53 L304.30,365.54 L305.50,365.54 L305.50,375.84 L309.70,375.84 L309.70,382.25 L312.10,382.25 L312.10,386.70 L313.40,386.70 L313.40,391.16 L319.80,391.16 L319.80,395.06 L321.20,395.06 L321.20,398.40 L349.90,398.40 L349.90,402.30" fill="none" stroke="#ff1010" stroke-width="1.6" stroke-linejoin="miter"/>
<line x1="266.30" y1="346.10" x2="266.30" y2="402.90" stroke="#7a7a7a" stroke-width="1.7" stroke-linecap="butt"/>
<line x1="263.30" y1="402.30" x2="266.30" y2="402.30" stroke="#7a7a7a" stroke-width="1.7" stroke-linecap="butt"/>
<text x="262.50" y="405.30" font-size="8.4" fill="#111" font-weight="bold" text-anchor="end">0</text>
<line x1="263.30" y1="391.16" x2="266.30" y2="391.16" stroke="#7a7a7a" stroke-width="1.7" stroke-linecap="butt"/>
<text x="262.50" y="394.16" font-size="8.4" fill="#111" font-weight="bold" text-anchor="end">20</text>
<line x1="263.30" y1="380.02" x2="266.30" y2="380.02" stroke="#7a7a7a" stroke-width="1.7" stroke-linecap="butt"/>
<text x="262.50" y="383.02" font-size="8.4" fill="#111" font-weight="bold" text-anchor="end">40</text>
<line x1="263.30" y1="368.88" x2="266.30" y2="368.88" stroke="#7a7a7a" stroke-width="1.7" stroke-linecap="butt"/>
<text x="262.50" y="371.88" font-size="8.4" fill="#111" font-weight="bold" text-anchor="end">60</text>
<line x1="263.30" y1="357.74" x2="266.30" y2="357.74" stroke="#7a7a7a" stroke-width="1.7" stroke-linecap="butt"/>
<text x="262.50" y="360.74" font-size="8.4" fill="#111" font-weight="bold" text-anchor="end">80</text>
<line x1="263.30" y1="346.60" x2="266.30" y2="346.60" stroke="#7a7a7a" stroke-width="1.7" stroke-linecap="butt"/>
<text x="262.50" y="349.60" font-size="8.4" fill="#111" font-weight="bold" text-anchor="end">100</text>
<line x1="265.70" y1="402.30" x2="386.30" y2="402.30" stroke="#111" stroke-width="1.3" stroke-linecap="butt"/>
<line x1="266.50" y1="402.30" x2="266.50" y2="405.30" stroke="#111" stroke-width="1.3" stroke-linecap="butt"/>
<line x1="286.50" y1="402.30" x2="286.50" y2="405.30" stroke="#111" stroke-width="1.3" stroke-linecap="butt"/>
<line x1="306.50" y1="402.30" x2="306.50" y2="405.30" stroke="#111" stroke-width="1.3" stroke-linecap="butt"/>
<line x1="326.50" y1="402.30" x2="326.50" y2="405.30" stroke="#111" stroke-width="1.3" stroke-linecap="butt"/>
<line x1="346.50" y1="402.30" x2="346.50" y2="405.30" stroke="#111" stroke-width="1.3" stroke-linecap="butt"/>
<line x1="366.50" y1="402.30" x2="366.50" y2="405.30" stroke="#111" stroke-width="1.3" stroke-linecap="butt"/>
<line x1="386.50" y1="402.30" x2="386.50" y2="405.30" stroke="#111" stroke-width="1.3" stroke-linecap="butt"/>
<text x="266.50" y="416.20" font-size="8.4" fill="#111" font-weight="bold" text-anchor="middle">0</text>
<text x="286.50" y="416.20" font-size="8.4" fill="#111" font-weight="bold" text-anchor="middle">20</text>
<text x="306.50" y="416.20" font-size="8.4" fill="#111" font-weight="bold" text-anchor="middle">40</text>
<text x="326.50" y="416.20" font-size="8.4" fill="#111" font-weight="bold" text-anchor="middle">60</text>
<text x="346.50" y="416.20" font-size="8.4" fill="#111" font-weight="bold" text-anchor="middle">80</text>
<text x="366.50" y="416.20" font-size="8.4" fill="#111" font-weight="bold" text-anchor="middle">100</text>
<text x="386.50" y="416.20" font-size="8.4" fill="#111" font-weight="bold" text-anchor="middle">120</text>
<text x="326.60" y="428.00" font-size="8.3" fill="#111" font-weight="bold" text-anchor="middle" textLength="93.00" lengthAdjust="spacingAndGlyphs">Days after transplantation</text>
<text x="246.40" y="373.20" font-size="8.4" fill="#111" font-weight="bold" text-anchor="middle" transform="rotate(-90 246.40 373.20)">Percent survival</text>
<text x="411.40" y="266.60" font-size="18.5" fill="#000">f</text>
<text x="489.00" y="267.60" font-size="15.5" fill="#111" font-weight="bold">2<tspan font-size="9.5" dy="-6">nd</tspan><tspan dy="6"> transplantation</tspan></text>
<line x1="452.40" y1="272.90" x2="664.70" y2="272.90" stroke="#ff0000" stroke-width="2.2" stroke-linecap="butt"/>
<text x="476.00" y="300.30" font-size="10.5" fill="#111" font-weight="bold" text-anchor="middle" textLength="104.00" lengthAdjust="spacingAndGlyphs">Leukemic cells in PB</text>
<rect x="438.80" y="366.99" width="9.60" height="31.51" fill="none" stroke="#ff6a6a" stroke-width="1"/>
<line x1="443.60" y1="364.94" x2="443.60" y2="366.99" stroke="#ff6a6a" stroke-width="1" stroke-linecap="butt"/>
<line x1="441.10" y1="364.94" x2="446.10" y2="364.94" stroke="#ff6a6a" stroke-width="1" stroke-linecap="butt"/>
<circle cx="439.40" cy="339.59" r="2.20" fill="none" stroke="#ff1010" stroke-width="1.0"/>
<circle cx="444.59" cy="341.64" r="2.20" fill="none" stroke="#ff1010" stroke-width="1.0"/>
<circle cx="441.38" cy="343.70" r="2.20" fill="none" stroke="#ff1010" stroke-width="1.0"/>
<circle cx="446.57" cy="364.25" r="2.20" fill="none" stroke="#ff1010" stroke-width="1.0"/>
<circle cx="443.36" cy="365.62" r="2.20" fill="none" stroke="#ff1010" stroke-width="1.0"/>
<circle cx="440.16" cy="366.31" r="2.20" fill="none" stroke="#ff1010" stroke-width="1.0"/>
<circle cx="445.35" cy="367.68" r="2.20" fill="none" stroke="#ff1010" stroke-width="1.0"/>
<circle cx="442.14" cy="368.36" r="2.20" fill="none" stroke="#ff1010" stroke-width="1.0"/>
<circle cx="447.33" cy="369.73" r="2.20" fill="none" stroke="#ff1010" stroke-width="1.0"/>
<circle cx="444.12" cy="371.10" r="2.20" fill="none" stroke="#ff1010" stroke-width="1.0"/>
<circle cx="440.91" cy="372.47" r="2.20" fill="none" stroke="#ff1010" stroke-width="1.0"/>
<circle cx="446.10" cy="373.84" r="2.20" fill="none" stroke="#ff1010" stroke-width="1.0"/>
<circle cx="442.89" cy="375.21" r="2.20" fill="none" stroke="#ff1010" stroke-width="1.0"/>
<circle cx="439.69" cy="375.89" r="2.20" fill="none" stroke="#ff1010" stroke-width="1.0"/>
<circle cx="444.88" cy="377.26" r="2.20" fill="none" stroke="#ff1010" stroke-width="1.0"/>
<circle cx="441.67" cy="377.95" r="2.20" fill="none" stroke="#ff1010" stroke-width="1.0"/>
<rect x="455.00" y="366.31" width="9.60" height="32.19" fill="none" stroke="#111" stroke-width="1"/>
<line x1="459.80" y1="362.88" x2="459.80" y2="366.31" stroke="#111" stroke-width="1" stroke-linecap="butt"/>
<line x1="457.30" y1="362.88" x2="462.30" y2="362.88" stroke="#111" stroke-width="1" stroke-linecap="butt"/>
<circle cx="455.30" cy="340.96" r="2.20" fill="none" stroke="#111" stroke-width="1.0"/>
<circle cx="460.86" cy="344.38" r="2.20" fill="none" stroke="#111" stroke-width="1.0"/>
<circle cx="457.42" cy="345.75" r="2.20" fill="none" stroke="#111" stroke-width="1.0"/>
<circle cx="462.99" cy="347.81" r="2.20" fill="none" stroke="#111" stroke-width="1.0"/>
<circle cx="459.55" cy="354.66" r="2.20" fill="none" stroke="#111" stroke-width="1.0"/>
<circle cx="456.11" cy="359.45" r="2.20" fill="none" stroke="#111" stroke-width="1.0"/>
<circle cx="461.67" cy="362.19" r="2.20" fill="none" stroke="#111" stroke-width="1.0"/>
<circle cx="458.23" cy="364.25" r="2.20" fill="none" stroke="#111" stroke-width="1.0"/>
<circle cx="463.80" cy="366.31" r="2.20" fill="none" stroke="#111" stroke-width="1.0"/>
<circle cx="460.36" cy="367.68" r="2.20" fill="none" stroke="#111" stroke-width="1.0"/>
<circle cx="456.92" cy="369.73" r="2.20" fill="none" stroke="#111" stroke-width="1.0"/>
<circle cx="462.48" cy="372.47" r="2.20" fill="none" stroke="#111" stroke-width="1.0"/>
<circle cx="459.04" cy="383.43" r="2.20" fill="none" stroke="#111" stroke-width="1.0"/>
<circle cx="455.61" cy="384.80" r="2.20" fill="none" stroke="#111" stroke-width="1.0"/>
<circle cx="461.17" cy="386.86" r="2.20" fill="none" stroke="#111" stroke-width="1.0"/>
<rect x="470.80" y="380.00" width="9.60" height="18.50" fill="none" stroke="#e878e8" stroke-width="1"/>
<line x1="475.60" y1="378.29" x2="475.60" y2="380.00" stroke="#e878e8" stroke-width="1" stroke-linecap="butt"/>
<line x1="473.10" y1="378.29" x2="478.10" y2="378.29" stroke="#e878e8" stroke-width="1" stroke-linecap="butt"/>
<circle cx="471.40" cy="367.68" r="2.20" fill="none" stroke="#e020e0" stroke-width="1.0"/>
<circle cx="476.59" cy="372.47" r="2.20" fill="none" stroke="#e020e0" stroke-width="1.0"/>
<circle cx="473.38" cy="375.21" r="2.20" fill="none" stroke="#e020e0" stroke-width="1.0"/>
<circle cx="478.57" cy="377.26" r="2.20" fill="none" stroke="#e020e0" stroke-width="1.0"/>
<circle cx="475.36" cy="378.63" r="2.20" fill="none" stroke="#e020e0" stroke-width="1.0"/>
<circle cx="472.16" cy="380.00" r="2.20" fill="none" stroke="#e020e0" stroke-width="1.0"/>
<circle cx="477.35" cy="381.38" r="2.20" fill="none" stroke="#e020e0" stroke-width="1.0"/>
<circle cx="474.14" cy="382.75" r="2.20" fill="none" stroke="#e020e0" stroke-width="1.0"/>
<circle cx="479.33" cy="384.12" r="2.20" fill="none" stroke="#e020e0" stroke-width="1.0"/>
<circle cx="476.12" cy="385.49" r="2.20" fill="none" stroke="#e020e0" stroke-width="1.0"/>
<circle cx="472.91" cy="386.86" r="2.20" fill="none" stroke="#e020e0" stroke-width="1.0"/>
<rect x="486.50" y="381.38" width="9.60" height="17.12" fill="none" stroke="#5a5aff" stroke-width="1"/>
<line x1="491.30" y1="379.66" x2="491.30" y2="381.38" stroke="#5a5aff" stroke-width="1" stroke-linecap="butt"/>
<line x1="488.80" y1="379.66" x2="493.80" y2="379.66" stroke="#5a5aff" stroke-width="1" stroke-linecap="butt"/>
<circle cx="487.10" cy="375.89" r="2.20" fill="none" stroke="#1414ff" stroke-width="1.0"/>
<circle cx="492.29" cy="376.58" r="2.20" fill="none" stroke="#1414ff" stroke-width="1.0"/>
<circle cx="489.08" cy="377.95" r="2.20" fill="none" stroke="#1414ff" stroke-width="1.0"/>
<circle cx="494.27" cy="379.32" r="2.20" fill="none" stroke="#1414ff" stroke-width="1.0"/>
<circle cx="491.06" cy="380.00" r="2.20" fill="none" stroke="#1414ff" stroke-width="1.0"/>
<circle cx="487.86" cy="381.38" r="2.20" fill="none" stroke="#1414ff" stroke-width="1.0"/>
<circle cx="493.05" cy="382.75" r="2.20" fill="none" stroke="#1414ff" stroke-width="1.0"/>
<circle cx="489.84" cy="384.12" r="2.20" fill="none" stroke="#1414ff" stroke-width="1.0"/>
<circle cx="495.03" cy="385.49" r="2.20" fill="none" stroke="#1414ff" stroke-width="1.0"/>
<circle cx="491.82" cy="387.54" r="2.20" fill="none" stroke="#1414ff" stroke-width="1.0"/>
<circle cx="488.61" cy="388.91" r="2.20" fill="none" stroke="#1414ff" stroke-width="1.0"/>
<circle cx="493.80" cy="377.26" r="2.20" fill="none" stroke="#1414ff" stroke-width="1.0"/>
<rect x="503.00" y="393.02" width="9.60" height="5.48" fill="none" stroke="#50a850" stroke-width="1"/>
<line x1="507.80" y1="392.20" x2="507.80" y2="393.02" stroke="#50a850" stroke-width="1" stroke-linecap="butt"/>
<line x1="505.30" y1="392.20" x2="510.30" y2="392.20" stroke="#50a850" stroke-width="1" stroke-linecap="butt"/>
<circle cx="503.60" cy="390.28" r="2.20" fill="none" stroke="#108a20" stroke-width="1.0"/>
<circle cx="508.79" cy="390.96" r="2.20" fill="none" stroke="#108a20" stroke-width="1.0"/>
<circle cx="505.58" cy="391.65" r="2.20" fill="none" stroke="#108a20" stroke-width="1.0"/>
<circle cx="510.77" cy="392.33" r="2.20" fill="none" stroke="#108a20" stroke-width="1.0"/>
<circle cx="507.56" cy="393.02" r="2.20" fill="none" stroke="#108a20" stroke-width="1.0"/>
<circle cx="504.36" cy="393.70" r="2.20" fill="none" stroke="#108a20" stroke-width="1.0"/>
<circle cx="509.55" cy="394.39" r="2.20" fill="none" stroke="#108a20" stroke-width="1.0"/>
<circle cx="506.34" cy="395.76" r="2.20" fill="none" stroke="#108a20" stroke-width="1.0"/>
<circle cx="511.53" cy="396.44" r="2.20" fill="none" stroke="#108a20" stroke-width="1.0"/>
<line x1="434.00" y1="329.50" x2="434.00" y2="399.10" stroke="#111" stroke-width="1.3" stroke-linecap="butt"/>
<line x1="431.00" y1="398.50" x2="434.00" y2="398.50" stroke="#111" stroke-width="1.3" stroke-linecap="butt"/>
<text x="430.20" y="401.50" font-size="8.4" fill="#111" font-weight="bold" text-anchor="end">0</text>
<line x1="431.00" y1="384.80" x2="434.00" y2="384.80" stroke="#111" stroke-width="1.3" stroke-linecap="butt"/>
<text x="430.20" y="387.80" font-size="8.4" fill="#111" font-weight="bold" text-anchor="end">20</text>
<line x1="431.00" y1="371.10" x2="434.00" y2="371.10" stroke="#111" stroke-width="1.3" stroke-linecap="butt"/>
<text x="430.20" y="374.10" font-size="8.4" fill="#111" font-weight="bold" text-anchor="end">40</text>
<line x1="431.00" y1="357.40" x2="434.00" y2="357.40" stroke="#111" stroke-width="1.3" stroke-linecap="butt"/>
<text x="430.20" y="360.40" font-size="8.4" fill="#111" font-weight="bold" text-anchor="end">60</text>
<line x1="431.00" y1="343.70" x2="434.00" y2="343.70" stroke="#111" stroke-width="1.3" stroke-linecap="butt"/>
<text x="430.20" y="346.70" font-size="8.4" fill="#111" font-weight="bold" text-anchor="end">80</text>
<line x1="431.00" y1="330.00" x2="434.00" y2="330.00" stroke="#111" stroke-width="1.3" stroke-linecap="butt"/>
<text x="430.20" y="333.00" font-size="8.4" fill="#111" font-weight="bold" text-anchor="end">100</text>
<line x1="433.40" y1="398.50" x2="518.70" y2="398.50" stroke="#111" stroke-width="1.3" stroke-linecap="butt"/>
<line x1="443.60" y1="398.50" x2="443.60" y2="401.50" stroke="#111" stroke-width="1.3" stroke-linecap="butt"/>
<line x1="459.80" y1="398.50" x2="459.80" y2="401.50" stroke="#111" stroke-width="1.3" stroke-linecap="butt"/>
<line x1="475.60" y1="398.50" x2="475.60" y2="401.50" stroke="#111" stroke-width="1.3" stroke-linecap="butt"/>
<line x1="491.30" y1="398.50" x2="491.30" y2="401.50" stroke="#111" stroke-width="1.3" stroke-linecap="butt"/>
<line x1="507.80" y1="398.50" x2="507.80" y2="401.50" stroke="#111" stroke-width="1.3" stroke-linecap="butt"/>
<text x="411.00" y="364.00" font-size="8.4" fill="#111" font-weight="bold" text-anchor="middle" transform="rotate(-90 411.00 364.00)">CD45.2+ in PB (%)</text>
<text x="446.10" y="409.50" font-size="8.4" fill="#111" font-weight="bold" text-anchor="end" transform="rotate(-45 446.10 409.50)">Vehicle</text>
<text x="462.30" y="409.50" font-size="8.4" fill="#111" font-weight="bold" text-anchor="end" transform="rotate(-45 462.30 409.50)">TKI</text>
<text x="478.10" y="409.50" font-size="8.4" fill="#111" font-weight="bold" text-anchor="end" transform="rotate(-45 478.10 409.50)">TKI+PD-1 Ab</text>
<text x="493.80" y="409.50" font-size="8.4" fill="#111" font-weight="bold" text-anchor="end" transform="rotate(-45 493.80 409.50)">TKI+M-miR-142</text>
<text x="510.30" y="409.50" font-size="8.4" fill="#111" font-weight="bold" text-anchor="end" transform="rotate(-45 510.30 409.50)">Combination</text>
<text x="467.30" y="313.40" font-size="8.1" fill="#111">P&lt;0.0001</text>
<line x1="459.60" y1="314.60" x2="509.30" y2="314.60" stroke="#111" stroke-width="1.6" stroke-linecap="butt"/>
<text x="458.50" y="324.00" font-size="8.1" fill="#111">P=0.0001</text>
<line x1="458.50" y1="325.60" x2="492.90" y2="325.60" stroke="#111" stroke-width="1.6" stroke-linecap="butt"/>
<text x="451.50" y="334.90" font-size="8.1" fill="#111">P=0.0006</text>
<line x1="458.50" y1="336.50" x2="478.90" y2="336.50" stroke="#111" stroke-width="1.6" stroke-linecap="butt"/>
<text x="479.30" y="351.90" font-size="8.1" fill="#111">P=0.026</text>
<line x1="477.80" y1="356.00" x2="510.60" y2="356.00" stroke="#111" stroke-width="1.6" stroke-linecap="butt"/>
<text x="488.00" y="366.80" font-size="8.1" fill="#111">P=0.06</text>
<line x1="492.00" y1="370.90" x2="509.30" y2="370.90" stroke="#111" stroke-width="1.6" stroke-linecap="butt"/>
<text x="615.80" y="287.60" font-size="11.5" fill="#111" font-weight="bold" text-anchor="middle">Survival</text>
<line x1="539.70" y1="294.50" x2="549.20" y2="294.50" stroke="#ff1010" stroke-width="1.7" stroke-linecap="butt"/>
<line x1="544.50" y1="293.10" x2="544.50" y2="294.50" stroke="#ff1010" stroke-width="1.0" stroke-linecap="butt"/>
<text x="553.50" y="297.30" font-size="7.6" fill="#ff1010" font-weight="bold">Vehicle</text>
<line x1="539.70" y1="305.10" x2="549.20" y2="305.10" stroke="#111" stroke-width="1.7" stroke-linecap="butt"/>
<line x1="544.50" y1="303.70" x2="544.50" y2="305.10" stroke="#111" stroke-width="1.0" stroke-linecap="butt"/>
<text x="553.50" y="307.90" font-size="7.6" fill="#111" font-weight="bold">TKI</text>
<line x1="539.70" y1="315.70" x2="549.20" y2="315.70" stroke="#a020e0" stroke-width="1.7" stroke-linecap="butt"/>
<line x1="544.50" y1="314.30" x2="544.50" y2="315.70" stroke="#a020e0" stroke-width="1.0" stroke-linecap="butt"/>
<text x="553.50" y="318.50" font-size="7.6" fill="#a020e0" font-weight="bold">TKI+PD-1 Ab</text>
<line x1="539.70" y1="326.30" x2="549.20" y2="326.30" stroke="#1414ff" stroke-width="1.7" stroke-linecap="butt"/>
<line x1="544.50" y1="324.90" x2="544.50" y2="326.30" stroke="#1414ff" stroke-width="1.0" stroke-linecap="butt"/>
<text x="553.50" y="329.10" font-size="7.6" fill="#1414ff" font-weight="bold">TKI+M-miR-142</text>
<line x1="539.70" y1="336.90" x2="549.20" y2="336.90" stroke="#108a20" stroke-width="1.7" stroke-linecap="butt"/>
<line x1="544.50" y1="335.50" x2="544.50" y2="336.90" stroke="#108a20" stroke-width="1.0" stroke-linecap="butt"/>
<text x="553.50" y="339.70" font-size="7.6" fill="#108a20" font-weight="bold">Combination</text>
<line x1="582.20" y1="294.00" x2="582.20" y2="307.60" stroke="#111" stroke-width="1.5" stroke-linecap="butt"/>
<text x="584.60" y="303.20" font-size="6.6" fill="#333">0.508</text>
<line x1="601.00" y1="304.60" x2="601.00" y2="318.60" stroke="#111" stroke-width="1.5" stroke-linecap="butt"/>
<text x="602.80" y="314.20" font-size="6.6" fill="#333">0.009</text>
<line x1="621.50" y1="304.60" x2="621.50" y2="326.80" stroke="#111" stroke-width="1.5" stroke-linecap="butt"/>
<text x="623.80" y="318.40" font-size="6.6" fill="#333">&lt;0.001</text>
<line x1="611.40" y1="326.80" x2="611.40" y2="338.50" stroke="#111" stroke-width="1.5" stroke-linecap="butt"/>
<text x="613.80" y="335.80" font-size="6.6" fill="#333">0.017</text>
<line x1="642.50" y1="318.00" x2="642.50" y2="340.30" stroke="#111" stroke-width="1.5" stroke-linecap="butt"/>
<text x="644.90" y="332.40" font-size="6.6" fill="#333">0.003</text>
<line x1="662.90" y1="304.60" x2="662.90" y2="340.30" stroke="#111" stroke-width="1.5" stroke-linecap="butt"/>
<text x="665.00" y="325.40" font-size="6.6" fill="#333">&lt;0.001</text>
<path d="M556.50,348.80 L620.42,348.80 L620.42,354.06 L629.54,354.06 L629.54,359.32 L667.35,359.32" fill="none" stroke="#108a20" stroke-width="1.6" stroke-linejoin="miter"/>
<path d="M556.50,348.80 L584.23,348.80 L584.23,354.06 L598.02,354.06 L598.02,359.32 L600.62,359.32 L600.62,364.58 L601.73,364.58 L601.73,369.84 L607.07,369.84 L607.07,375.10 L619.31,375.10 L619.31,380.36 L620.42,380.36 L620.42,385.62 L629.54,385.62 L629.54,390.88 L644.52,390.88 L644.52,396.14 L667.35,396.14" fill="none" stroke="#a020e0" stroke-width="1.6" stroke-linejoin="miter"/>
<path d="M556.50,348.80 L599.73,348.80 L599.73,354.06 L607.96,354.06 L607.96,359.32 L612.56,359.32 L612.56,369.84 L628.94,369.84 L628.94,375.10 L635.40,375.10 L635.40,380.36 L646.22,380.36 L646.22,385.62 L655.12,385.62 L655.12,390.88 L667.35,390.88" fill="none" stroke="#1414ff" stroke-width="1.6" stroke-linejoin="miter"/>
<path d="M556.50,348.80 L577.86,348.80 L577.86,351.43 L580.60,351.43 L580.60,354.06 L582.08,354.06 L582.08,356.69 L583.94,356.69 L583.94,359.32 L589.87,359.32 L589.87,361.95 L590.98,361.95 L590.98,364.58 L592.09,364.58 L592.09,367.21 L593.58,367.21 L593.58,369.84 L595.06,369.84 L595.06,372.47 L596.54,372.47 L596.54,375.10 L598.02,375.10 L598.02,377.73 L598.77,377.73 L598.77,380.36 L600.25,380.36 L600.25,382.99 L600.99,382.99 L600.99,385.62 L601.73,385.62 L601.73,388.25 L602.47,388.25 L602.47,390.88 L606.55,390.88" fill="none" stroke="#111" stroke-width="1.6" stroke-linejoin="miter"/>
<path d="M556.50,348.80 L576.89,348.80 L576.89,351.43 L579.49,351.43 L579.49,354.06 L582.45,354.06 L582.45,356.69 L584.68,356.69 L584.68,359.32 L588.38,359.32 L588.38,361.95 L589.13,361.95 L589.13,364.58 L590.61,364.58 L590.61,367.21 L592.09,367.21 L592.09,369.84 L593.58,369.84 L593.58,372.47 L594.32,372.47 L594.32,375.10 L596.54,375.10 L596.54,377.73 L600.25,377.73 L600.25,380.36 L603.21,380.36 L603.21,382.99 L603.96,382.99 L603.96,385.62 L605.44,385.62 L605.44,388.25 L606.18,388.25 L606.18,393.51 L606.92,393.51 L606.92,398.77 L607.29,398.77 L607.29,401.40" fill="none" stroke="#ff1010" stroke-width="1.6" stroke-linejoin="miter"/>
<line x1="556.50" y1="348.30" x2="556.50" y2="402.00" stroke="#7a7a7a" stroke-width="1.7" stroke-linecap="butt"/>
<line x1="553.50" y1="401.40" x2="556.50" y2="401.40" stroke="#7a7a7a" stroke-width="1.7" stroke-linecap="butt"/>
<text x="552.70" y="404.40" font-size="8.2" fill="#111" font-weight="bold" text-anchor="end">0</text>
<line x1="553.50" y1="390.88" x2="556.50" y2="390.88" stroke="#7a7a7a" stroke-width="1.7" stroke-linecap="butt"/>
<text x="552.70" y="393.88" font-size="8.2" fill="#111" font-weight="bold" text-anchor="end">20</text>
<line x1="553.50" y1="380.36" x2="556.50" y2="380.36" stroke="#7a7a7a" stroke-width="1.7" stroke-linecap="butt"/>
<text x="552.70" y="383.36" font-size="8.2" fill="#111" font-weight="bold" text-anchor="end">40</text>
<line x1="553.50" y1="369.84" x2="556.50" y2="369.84" stroke="#7a7a7a" stroke-width="1.7" stroke-linecap="butt"/>
<text x="552.70" y="372.84" font-size="8.2" fill="#111" font-weight="bold" text-anchor="end">60</text>
<line x1="553.50" y1="359.32" x2="556.50" y2="359.32" stroke="#7a7a7a" stroke-width="1.7" stroke-linecap="butt"/>
<text x="552.70" y="362.32" font-size="8.2" fill="#111" font-weight="bold" text-anchor="end">80</text>
<line x1="553.50" y1="348.80" x2="556.50" y2="348.80" stroke="#7a7a7a" stroke-width="1.7" stroke-linecap="butt"/>
<text x="552.70" y="351.80" font-size="8.2" fill="#111" font-weight="bold" text-anchor="end">100</text>
<line x1="555.90" y1="401.40" x2="674.50" y2="401.40" stroke="#111" stroke-width="1.3" stroke-linecap="butt"/>
<line x1="556.50" y1="401.40" x2="556.50" y2="404.40" stroke="#111" stroke-width="1.3" stroke-linecap="butt"/>
<line x1="571.33" y1="401.40" x2="571.33" y2="404.40" stroke="#111" stroke-width="1.3" stroke-linecap="butt"/>
<line x1="586.16" y1="401.40" x2="586.16" y2="404.40" stroke="#111" stroke-width="1.3" stroke-linecap="butt"/>
<line x1="600.99" y1="401.40" x2="600.99" y2="404.40" stroke="#111" stroke-width="1.3" stroke-linecap="butt"/>
<line x1="615.82" y1="401.40" x2="615.82" y2="404.40" stroke="#111" stroke-width="1.3" stroke-linecap="butt"/>
<line x1="630.65" y1="401.40" x2="630.65" y2="404.40" stroke="#111" stroke-width="1.3" stroke-linecap="butt"/>
<line x1="645.48" y1="401.40" x2="645.48" y2="404.40" stroke="#111" stroke-width="1.3" stroke-linecap="butt"/>
<line x1="660.31" y1="401.40" x2="660.31" y2="404.40" stroke="#111" stroke-width="1.3" stroke-linecap="butt"/>
<line x1="675.14" y1="401.40" x2="675.14" y2="404.40" stroke="#111" stroke-width="1.3" stroke-linecap="butt"/>
<text x="556.50" y="413.90" font-size="8.2" fill="#111" font-weight="bold" text-anchor="middle">0</text>
<text x="571.33" y="413.90" font-size="8.2" fill="#111" font-weight="bold" text-anchor="middle">20</text>
<text x="586.16" y="413.90" font-size="8.2" fill="#111" font-weight="bold" text-anchor="middle">40</text>
<text x="600.99" y="413.90" font-size="8.2" fill="#111" font-weight="bold" text-anchor="middle">60</text>
<text x="615.82" y="413.90" font-size="8.2" fill="#111" font-weight="bold" text-anchor="middle">80</text>
<text x="630.65" y="413.90" font-size="8.2" fill="#111" font-weight="bold" text-anchor="middle">100</text>
<text x="645.48" y="413.90" font-size="8.2" fill="#111" font-weight="bold" text-anchor="middle">120</text>
<text x="660.31" y="413.90" font-size="8.2" fill="#111" font-weight="bold" text-anchor="middle">140</text>
<text x="675.14" y="413.90" font-size="8.2" fill="#111" font-weight="bold" text-anchor="middle">160</text>
<text x="615.30" y="426.60" font-size="8.3" fill="#111" font-weight="bold" text-anchor="middle" textLength="93.00" lengthAdjust="spacingAndGlyphs">Days after transplantation</text>
<text x="535.80" y="372.00" font-size="8.2" fill="#111" font-weight="bold" text-anchor="middle" transform="rotate(-90 535.80 372.00)">Percent survival</text>
<text x="3.80" y="469.60" font-size="18.5" fill="#000">g</text>
<text x="178.80" y="464.80" font-size="8.6" fill="#111" font-weight="bold" text-anchor="middle" textLength="59.00" lengthAdjust="spacingAndGlyphs">CML BC PDX</text>
<rect x="56.90" y="507.10" width="74.50" height="30.00" fill="none" stroke="#000" stroke-width="1.5"/>
<text x="94.20" y="520.30" font-size="8.3" fill="#111" text-anchor="middle" textLength="63.50" lengthAdjust="spacingAndGlyphs">Human  BC CML</text>
<text x="94.00" y="530.40" font-size="8.3" fill="#111" text-anchor="middle" textLength="47.00" lengthAdjust="spacingAndGlyphs">CD34+ cells</text>
<line x1="131.40" y1="508.80" x2="168.77" y2="484.51" stroke="#222" stroke-width="2.2" stroke-linecap="butt"/>
<path d="M171.70,482.60 L169.86,486.18 L167.68,482.83 Z" fill="#222" />
<line x1="131.40" y1="515.80" x2="163.74" y2="503.08" stroke="#222" stroke-width="2.2" stroke-linecap="butt"/>
<path d="M167.00,501.80 L164.47,504.94 L163.01,501.22 Z" fill="#222" />
<line x1="131.40" y1="521.80" x2="164.50" y2="521.80" stroke="#222" stroke-width="2.2" stroke-linecap="butt"/>
<path d="M168.00,521.80 L164.50,523.80 L164.50,519.80 Z" fill="#222" />
<line x1="131.40" y1="526.40" x2="164.76" y2="540.07" stroke="#222" stroke-width="2.2" stroke-linecap="butt"/>
<path d="M168.00,541.40 L164.00,541.92 L165.52,538.22 Z" fill="#222" />
<line x1="131.40" y1="531.60" x2="168.89" y2="559.32" stroke="#222" stroke-width="2.2" stroke-linecap="butt"/>
<path d="M171.70,561.40 L167.70,560.93 L170.07,557.71 Z" fill="#222" />
<g transform="translate(171.00,472.50) scale(1.0)">
<path d="M9,7.5 C6,4.5 2,3.8 0.6,5.6 C0.1,7 1.5,8 3,8.3" fill="none" stroke="#dca8a4" stroke-width="0.9" />
<path d="M11,13 L10.6,16.4 L12.2,16.4 M19.5,13 L20.2,16 L21.8,16" fill="none" stroke="#e9aaa6" stroke-width="0.9" />
<path d="M8.6,9 C8.6,4.8 11.8,3 15.5,3.2 C19.5,3.3 22.5,5 24,7.4 C25,8.6 24.6,9.8 23.4,10.2 C22.2,12.8 19.2,14.6 15.2,14.6 C11,14.6 8.6,12.4 8.6,9 Z" fill="#efe9e6" stroke="#d2c2bc" stroke-width="0.4" />
<ellipse cx="15.4" cy="3.6" rx="2.3" ry="2.9" fill="#e9aaa6"/>
<path d="M20.3,1.2 L22.4,3.6 L19.6,4.2 Z" fill="#efd6d2" stroke="#e9aaa6" stroke-width="0.4" />
<circle cx="21.40" cy="6.20" r="0.55" fill="#c03a3a"/>
</g>
<g transform="translate(171.00,493.00) scale(1.0)">
<path d="M9,7.5 C6,4.5 2,3.8 0.6,5.6 C0.1,7 1.5,8 3,8.3" fill="none" stroke="#dca8a4" stroke-width="0.9" />
<path d="M11,13 L10.6,16.4 L12.2,16.4 M19.5,13 L20.2,16 L21.8,16" fill="none" stroke="#e9aaa6" stroke-width="0.9" />
<path d="M8.6,9 C8.6,4.8 11.8,3 15.5,3.2 C19.5,3.3 22.5,5 24,7.4 C25,8.6 24.6,9.8 23.4,10.2 C22.2,12.8 19.2,14.6 15.2,14.6 C11,14.6 8.6,12.4 8.6,9 Z" fill="#efe9e6" stroke="#d2c2bc" stroke-width="0.4" />
<ellipse cx="15.4" cy="3.6" rx="2.3" ry="2.9" fill="#e9aaa6"/>
<path d="M20.3,1.2 L22.4,3.6 L19.6,4.2 Z" fill="#efd6d2" stroke="#e9aaa6" stroke-width="0.4" />
<circle cx="21.40" cy="6.20" r="0.55" fill="#c03a3a"/>
</g>
<g transform="translate(171.00,512.70) scale(1.0)">
<path d="M9,7.5 C6,4.5 2,3.8 0.6,5.6 C0.1,7 1.5,8 3,8.3" fill="none" stroke="#dca8a4" stroke-width="0.9" />
<path d="M11,13 L10.6,16.4 L12.2,16.4 M19.5,13 L20.2,16 L21.8,16" fill="none" stroke="#e9aaa6" stroke-width="0.9" />
<path d="M8.6,9 C8.6,4.8 11.8,3 15.5,3.2 C19.5,3.3 22.5,5 24,7.4 C25,8.6 24.6,9.8 23.4,10.2 C22.2,12.8 19.2,14.6 15.2,14.6 C11,14.6 8.6,12.4 8.6,9 Z" fill="#efe9e6" stroke="#d2c2bc" stroke-width="0.4" />
<ellipse cx="15.4" cy="3.6" rx="2.3" ry="2.9" fill="#e9aaa6"/>
<path d="M20.3,1.2 L22.4,3.6 L19.6,4.2 Z" fill="#efd6d2" stroke="#e9aaa6" stroke-width="0.4" />
<circle cx="21.40" cy="6.20" r="0.55" fill="#c03a3a"/>
</g>
<g transform="translate(171.00,533.00) scale(1.0)">
<path d="M9,7.5 C6,4.5 2,3.8 0.6,5.6 C0.1,7 1.5,8 3,8.3" fill="none" stroke="#dca8a4" stroke-width="0.9" />
<path d="M11,13 L10.6,16.4 L12.2,16.4 M19.5,13 L20.2,16 L21.8,16" fill="none" stroke="#e9aaa6" stroke-width="0.9" />
<path d="M8.6,9 C8.6,4.8 11.8,3 15.5,3.2 C19.5,3.3 22.5,5 24,7.4 C25,8.6 24.6,9.8 23.4,10.2 C22.2,12.8 19.2,14.6 15.2,14.6 C11,14.6 8.6,12.4 8.6,9 Z" fill="#efe9e6" stroke="#d2c2bc" stroke-width="0.4" />
<ellipse cx="15.4" cy="3.6" rx="2.3" ry="2.9" fill="#e9aaa6"/>
<path d="M20.3,1.2 L22.4,3.6 L19.6,4.2 Z" fill="#efd6d2" stroke="#e9aaa6" stroke-width="0.4" />
<circle cx="21.40" cy="6.20" r="0.55" fill="#c03a3a"/>
</g>
<g transform="translate(171.00,558.00) scale(1.0)">
<path d="M9,7.5 C6,4.5 2,3.8 0.6,5.6 C0.1,7 1.5,8 3,8.3" fill="none" stroke="#dca8a4" stroke-width="0.9" />
<path d="M11,13 L10.6,16.4 L12.2,16.4 M19.5,13 L20.2,16 L21.8,16" fill="none" stroke="#e9aaa6" stroke-width="0.9" />
<path d="M8.6,9 C8.6,4.8 11.8,3 15.5,3.2 C19.5,3.3 22.5,5 24,7.4 C25,8.6 24.6,9.8 23.4,10.2 C22.2,12.8 19.2,14.6 15.2,14.6 C11,14.6 8.6,12.4 8.6,9 Z" fill="#efe9e6" stroke="#d2c2bc" stroke-width="0.4" />
<ellipse cx="15.4" cy="3.6" rx="2.3" ry="2.9" fill="#e9aaa6"/>
<path d="M20.3,1.2 L22.4,3.6 L19.6,4.2 Z" fill="#efd6d2" stroke="#e9aaa6" stroke-width="0.4" />
<circle cx="21.40" cy="6.20" r="0.55" fill="#c03a3a"/>
</g>
<text x="185.30" y="585.80" font-size="8.6" fill="#111" font-weight="bold" text-anchor="middle" textLength="27.00" lengthAdjust="spacingAndGlyphs">NSGS</text>
<rect x="242.00" y="455.10" width="66.00" height="12.20" fill="none" stroke="#000" stroke-width="1"/>
<text x="275.00" y="464.90" font-size="9.3" fill="#ff00ff" text-anchor="middle">Day 14: <tspan font-weight="bold">10</tspan><tspan font-size="5.8" dy="-3.6" font-weight="bold">6</tspan><tspan dy="3.6" font-weight="bold"> T</tspan></text>
<text x="315.40" y="464.60" font-size="9.4" fill="#111" textLength="103.00" lengthAdjust="spacingAndGlyphs">Day 15: treatment starts</text>
<line x1="197.20" y1="480.50" x2="434.50" y2="480.50" stroke="#000" stroke-width="2.5" stroke-linecap="butt"/>
<path d="M439.00,480.50 L434.50,483.10 L434.50,477.90 Z" fill="#000" />
<line x1="197.20" y1="499.60" x2="434.50" y2="499.60" stroke="#000" stroke-width="2.5" stroke-linecap="butt"/>
<path d="M439.00,499.60 L434.50,502.20 L434.50,497.00 Z" fill="#000" />
<line x1="197.20" y1="517.70" x2="434.50" y2="517.70" stroke="#000" stroke-width="2.5" stroke-linecap="butt"/>
<path d="M439.00,517.70 L434.50,520.30 L434.50,515.10 Z" fill="#000" />
<line x1="197.20" y1="543.00" x2="434.50" y2="543.00" stroke="#000" stroke-width="2.5" stroke-linecap="butt"/>
<path d="M439.00,543.00 L434.50,545.60 L434.50,540.40 Z" fill="#000" />
<line x1="197.20" y1="566.60" x2="434.50" y2="566.60" stroke="#000" stroke-width="2.5" stroke-linecap="butt"/>
<path d="M439.00,566.60 L434.50,569.20 L434.50,564.00 Z" fill="#000" />
<text x="230.20" y="478.20" font-size="9.5" fill="#ff1010" text-anchor="middle">Vehicle</text>
<text x="232.00" y="497.30" font-size="9.5" fill="#111" text-anchor="middle">TKI</text>
<text x="232.00" y="516.20" font-size="9.5" fill="#1414ff" text-anchor="middle">TKI</text>
<text x="231.20" y="528.90" font-size="9.5" fill="#1414ff" text-anchor="middle">M-miR-142</text>
<text x="232.00" y="540.10" font-size="9.5" fill="#a030c0" text-anchor="middle">TKI</text>
<text x="230.70" y="552.60" font-size="9.5" fill="#a030c0" text-anchor="middle">PD-1 Ab</text>
<text x="232.00" y="563.30" font-size="9.5" fill="#108a20" text-anchor="middle">TKI</text>
<text x="231.20" y="578.10" font-size="9.5" fill="#108a20" text-anchor="middle">M-miR-142</text>
<text x="231.20" y="589.60" font-size="9.5" fill="#108a20" font-weight="bold" text-anchor="middle">PD-1 Ab</text>
<path d="M282.30,469.80 L282.30,477.80 M279.20,473.40 L282.30,477.80 L285.40,473.40" fill="none" stroke="#ff1010" stroke-width="1.0" stroke-linejoin="miter"/>
<path d="M290.20,469.80 L290.20,477.80 M287.10,473.40 L290.20,477.80 L293.30,473.40" fill="none" stroke="#ff1010" stroke-width="1.0" stroke-linejoin="miter"/>
<path d="M298.10,469.80 L298.10,477.80 M295.00,473.40 L298.10,477.80 L301.20,473.40" fill="none" stroke="#ff1010" stroke-width="1.0" stroke-linejoin="miter"/>
<path d="M306.00,469.80 L306.00,477.80 M302.90,473.40 L306.00,477.80 L309.10,473.40" fill="none" stroke="#ff1010" stroke-width="1.0" stroke-linejoin="miter"/>
<path d="M313.90,469.80 L313.90,477.80 M310.80,473.40 L313.90,477.80 L317.00,473.40" fill="none" stroke="#ff1010" stroke-width="1.0" stroke-linejoin="miter"/>
<path d="M321.80,469.80 L321.80,477.80 M318.70,473.40 L321.80,477.80 L324.90,473.40" fill="none" stroke="#ff1010" stroke-width="1.0" stroke-linejoin="miter"/>
<path d="M336.00,469.80 L336.00,477.80 M332.90,473.40 L336.00,477.80 L339.10,473.40" fill="none" stroke="#ff1010" stroke-width="1.0" stroke-linejoin="miter"/>
<path d="M343.20,469.80 L343.20,477.80 M340.10,473.40 L343.20,477.80 L346.30,473.40" fill="none" stroke="#ff1010" stroke-width="1.0" stroke-linejoin="miter"/>
<path d="M350.40,469.80 L350.40,477.80 M347.30,473.40 L350.40,477.80 L353.50,473.40" fill="none" stroke="#ff1010" stroke-width="1.0" stroke-linejoin="miter"/>
<path d="M357.60,469.80 L357.60,477.80 M354.50,473.40 L357.60,477.80 L360.70,473.40" fill="none" stroke="#ff1010" stroke-width="1.0" stroke-linejoin="miter"/>
<path d="M364.80,469.80 L364.80,477.80 M361.70,473.40 L364.80,477.80 L367.90,473.40" fill="none" stroke="#ff1010" stroke-width="1.0" stroke-linejoin="miter"/>
<path d="M372.00,469.80 L372.00,477.80 M368.90,473.40 L372.00,477.80 L375.10,473.40" fill="none" stroke="#ff1010" stroke-width="1.0" stroke-linejoin="miter"/>
<path d="M386.80,469.80 L386.80,477.80 M383.70,473.40 L386.80,477.80 L389.90,473.40" fill="none" stroke="#ff1010" stroke-width="1.0" stroke-linejoin="miter"/>
<path d="M394.25,469.80 L394.25,477.80 M391.15,473.40 L394.25,477.80 L397.35,473.40" fill="none" stroke="#ff1010" stroke-width="1.0" stroke-linejoin="miter"/>
<path d="M401.70,469.80 L401.70,477.80 M398.60,473.40 L401.70,477.80 L404.80,473.40" fill="none" stroke="#ff1010" stroke-width="1.0" stroke-linejoin="miter"/>
<path d="M409.15,469.80 L409.15,477.80 M406.05,473.40 L409.15,477.80 L412.25,473.40" fill="none" stroke="#ff1010" stroke-width="1.0" stroke-linejoin="miter"/>
<path d="M416.60,469.80 L416.60,477.80 M413.50,473.40 L416.60,477.80 L419.70,473.40" fill="none" stroke="#ff1010" stroke-width="1.0" stroke-linejoin="miter"/>
<path d="M424.05,469.80 L424.05,477.80 M420.95,473.40 L424.05,477.80 L427.15,473.40" fill="none" stroke="#ff1010" stroke-width="1.0" stroke-linejoin="miter"/>
<path d="M282.30,488.40 L282.30,496.40 M279.20,492.00 L282.30,496.40 L285.40,492.00" fill="none" stroke="#111" stroke-width="1.0" stroke-linejoin="miter"/>
<path d="M290.20,488.40 L290.20,496.40 M287.10,492.00 L290.20,496.40 L293.30,492.00" fill="none" stroke="#111" stroke-width="1.0" stroke-linejoin="miter"/>
<path d="M298.10,488.40 L298.10,496.40 M295.00,492.00 L298.10,496.40 L301.20,492.00" fill="none" stroke="#111" stroke-width="1.0" stroke-linejoin="miter"/>
<path d="M306.00,488.40 L306.00,496.40 M302.90,492.00 L306.00,496.40 L309.10,492.00" fill="none" stroke="#111" stroke-width="1.0" stroke-linejoin="miter"/>
<path d="M313.90,488.40 L313.90,496.40 M310.80,492.00 L313.90,496.40 L317.00,492.00" fill="none" stroke="#111" stroke-width="1.0" stroke-linejoin="miter"/>
<path d="M321.80,488.40 L321.80,496.40 M318.70,492.00 L321.80,496.40 L324.90,492.00" fill="none" stroke="#111" stroke-width="1.0" stroke-linejoin="miter"/>
<path d="M336.00,488.40 L336.00,496.40 M332.90,492.00 L336.00,496.40 L339.10,492.00" fill="none" stroke="#111" stroke-width="1.0" stroke-linejoin="miter"/>
<path d="M343.20,488.40 L343.20,496.40 M340.10,492.00 L343.20,496.40 L346.30,492.00" fill="none" stroke="#111" stroke-width="1.0" stroke-linejoin="miter"/>
<path d="M350.40,488.40 L350.40,496.40 M347.30,492.00 L350.40,496.40 L353.50,492.00" fill="none" stroke="#111" stroke-width="1.0" stroke-linejoin="miter"/>
<path d="M357.60,488.40 L357.60,496.40 M354.50,492.00 L357.60,496.40 L360.70,492.00" fill="none" stroke="#111" stroke-width="1.0" stroke-linejoin="miter"/>
<path d="M364.80,488.40 L364.80,496.40 M361.70,492.00 L364.80,496.40 L367.90,492.00" fill="none" stroke="#111" stroke-width="1.0" stroke-linejoin="miter"/>
<path d="M372.00,488.40 L372.00,496.40 M368.90,492.00 L372.00,496.40 L375.10,492.00" fill="none" stroke="#111" stroke-width="1.0" stroke-linejoin="miter"/>
<path d="M386.80,488.40 L386.80,496.40 M383.70,492.00 L386.80,496.40 L389.90,492.00" fill="none" stroke="#111" stroke-width="1.0" stroke-linejoin="miter"/>
<path d="M394.25,488.40 L394.25,496.40 M391.15,492.00 L394.25,496.40 L397.35,492.00" fill="none" stroke="#111" stroke-width="1.0" stroke-linejoin="miter"/>
<path d="M401.70,488.40 L401.70,496.40 M398.60,492.00 L401.70,496.40 L404.80,492.00" fill="none" stroke="#111" stroke-width="1.0" stroke-linejoin="miter"/>
<path d="M409.15,488.40 L409.15,496.40 M406.05,492.00 L409.15,496.40 L412.25,492.00" fill="none" stroke="#111" stroke-width="1.0" stroke-linejoin="miter"/>
<path d="M416.60,488.40 L416.60,496.40 M413.50,492.00 L416.60,496.40 L419.70,492.00" fill="none" stroke="#111" stroke-width="1.0" stroke-linejoin="miter"/>
<path d="M424.05,488.40 L424.05,496.40 M420.95,492.00 L424.05,496.40 L427.15,492.00" fill="none" stroke="#111" stroke-width="1.0" stroke-linejoin="miter"/>
<path d="M282.30,506.50 L282.30,514.60 M279.20,510.20 L282.30,514.60 L285.40,510.20" fill="none" stroke="#1414ff" stroke-width="1.0" stroke-linejoin="miter"/>
<path d="M290.20,506.50 L290.20,514.60 M287.10,510.20 L290.20,514.60 L293.30,510.20" fill="none" stroke="#1414ff" stroke-width="1.0" stroke-linejoin="miter"/>
<path d="M298.10,506.50 L298.10,514.60 M295.00,510.20 L298.10,514.60 L301.20,510.20" fill="none" stroke="#1414ff" stroke-width="1.0" stroke-linejoin="miter"/>
<path d="M306.00,506.50 L306.00,514.60 M302.90,510.20 L306.00,514.60 L309.10,510.20" fill="none" stroke="#1414ff" stroke-width="1.0" stroke-linejoin="miter"/>
<path d="M313.90,506.50 L313.90,514.60 M310.80,510.20 L313.90,514.60 L317.00,510.20" fill="none" stroke="#1414ff" stroke-width="1.0" stroke-linejoin="miter"/>
<path d="M321.80,506.50 L321.80,514.60 M318.70,510.20 L321.80,514.60 L324.90,510.20" fill="none" stroke="#1414ff" stroke-width="1.0" stroke-linejoin="miter"/>
<path d="M336.00,506.50 L336.00,514.60 M332.90,510.20 L336.00,514.60 L339.10,510.20" fill="none" stroke="#1414ff" stroke-width="1.0" stroke-linejoin="miter"/>
<path d="M343.20,506.50 L343.20,514.60 M340.10,510.20 L343.20,514.60 L346.30,510.20" fill="none" stroke="#1414ff" stroke-width="1.0" stroke-linejoin="miter"/>
<path d="M350.40,506.50 L350.40,514.60 M347.30,510.20 L350.40,514.60 L353.50,510.20" fill="none" stroke="#1414ff" stroke-width="1.0" stroke-linejoin="miter"/>
<path d="M357.60,506.50 L357.60,514.60 M354.50,510.20 L357.60,514.60 L360.70,510.20" fill="none" stroke="#1414ff" stroke-width="1.0" stroke-linejoin="miter"/>
<path d="M364.80,506.50 L364.80,514.60 M361.70,510.20 L364.80,514.60 L367.90,510.20" fill="none" stroke="#1414ff" stroke-width="1.0" stroke-linejoin="miter"/>
<path d="M372.00,506.50 L372.00,514.60 M368.90,510.20 L372.00,514.60 L375.10,510.20" fill="none" stroke="#1414ff" stroke-width="1.0" stroke-linejoin="miter"/>
<path d="M386.80,506.50 L386.80,514.60 M383.70,510.20 L386.80,514.60 L389.90,510.20" fill="none" stroke="#1414ff" stroke-width="1.0" stroke-linejoin="miter"/>
<path d="M394.25,506.50 L394.25,514.60 M391.15,510.20 L394.25,514.60 L397.35,510.20" fill="none" stroke="#1414ff" stroke-width="1.0" stroke-linejoin="miter"/>
<path d="M401.70,506.50 L401.70,514.60 M398.60,510.20 L401.70,514.60 L404.80,510.20" fill="none" stroke="#1414ff" stroke-width="1.0" stroke-linejoin="miter"/>
<path d="M409.15,506.50 L409.15,514.60 M406.05,510.20 L409.15,514.60 L412.25,510.20" fill="none" stroke="#1414ff" stroke-width="1.0" stroke-linejoin="miter"/>
<path d="M416.60,506.50 L416.60,514.60 M413.50,510.20 L416.60,514.60 L419.70,510.20" fill="none" stroke="#1414ff" stroke-width="1.0" stroke-linejoin="miter"/>
<path d="M424.05,506.50 L424.05,514.60 M420.95,510.20 L424.05,514.60 L427.15,510.20" fill="none" stroke="#1414ff" stroke-width="1.0" stroke-linejoin="miter"/>
<path d="M282.30,528.20 L282.30,520.60 M279.20,525.00 L282.30,520.60 L285.40,525.00" fill="none" stroke="#1414ff" stroke-width="1.0" stroke-linejoin="miter"/>
<path d="M290.20,528.20 L290.20,520.60 M287.10,525.00 L290.20,520.60 L293.30,525.00" fill="none" stroke="#1414ff" stroke-width="1.0" stroke-linejoin="miter"/>
<path d="M298.10,528.20 L298.10,520.60 M295.00,525.00 L298.10,520.60 L301.20,525.00" fill="none" stroke="#1414ff" stroke-width="1.0" stroke-linejoin="miter"/>
<path d="M306.00,528.20 L306.00,520.60 M302.90,525.00 L306.00,520.60 L309.10,525.00" fill="none" stroke="#1414ff" stroke-width="1.0" stroke-linejoin="miter"/>
<path d="M313.90,528.20 L313.90,520.60 M310.80,525.00 L313.90,520.60 L317.00,525.00" fill="none" stroke="#1414ff" stroke-width="1.0" stroke-linejoin="miter"/>
<path d="M321.80,528.20 L321.80,520.60 M318.70,525.00 L321.80,520.60 L324.90,525.00" fill="none" stroke="#1414ff" stroke-width="1.0" stroke-linejoin="miter"/>
<path d="M336.00,528.20 L336.00,520.60 M332.90,525.00 L336.00,520.60 L339.10,525.00" fill="none" stroke="#1414ff" stroke-width="1.0" stroke-linejoin="miter"/>
<path d="M343.20,528.20 L343.20,520.60 M340.10,525.00 L343.20,520.60 L346.30,525.00" fill="none" stroke="#1414ff" stroke-width="1.0" stroke-linejoin="miter"/>
<path d="M350.40,528.20 L350.40,520.60 M347.30,525.00 L350.40,520.60 L353.50,525.00" fill="none" stroke="#1414ff" stroke-width="1.0" stroke-linejoin="miter"/>
<path d="M357.60,528.20 L357.60,520.60 M354.50,525.00 L357.60,520.60 L360.70,525.00" fill="none" stroke="#1414ff" stroke-width="1.0" stroke-linejoin="miter"/>
<path d="M364.80,528.20 L364.80,520.60 M361.70,525.00 L364.80,520.60 L367.90,525.00" fill="none" stroke="#1414ff" stroke-width="1.0" stroke-linejoin="miter"/>
<path d="M372.00,528.20 L372.00,520.60 M368.90,525.00 L372.00,520.60 L375.10,525.00" fill="none" stroke="#1414ff" stroke-width="1.0" stroke-linejoin="miter"/>
<path d="M386.80,528.20 L386.80,520.60 M383.70,525.00 L386.80,520.60 L389.90,525.00" fill="none" stroke="#1414ff" stroke-width="1.0" stroke-linejoin="miter"/>
<path d="M394.25,528.20 L394.25,520.60 M391.15,525.00 L394.25,520.60 L397.35,525.00" fill="none" stroke="#1414ff" stroke-width="1.0" stroke-linejoin="miter"/>
<path d="M401.70,528.20 L401.70,520.60 M398.60,525.00 L401.70,520.60 L404.80,525.00" fill="none" stroke="#1414ff" stroke-width="1.0" stroke-linejoin="miter"/>
<path d="M409.15,528.20 L409.15,520.60 M406.05,525.00 L409.15,520.60 L412.25,525.00" fill="none" stroke="#1414ff" stroke-width="1.0" stroke-linejoin="miter"/>
<path d="M416.60,528.20 L416.60,520.60 M413.50,525.00 L416.60,520.60 L419.70,525.00" fill="none" stroke="#1414ff" stroke-width="1.0" stroke-linejoin="miter"/>
<path d="M424.05,528.20 L424.05,520.60 M420.95,525.00 L424.05,520.60 L427.15,525.00" fill="none" stroke="#1414ff" stroke-width="1.0" stroke-linejoin="miter"/>
<path d="M282.30,531.80 L282.30,540.30 M279.20,535.90 L282.30,540.30 L285.40,535.90" fill="none" stroke="#a030c0" stroke-width="1.0" stroke-linejoin="miter"/>
<path d="M290.20,531.80 L290.20,540.30 M287.10,535.90 L290.20,540.30 L293.30,535.90" fill="none" stroke="#a030c0" stroke-width="1.0" stroke-linejoin="miter"/>
<path d="M298.10,531.80 L298.10,540.30 M295.00,535.90 L298.10,540.30 L301.20,535.90" fill="none" stroke="#a030c0" stroke-width="1.0" stroke-linejoin="miter"/>
<path d="M306.00,531.80 L306.00,540.30 M302.90,535.90 L306.00,540.30 L309.10,535.90" fill="none" stroke="#a030c0" stroke-width="1.0" stroke-linejoin="miter"/>
<path d="M313.90,531.80 L313.90,540.30 M310.80,535.90 L313.90,540.30 L317.00,535.90" fill="none" stroke="#a030c0" stroke-width="1.0" stroke-linejoin="miter"/>
<path d="M321.80,531.80 L321.80,540.30 M318.70,535.90 L321.80,540.30 L324.90,535.90" fill="none" stroke="#a030c0" stroke-width="1.0" stroke-linejoin="miter"/>
<path d="M336.00,531.80 L336.00,540.30 M332.90,535.90 L336.00,540.30 L339.10,535.90" fill="none" stroke="#a030c0" stroke-width="1.0" stroke-linejoin="miter"/>
<path d="M343.20,531.80 L343.20,540.30 M340.10,535.90 L343.20,540.30 L346.30,535.90" fill="none" stroke="#a030c0" stroke-width="1.0" stroke-linejoin="miter"/>
<path d="M350.40,531.80 L350.40,540.30 M347.30,535.90 L350.40,540.30 L353.50,535.90" fill="none" stroke="#a030c0" stroke-width="1.0" stroke-linejoin="miter"/>
<path d="M357.60,531.80 L357.60,540.30 M354.50,535.90 L357.60,540.30 L360.70,535.90" fill="none" stroke="#a030c0" stroke-width="1.0" stroke-linejoin="miter"/>
<path d="M364.80,531.80 L364.80,540.30 M361.70,535.90 L364.80,540.30 L367.90,535.90" fill="none" stroke="#a030c0" stroke-width="1.0" stroke-linejoin="miter"/>
<path d="M372.00,531.80 L372.00,540.30 M368.90,535.90 L372.00,540.30 L375.10,535.90" fill="none" stroke="#a030c0" stroke-width="1.0" stroke-linejoin="miter"/>
<path d="M386.80,531.80 L386.80,540.30 M383.70,535.90 L386.80,540.30 L389.90,535.90" fill="none" stroke="#a030c0" stroke-width="1.0" stroke-linejoin="miter"/>
<path d="M394.25,531.80 L394.25,540.30 M391.15,535.90 L394.25,540.30 L397.35,535.90" fill="none" stroke="#a030c0" stroke-width="1.0" stroke-linejoin="miter"/>
<path d="M401.70,531.80 L401.70,540.30 M398.60,535.90 L401.70,540.30 L404.80,535.90" fill="none" stroke="#a030c0" stroke-width="1.0" stroke-linejoin="miter"/>
<path d="M409.15,531.80 L409.15,540.30 M406.05,535.90 L409.15,540.30 L412.25,535.90" fill="none" stroke="#a030c0" stroke-width="1.0" stroke-linejoin="miter"/>
<path d="M416.60,531.80 L416.60,540.30 M413.50,535.90 L416.60,540.30 L419.70,535.90" fill="none" stroke="#a030c0" stroke-width="1.0" stroke-linejoin="miter"/>
<path d="M424.05,531.80 L424.05,540.30 M420.95,535.90 L424.05,540.30 L427.15,535.90" fill="none" stroke="#a030c0" stroke-width="1.0" stroke-linejoin="miter"/>
<path d="M281.60,552.20 L281.60,544.80 M278.50,549.20 L281.60,544.80 L284.70,549.20" fill="none" stroke="#a030c0" stroke-width="1.0" stroke-linejoin="miter"/>
<path d="M297.20,552.20 L297.20,544.80 M294.10,549.20 L297.20,544.80 L300.30,549.20" fill="none" stroke="#a030c0" stroke-width="1.0" stroke-linejoin="miter"/>
<path d="M313.30,552.20 L313.30,544.80 M310.20,549.20 L313.30,544.80 L316.40,549.20" fill="none" stroke="#a030c0" stroke-width="1.0" stroke-linejoin="miter"/>
<path d="M334.00,552.20 L334.00,544.80 M330.90,549.20 L334.00,544.80 L337.10,549.20" fill="none" stroke="#a030c0" stroke-width="1.0" stroke-linejoin="miter"/>
<path d="M348.90,552.20 L348.90,544.80 M345.80,549.20 L348.90,544.80 L352.00,549.20" fill="none" stroke="#a030c0" stroke-width="1.0" stroke-linejoin="miter"/>
<path d="M364.00,552.20 L364.00,544.80 M360.90,549.20 L364.00,544.80 L367.10,549.20" fill="none" stroke="#a030c0" stroke-width="1.0" stroke-linejoin="miter"/>
<path d="M386.40,552.20 L386.40,544.80 M383.30,549.20 L386.40,544.80 L389.50,549.20" fill="none" stroke="#a030c0" stroke-width="1.0" stroke-linejoin="miter"/>
<path d="M399.30,552.20 L399.30,544.80 M396.20,549.20 L399.30,544.80 L402.40,549.20" fill="none" stroke="#a030c0" stroke-width="1.0" stroke-linejoin="miter"/>
<path d="M414.10,552.20 L414.10,544.80 M411.00,549.20 L414.10,544.80 L417.20,549.20" fill="none" stroke="#a030c0" stroke-width="1.0" stroke-linejoin="miter"/>
<path d="M282.30,555.40 L282.30,563.60 M279.20,559.20 L282.30,563.60 L285.40,559.20" fill="none" stroke="#108a20" stroke-width="1.0" stroke-linejoin="miter"/>
<path d="M290.20,555.40 L290.20,563.60 M287.10,559.20 L290.20,563.60 L293.30,559.20" fill="none" stroke="#108a20" stroke-width="1.0" stroke-linejoin="miter"/>
<path d="M298.10,555.40 L298.10,563.60 M295.00,559.20 L298.10,563.60 L301.20,559.20" fill="none" stroke="#108a20" stroke-width="1.0" stroke-linejoin="miter"/>
<path d="M306.00,555.40 L306.00,563.60 M302.90,559.20 L306.00,563.60 L309.10,559.20" fill="none" stroke="#108a20" stroke-width="1.0" stroke-linejoin="miter"/>
<path d="M313.90,555.40 L313.90,563.60 M310.80,559.20 L313.90,563.60 L317.00,559.20" fill="none" stroke="#108a20" stroke-width="1.0" stroke-linejoin="miter"/>
<path d="M321.80,555.40 L321.80,563.60 M318.70,559.20 L321.80,563.60 L324.90,559.20" fill="none" stroke="#108a20" stroke-width="1.0" stroke-linejoin="miter"/>
<path d="M336.00,555.40 L336.00,563.60 M332.90,559.20 L336.00,563.60 L339.10,559.20" fill="none" stroke="#108a20" stroke-width="1.0" stroke-linejoin="miter"/>
<path d="M343.20,555.40 L343.20,563.60 M340.10,559.20 L343.20,563.60 L346.30,559.20" fill="none" stroke="#108a20" stroke-width="1.0" stroke-linejoin="miter"/>
<path d="M350.40,555.40 L350.40,563.60 M347.30,559.20 L350.40,563.60 L353.50,559.20" fill="none" stroke="#108a20" stroke-width="1.0" stroke-linejoin="miter"/>
<path d="M357.60,555.40 L357.60,563.60 M354.50,559.20 L357.60,563.60 L360.70,559.20" fill="none" stroke="#108a20" stroke-width="1.0" stroke-linejoin="miter"/>
<path d="M364.80,555.40 L364.80,563.60 M361.70,559.20 L364.80,563.60 L367.90,559.20" fill="none" stroke="#108a20" stroke-width="1.0" stroke-linejoin="miter"/>
<path d="M372.00,555.40 L372.00,563.60 M368.90,559.20 L372.00,563.60 L375.10,559.20" fill="none" stroke="#108a20" stroke-width="1.0" stroke-linejoin="miter"/>
<path d="M386.80,555.40 L386.80,563.60 M383.70,559.20 L386.80,563.60 L389.90,559.20" fill="none" stroke="#108a20" stroke-width="1.0" stroke-linejoin="miter"/>
<path d="M394.25,555.40 L394.25,563.60 M391.15,559.20 L394.25,563.60 L397.35,559.20" fill="none" stroke="#108a20" stroke-width="1.0" stroke-linejoin="miter"/>
<path d="M401.70,555.40 L401.70,563.60 M398.60,559.20 L401.70,563.60 L404.80,559.20" fill="none" stroke="#108a20" stroke-width="1.0" stroke-linejoin="miter"/>
<path d="M409.15,555.40 L409.15,563.60 M406.05,559.20 L409.15,563.60 L412.25,559.20" fill="none" stroke="#108a20" stroke-width="1.0" stroke-linejoin="miter"/>
<path d="M416.60,555.40 L416.60,563.60 M413.50,559.20 L416.60,563.60 L419.70,559.20" fill="none" stroke="#108a20" stroke-width="1.0" stroke-linejoin="miter"/>
<path d="M424.05,555.40 L424.05,563.60 M420.95,559.20 L424.05,563.60 L427.15,559.20" fill="none" stroke="#108a20" stroke-width="1.0" stroke-linejoin="miter"/>
<path d="M282.30,576.60 L282.30,569.00 M279.20,573.40 L282.30,569.00 L285.40,573.40" fill="none" stroke="#108a20" stroke-width="1.0" stroke-linejoin="miter"/>
<path d="M290.20,576.60 L290.20,569.00 M287.10,573.40 L290.20,569.00 L293.30,573.40" fill="none" stroke="#108a20" stroke-width="1.0" stroke-linejoin="miter"/>
<path d="M298.10,576.60 L298.10,569.00 M295.00,573.40 L298.10,569.00 L301.20,573.40" fill="none" stroke="#108a20" stroke-width="1.0" stroke-linejoin="miter"/>
<path d="M306.00,576.60 L306.00,569.00 M302.90,573.40 L306.00,569.00 L309.10,573.40" fill="none" stroke="#108a20" stroke-width="1.0" stroke-linejoin="miter"/>
<path d="M313.90,576.60 L313.90,569.00 M310.80,573.40 L313.90,569.00 L317.00,573.40" fill="none" stroke="#108a20" stroke-width="1.0" stroke-linejoin="miter"/>
<path d="M321.80,576.60 L321.80,569.00 M318.70,573.40 L321.80,569.00 L324.90,573.40" fill="none" stroke="#108a20" stroke-width="1.0" stroke-linejoin="miter"/>
<path d="M336.00,576.60 L336.00,569.00 M332.90,573.40 L336.00,569.00 L339.10,573.40" fill="none" stroke="#108a20" stroke-width="1.0" stroke-linejoin="miter"/>
<path d="M343.20,576.60 L343.20,569.00 M340.10,573.40 L343.20,569.00 L346.30,573.40" fill="none" stroke="#108a20" stroke-width="1.0" stroke-linejoin="miter"/>
<path d="M350.40,576.60 L350.40,569.00 M347.30,573.40 L350.40,569.00 L353.50,573.40" fill="none" stroke="#108a20" stroke-width="1.0" stroke-linejoin="miter"/>
<path d="M357.60,576.60 L357.60,569.00 M354.50,573.40 L357.60,569.00 L360.70,573.40" fill="none" stroke="#108a20" stroke-width="1.0" stroke-linejoin="miter"/>
<path d="M364.80,576.60 L364.80,569.00 M361.70,573.40 L364.80,569.00 L367.90,573.40" fill="none" stroke="#108a20" stroke-width="1.0" stroke-linejoin="miter"/>
<path d="M372.00,576.60 L372.00,569.00 M368.90,573.40 L372.00,569.00 L375.10,573.40" fill="none" stroke="#108a20" stroke-width="1.0" stroke-linejoin="miter"/>
<path d="M386.80,576.60 L386.80,569.00 M383.70,573.40 L386.80,569.00 L389.90,573.40" fill="none" stroke="#108a20" stroke-width="1.0" stroke-linejoin="miter"/>
<path d="M394.25,576.60 L394.25,569.00 M391.15,573.40 L394.25,569.00 L397.35,573.40" fill="none" stroke="#108a20" stroke-width="1.0" stroke-linejoin="miter"/>
<path d="M401.70,576.60 L401.70,569.00 M398.60,573.40 L401.70,569.00 L404.80,573.40" fill="none" stroke="#108a20" stroke-width="1.0" stroke-linejoin="miter"/>
<path d="M409.15,576.60 L409.15,569.00 M406.05,573.40 L409.15,569.00 L412.25,573.40" fill="none" stroke="#108a20" stroke-width="1.0" stroke-linejoin="miter"/>
<path d="M416.60,576.60 L416.60,569.00 M413.50,573.40 L416.60,569.00 L419.70,573.40" fill="none" stroke="#108a20" stroke-width="1.0" stroke-linejoin="miter"/>
<path d="M424.05,576.60 L424.05,569.00 M420.95,573.40 L424.05,569.00 L427.15,573.40" fill="none" stroke="#108a20" stroke-width="1.0" stroke-linejoin="miter"/>
<path d="M281.60,587.70 L281.60,579.80 M278.50,584.20 L281.60,579.80 L284.70,584.20" fill="none" stroke="#108a20" stroke-width="1.0" stroke-linejoin="miter"/>
<path d="M297.20,587.70 L297.20,579.80 M294.10,584.20 L297.20,579.80 L300.30,584.20" fill="none" stroke="#108a20" stroke-width="1.0" stroke-linejoin="miter"/>
<path d="M313.30,587.70 L313.30,579.80 M310.20,584.20 L313.30,579.80 L316.40,584.20" fill="none" stroke="#108a20" stroke-width="1.0" stroke-linejoin="miter"/>
<path d="M334.00,587.70 L334.00,579.80 M330.90,584.20 L334.00,579.80 L337.10,584.20" fill="none" stroke="#108a20" stroke-width="1.0" stroke-linejoin="miter"/>
<path d="M348.90,587.70 L348.90,579.80 M345.80,584.20 L348.90,579.80 L352.00,584.20" fill="none" stroke="#108a20" stroke-width="1.0" stroke-linejoin="miter"/>
<path d="M364.00,587.70 L364.00,579.80 M360.90,584.20 L364.00,579.80 L367.10,584.20" fill="none" stroke="#108a20" stroke-width="1.0" stroke-linejoin="miter"/>
<path d="M386.40,587.70 L386.40,579.80 M383.30,584.20 L386.40,579.80 L389.50,584.20" fill="none" stroke="#108a20" stroke-width="1.0" stroke-linejoin="miter"/>
<path d="M399.30,587.70 L399.30,579.80 M396.20,584.20 L399.30,579.80 L402.40,584.20" fill="none" stroke="#108a20" stroke-width="1.0" stroke-linejoin="miter"/>
<path d="M414.10,587.70 L414.10,579.80 M411.00,584.20 L414.10,579.80 L417.20,584.20" fill="none" stroke="#108a20" stroke-width="1.0" stroke-linejoin="miter"/>
<path d="M274.60,469.80 L274.60,477.80 M271.60,473.40 L274.60,477.80 L277.60,473.40" fill="none" stroke="#ff00ff" stroke-width="2.2" stroke-linejoin="miter"/>
<path d="M274.60,488.40 L274.60,496.40 M271.60,492.00 L274.60,496.40 L277.60,492.00" fill="none" stroke="#ff00ff" stroke-width="2.2" stroke-linejoin="miter"/>
<path d="M274.60,506.50 L274.60,514.60 M271.60,510.20 L274.60,514.60 L277.60,510.20" fill="none" stroke="#ff00ff" stroke-width="2.2" stroke-linejoin="miter"/>
<path d="M274.60,531.80 L274.60,540.30 M271.60,535.90 L274.60,540.30 L277.60,535.90" fill="none" stroke="#ff00ff" stroke-width="2.2" stroke-linejoin="miter"/>
<path d="M274.60,555.40 L274.60,563.60 M271.60,559.20 L274.60,563.60 L277.60,559.20" fill="none" stroke="#ff00ff" stroke-width="2.2" stroke-linejoin="miter"/>
<rect x="442.50" y="474.50" width="97.50" height="95.90" fill="none" stroke="#000" stroke-width="1.5"/>
<text x="449.00" y="496.10" font-size="9.4" fill="#111">Leukemia</text>
<text x="449.00" y="507.75" font-size="9.4" fill="#111">engraftment</text>
<text x="449.00" y="519.40" font-size="9.4" fill="#111">Human  T</text>
<text x="449.00" y="531.05" font-size="9.4" fill="#111">Survival</text>
<text x="449.00" y="542.70" font-size="9.4" fill="#111">2<tspan font-size="6" dy="-3.4">nd</tspan><tspan dy="3.4"> transplant  of BM</tspan></text>
<text x="449.00" y="554.35" font-size="9.4" fill="#111">(after T depletion)</text>
<text x="6.30" y="587.20" font-size="18.5" fill="#000">h</text>
<text x="110.90" y="615.60" font-size="12.9" fill="#ff1010" font-weight="bold" text-anchor="middle">Vehicle</text>
<text x="227.00" y="615.60" font-size="12.9" fill="#111" font-weight="bold" text-anchor="middle">TKI</text>
<text x="335.20" y="615.60" font-size="12.9" fill="#e020e0" font-weight="bold" text-anchor="middle">TKI+PD-1 Ab</text>
<text x="455.00" y="615.60" font-size="12.9" fill="#1414ff" font-weight="bold" text-anchor="middle">TKI+M-miR-142</text>
<text x="577.00" y="615.60" font-size="12.9" fill="#1a7a1a" font-weight="bold" text-anchor="middle">Combination</text>
<text x="10.20" y="739.80" font-size="18.5" fill="#000">i</text>
<text x="92.50" y="757.60" font-size="11" fill="#111" font-weight="bold" text-anchor="middle" textLength="111.00" lengthAdjust="spacingAndGlyphs">Leukemic cells in PB</text>
<rect x="52.70" y="800.12" width="11.20" height="36.48" fill="none" stroke="#ff9090" stroke-width="1"/>
<line x1="58.30" y1="799.35" x2="58.30" y2="800.12" stroke="#ff9090" stroke-width="1" stroke-linecap="butt"/>
<line x1="55.80" y1="799.35" x2="60.80" y2="799.35" stroke="#ff9090" stroke-width="1" stroke-linecap="butt"/>
<circle cx="53.30" cy="798.20" r="2.30" fill="none" stroke="#ff1010" stroke-width="1.0"/>
<circle cx="59.48" cy="798.97" r="2.30" fill="none" stroke="#ff1010" stroke-width="1.0"/>
<circle cx="55.66" cy="799.35" r="2.30" fill="none" stroke="#ff1010" stroke-width="1.0"/>
<circle cx="61.84" cy="799.74" r="2.30" fill="none" stroke="#ff1010" stroke-width="1.0"/>
<circle cx="58.02" cy="800.12" r="2.30" fill="none" stroke="#ff1010" stroke-width="1.0"/>
<circle cx="54.20" cy="800.50" r="2.30" fill="none" stroke="#ff1010" stroke-width="1.0"/>
<circle cx="60.38" cy="800.89" r="2.30" fill="none" stroke="#ff1010" stroke-width="1.0"/>
<circle cx="56.56" cy="801.27" r="2.30" fill="none" stroke="#ff1010" stroke-width="1.0"/>
<circle cx="62.74" cy="801.66" r="2.30" fill="none" stroke="#ff1010" stroke-width="1.0"/>
<circle cx="58.92" cy="802.04" r="2.30" fill="none" stroke="#ff1010" stroke-width="1.0"/>
<rect x="70.10" y="814.71" width="11.20" height="21.89" fill="none" stroke="#777777" stroke-width="1"/>
<line x1="75.70" y1="813.18" x2="75.70" y2="814.71" stroke="#777777" stroke-width="1" stroke-linecap="butt"/>
<line x1="73.20" y1="813.18" x2="78.20" y2="813.18" stroke="#777777" stroke-width="1" stroke-linecap="butt"/>
<circle cx="70.70" cy="805.88" r="2.30" fill="none" stroke="#111" stroke-width="1.0"/>
<circle cx="76.88" cy="810.49" r="2.30" fill="none" stroke="#111" stroke-width="1.0"/>
<circle cx="73.06" cy="812.79" r="2.30" fill="none" stroke="#111" stroke-width="1.0"/>
<circle cx="79.24" cy="814.33" r="2.30" fill="none" stroke="#111" stroke-width="1.0"/>
<circle cx="75.42" cy="815.10" r="2.30" fill="none" stroke="#111" stroke-width="1.0"/>
<circle cx="71.60" cy="815.86" r="2.30" fill="none" stroke="#111" stroke-width="1.0"/>
<circle cx="77.78" cy="816.25" r="2.30" fill="none" stroke="#111" stroke-width="1.0"/>
<circle cx="73.96" cy="816.63" r="2.30" fill="none" stroke="#111" stroke-width="1.0"/>
<circle cx="80.14" cy="817.40" r="2.30" fill="none" stroke="#111" stroke-width="1.0"/>
<circle cx="76.32" cy="818.17" r="2.30" fill="none" stroke="#111" stroke-width="1.0"/>
<circle cx="72.50" cy="818.55" r="2.30" fill="none" stroke="#111" stroke-width="1.0"/>
<rect x="86.70" y="821.24" width="11.20" height="15.36" fill="none" stroke="#d890f0" stroke-width="1"/>
<line x1="92.30" y1="820.09" x2="92.30" y2="821.24" stroke="#d890f0" stroke-width="1" stroke-linecap="butt"/>
<line x1="89.80" y1="820.09" x2="94.80" y2="820.09" stroke="#d890f0" stroke-width="1" stroke-linecap="butt"/>
<circle cx="87.30" cy="815.48" r="2.30" fill="none" stroke="#a020e0" stroke-width="1.0"/>
<circle cx="93.48" cy="817.40" r="2.30" fill="none" stroke="#a020e0" stroke-width="1.0"/>
<circle cx="89.66" cy="818.94" r="2.30" fill="none" stroke="#a020e0" stroke-width="1.0"/>
<circle cx="95.84" cy="819.70" r="2.30" fill="none" stroke="#a020e0" stroke-width="1.0"/>
<circle cx="92.02" cy="820.47" r="2.30" fill="none" stroke="#a020e0" stroke-width="1.0"/>
<circle cx="88.20" cy="821.24" r="2.30" fill="none" stroke="#a020e0" stroke-width="1.0"/>
<circle cx="94.38" cy="822.01" r="2.30" fill="none" stroke="#a020e0" stroke-width="1.0"/>
<circle cx="90.56" cy="822.78" r="2.30" fill="none" stroke="#a020e0" stroke-width="1.0"/>
<circle cx="96.74" cy="823.54" r="2.30" fill="none" stroke="#a020e0" stroke-width="1.0"/>
<circle cx="92.92" cy="824.31" r="2.30" fill="none" stroke="#a020e0" stroke-width="1.0"/>
<circle cx="89.10" cy="825.08" r="2.30" fill="none" stroke="#a020e0" stroke-width="1.0"/>
<rect x="103.60" y="827.00" width="11.20" height="9.60" fill="none" stroke="#4848ff" stroke-width="1"/>
<line x1="109.20" y1="825.85" x2="109.20" y2="827.00" stroke="#4848ff" stroke-width="1" stroke-linecap="butt"/>
<line x1="106.70" y1="825.85" x2="111.70" y2="825.85" stroke="#4848ff" stroke-width="1" stroke-linecap="butt"/>
<circle cx="104.20" cy="820.47" r="2.30" fill="none" stroke="#1414ff" stroke-width="1.0"/>
<circle cx="110.38" cy="822.01" r="2.30" fill="none" stroke="#1414ff" stroke-width="1.0"/>
<circle cx="106.56" cy="823.93" r="2.30" fill="none" stroke="#1414ff" stroke-width="1.0"/>
<circle cx="112.74" cy="825.08" r="2.30" fill="none" stroke="#1414ff" stroke-width="1.0"/>
<circle cx="108.92" cy="826.23" r="2.30" fill="none" stroke="#1414ff" stroke-width="1.0"/>
<circle cx="105.10" cy="827.00" r="2.30" fill="none" stroke="#1414ff" stroke-width="1.0"/>
<circle cx="111.28" cy="828.15" r="2.30" fill="none" stroke="#1414ff" stroke-width="1.0"/>
<circle cx="107.46" cy="828.92" r="2.30" fill="none" stroke="#1414ff" stroke-width="1.0"/>
<circle cx="113.64" cy="829.69" r="2.30" fill="none" stroke="#1414ff" stroke-width="1.0"/>
<circle cx="109.82" cy="830.84" r="2.30" fill="none" stroke="#1414ff" stroke-width="1.0"/>
<circle cx="106.00" cy="832.76" r="2.30" fill="none" stroke="#1414ff" stroke-width="1.0"/>
<rect x="121.00" y="831.99" width="11.20" height="4.61" fill="none" stroke="#40a040" stroke-width="1"/>
<line x1="126.60" y1="830.84" x2="126.60" y2="831.99" stroke="#40a040" stroke-width="1" stroke-linecap="butt"/>
<line x1="124.10" y1="830.84" x2="129.10" y2="830.84" stroke="#40a040" stroke-width="1" stroke-linecap="butt"/>
<circle cx="121.60" cy="823.16" r="2.30" fill="none" stroke="#108a20" stroke-width="1.0"/>
<circle cx="127.78" cy="825.85" r="2.30" fill="none" stroke="#108a20" stroke-width="1.0"/>
<circle cx="123.96" cy="828.15" r="2.30" fill="none" stroke="#108a20" stroke-width="1.0"/>
<circle cx="130.14" cy="829.69" r="2.30" fill="none" stroke="#108a20" stroke-width="1.0"/>
<circle cx="126.32" cy="831.22" r="2.30" fill="none" stroke="#108a20" stroke-width="1.0"/>
<circle cx="122.50" cy="832.76" r="2.30" fill="none" stroke="#108a20" stroke-width="1.0"/>
<circle cx="128.68" cy="833.53" r="2.30" fill="none" stroke="#108a20" stroke-width="1.0"/>
<circle cx="124.86" cy="834.30" r="2.30" fill="none" stroke="#108a20" stroke-width="1.0"/>
<circle cx="131.04" cy="835.06" r="2.30" fill="none" stroke="#108a20" stroke-width="1.0"/>
<circle cx="127.22" cy="835.45" r="2.30" fill="none" stroke="#108a20" stroke-width="1.0"/>
<circle cx="123.40" cy="835.83" r="2.30" fill="none" stroke="#108a20" stroke-width="1.0"/>
<line x1="44.20" y1="778.50" x2="44.20" y2="837.20" stroke="#111" stroke-width="1.3" stroke-linecap="butt"/>
<line x1="41.20" y1="836.60" x2="44.20" y2="836.60" stroke="#111" stroke-width="1.3" stroke-linecap="butt"/>
<text x="40.40" y="839.60" font-size="8.4" fill="#111" font-weight="bold" text-anchor="end">0</text>
<line x1="41.20" y1="817.40" x2="44.20" y2="817.40" stroke="#111" stroke-width="1.3" stroke-linecap="butt"/>
<text x="40.40" y="820.40" font-size="8.4" fill="#111" font-weight="bold" text-anchor="end">50</text>
<line x1="41.20" y1="798.20" x2="44.20" y2="798.20" stroke="#111" stroke-width="1.3" stroke-linecap="butt"/>
<text x="40.40" y="801.20" font-size="8.4" fill="#111" font-weight="bold" text-anchor="end">100</text>
<line x1="41.20" y1="779.00" x2="44.20" y2="779.00" stroke="#111" stroke-width="1.3" stroke-linecap="butt"/>
<text x="40.40" y="782.00" font-size="8.4" fill="#111" font-weight="bold" text-anchor="end">150</text>
<line x1="43.60" y1="836.60" x2="136.50" y2="836.60" stroke="#111" stroke-width="1.3" stroke-linecap="butt"/>
<line x1="58.30" y1="836.60" x2="58.30" y2="839.60" stroke="#111" stroke-width="1.3" stroke-linecap="butt"/>
<line x1="75.70" y1="836.60" x2="75.70" y2="839.60" stroke="#111" stroke-width="1.3" stroke-linecap="butt"/>
<line x1="92.30" y1="836.60" x2="92.30" y2="839.60" stroke="#111" stroke-width="1.3" stroke-linecap="butt"/>
<line x1="109.20" y1="836.60" x2="109.20" y2="839.60" stroke="#111" stroke-width="1.3" stroke-linecap="butt"/>
<line x1="126.60" y1="836.60" x2="126.60" y2="839.60" stroke="#111" stroke-width="1.3" stroke-linecap="butt"/>
<text x="25.40" y="807.00" font-size="8.4" fill="#111" font-weight="bold" text-anchor="middle" transform="rotate(-90 25.40 807.00)">hCD45+CD3- in PB (%)</text>
<text x="60.80" y="847.60" font-size="8.4" fill="#111" font-weight="bold" text-anchor="end" transform="rotate(-45 60.80 847.60)">Vehicle</text>
<text x="78.20" y="847.60" font-size="8.4" fill="#111" font-weight="bold" text-anchor="end" transform="rotate(-45 78.20 847.60)">TKI</text>
<text x="94.80" y="847.60" font-size="8.4" fill="#111" font-weight="bold" text-anchor="end" transform="rotate(-45 94.80 847.60)">TKI+PD-1 Ab</text>
<text x="111.70" y="847.60" font-size="8.4" fill="#111" font-weight="bold" text-anchor="end" transform="rotate(-45 111.70 847.60)">TKI+M-miR-142</text>
<text x="129.10" y="847.60" font-size="8.4" fill="#111" font-weight="bold" text-anchor="end" transform="rotate(-45 129.10 847.60)">Combination</text>
<text x="86.40" y="767.80" font-size="7.6" fill="#111">P&lt;0.0001</text>
<line x1="75.70" y1="771.40" x2="129.00" y2="771.40" stroke="#111" stroke-width="1.6" stroke-linecap="butt"/>
<text x="50.90" y="780.20" font-size="7.6" fill="#111">P&lt;0.0001</text>
<line x1="58.30" y1="783.30" x2="75.70" y2="783.30" stroke="#111" stroke-width="1.6" stroke-linecap="butt"/>
<text x="79.00" y="786.00" font-size="7.6" fill="#111">P&lt;0.0001</text>
<line x1="80.00" y1="789.50" x2="109.20" y2="789.50" stroke="#111" stroke-width="1.6" stroke-linecap="butt"/>
<text x="72.00" y="798.80" font-size="7.6" fill="#111">P=0.001</text>
<line x1="75.70" y1="801.90" x2="95.50" y2="801.90" stroke="#111" stroke-width="1.6" stroke-linecap="butt"/>
<text x="100.50" y="798.80" font-size="7.6" fill="#111">P&lt;0.0001</text>
<line x1="100.50" y1="802.60" x2="133.50" y2="802.60" stroke="#111" stroke-width="1.6" stroke-linecap="butt"/>
<text x="106.70" y="813.20" font-size="7.6" fill="#111">P=0.01</text>
<line x1="109.20" y1="816.80" x2="127.80" y2="816.80" stroke="#111" stroke-width="1.6" stroke-linecap="butt"/>
<text x="245.00" y="748.40" font-size="12" fill="#111" font-weight="bold" text-anchor="middle">Survival</text>
<line x1="162.90" y1="756.30" x2="172.40" y2="756.30" stroke="#ff1010" stroke-width="1.7" stroke-linecap="butt"/>
<line x1="167.70" y1="754.90" x2="167.70" y2="756.30" stroke="#ff1010" stroke-width="1.0" stroke-linecap="butt"/>
<text x="178.50" y="759.10" font-size="8.7" fill="#ff1010" font-weight="bold">Vehicle</text>
<line x1="162.90" y1="767.50" x2="172.40" y2="767.50" stroke="#111" stroke-width="1.7" stroke-linecap="butt"/>
<line x1="167.70" y1="766.10" x2="167.70" y2="767.50" stroke="#111" stroke-width="1.0" stroke-linecap="butt"/>
<text x="178.50" y="770.30" font-size="8.7" fill="#111" font-weight="bold">TKI</text>
<line x1="162.90" y1="778.70" x2="172.40" y2="778.70" stroke="#a020e0" stroke-width="1.7" stroke-linecap="butt"/>
<line x1="167.70" y1="777.30" x2="167.70" y2="778.70" stroke="#a020e0" stroke-width="1.0" stroke-linecap="butt"/>
<text x="178.50" y="781.50" font-size="8.7" fill="#a020e0" font-weight="bold">TKI+PD-1 Ab</text>
<line x1="162.90" y1="789.90" x2="172.40" y2="789.90" stroke="#1414ff" stroke-width="1.7" stroke-linecap="butt"/>
<line x1="167.70" y1="788.50" x2="167.70" y2="789.90" stroke="#1414ff" stroke-width="1.0" stroke-linecap="butt"/>
<text x="178.50" y="792.70" font-size="8.7" fill="#1414ff" font-weight="bold">TKI+M-miR-142</text>
<line x1="162.90" y1="801.10" x2="172.40" y2="801.10" stroke="#108a20" stroke-width="1.7" stroke-linecap="butt"/>
<line x1="167.70" y1="799.70" x2="167.70" y2="801.10" stroke="#108a20" stroke-width="1.0" stroke-linecap="butt"/>
<text x="178.50" y="803.90" font-size="8.7" fill="#108a20" font-weight="bold">Combination</text>
<line x1="212.40" y1="754.80" x2="212.40" y2="768.00" stroke="#111" stroke-width="1.5" stroke-linecap="butt"/>
<text x="215.30" y="764.60" font-size="7.6" fill="#333">0.01</text>
<line x1="232.00" y1="767.40" x2="232.00" y2="781.00" stroke="#111" stroke-width="1.5" stroke-linecap="butt"/>
<text x="234.30" y="777.60" font-size="7.6" fill="#333">0.125</text>
<line x1="254.50" y1="766.50" x2="254.50" y2="791.30" stroke="#111" stroke-width="1.5" stroke-linecap="butt"/>
<text x="256.80" y="783.40" font-size="7.6" fill="#333">0.041</text>
<line x1="244.20" y1="791.30" x2="244.20" y2="803.00" stroke="#111" stroke-width="1.5" stroke-linecap="butt"/>
<text x="246.60" y="801.00" font-size="7.6" fill="#333">0.041</text>
<line x1="276.30" y1="778.00" x2="276.30" y2="805.30" stroke="#111" stroke-width="1.5" stroke-linecap="butt"/>
<text x="278.70" y="795.20" font-size="7.6" fill="#333">0.003</text>
<line x1="300.00" y1="768.00" x2="300.00" y2="806.00" stroke="#111" stroke-width="1.5" stroke-linecap="butt"/>
<text x="302.00" y="790.80" font-size="7.6" fill="#333">&lt;0.001</text>
<line x1="177.10" y1="814.20" x2="190.90" y2="814.20" stroke="#ff1010" stroke-width="1.6" stroke-linecap="butt"/>
<path d="M197.00,814.20 L245.79,814.20 L245.79,818.94 L252.27,818.94 L252.27,823.69 L256.43,823.69 L256.43,830.21 L289.27,830.21 L289.27,834.36 L293.43,834.36 L293.43,838.51 L295.74,838.51 L295.74,841.72 L298.75,841.72 L298.75,845.98 L312.62,845.98" fill="none" stroke="#108a20" stroke-width="1.6" stroke-linejoin="miter"/>
<path d="M197.00,814.20 L233.31,814.20 L233.31,818.94 L236.31,818.94 L236.31,825.23 L238.39,825.23 L238.39,831.16 L244.87,831.16 L244.87,836.44 L261.75,836.44 L261.75,841.72 L269.15,841.72 L269.15,847.05 L273.31,847.05 L273.31,852.33 L278.17,852.33 L278.17,856.54 L287.19,856.54 L287.19,861.88 L290.43,861.88 L290.43,867.15 L295.98,867.15 L295.98,873.50" fill="none" stroke="#a020e0" stroke-width="1.6" stroke-linejoin="miter"/>
<path d="M197.00,814.20 L238.16,814.20 L238.16,818.94 L240.71,818.94 L240.71,823.69 L243.25,823.69 L243.25,830.21 L245.33,830.21 L245.33,835.79 L273.31,835.79 L273.31,840.65 L276.09,840.65 L276.09,844.27 L285.11,844.27 L285.11,849.19 L290.43,849.19 L290.43,853.34 L294.59,853.34 L294.59,857.61 L298.75,857.61 L298.75,861.88 L303.14,861.88 L303.14,866.09 L308.00,866.09 L308.00,870.30 L312.62,870.30" fill="none" stroke="#1414ff" stroke-width="1.6" stroke-linejoin="miter"/>
<path d="M197.00,814.20 L221.97,814.20 L221.97,818.94 L228.22,818.94 L228.22,823.69 L233.31,823.69 L233.31,830.80 L236.31,830.80 L236.31,837.09 L252.27,837.09 L252.27,841.72 L256.43,841.72 L256.43,845.04 L261.75,845.04 L261.75,850.37 L265.91,850.37 L265.91,855.71 L275.62,855.71 L275.62,860.81 L281.87,860.81 L281.87,866.09 L285.11,866.09 L285.11,870.30 L286.73,870.30 L286.73,873.50" fill="none" stroke="#111" stroke-width="1.6" stroke-linejoin="miter"/>
<path d="M197.00,814.20 L198.62,814.20 L198.62,819.54 L206.25,819.54 L206.25,825.23 L208.79,825.23 L208.79,830.80 L210.64,830.80 L210.64,835.79 L213.19,835.79 L213.19,841.72 L217.35,841.72 L217.35,847.23 L228.91,847.23 L228.91,852.33 L236.31,852.33 L236.31,858.26 L250.19,858.26 L250.19,864.01 L255.51,864.01 L255.51,868.76 L259.21,868.76 L259.21,873.50" fill="none" stroke="#ff1010" stroke-width="1.6" stroke-linejoin="miter"/>
<line x1="177.10" y1="813.70" x2="177.10" y2="874.10" stroke="#7a7a7a" stroke-width="1.7" stroke-linecap="butt"/>
<line x1="174.10" y1="873.50" x2="177.10" y2="873.50" stroke="#7a7a7a" stroke-width="1.7" stroke-linecap="butt"/>
<text x="173.30" y="876.50" font-size="8.4" fill="#111" font-weight="bold" text-anchor="end">0</text>
<line x1="174.10" y1="861.64" x2="177.10" y2="861.64" stroke="#7a7a7a" stroke-width="1.7" stroke-linecap="butt"/>
<text x="173.30" y="864.64" font-size="8.4" fill="#111" font-weight="bold" text-anchor="end">20</text>
<line x1="174.10" y1="849.78" x2="177.10" y2="849.78" stroke="#7a7a7a" stroke-width="1.7" stroke-linecap="butt"/>
<text x="173.30" y="852.78" font-size="8.4" fill="#111" font-weight="bold" text-anchor="end">40</text>
<line x1="174.10" y1="837.92" x2="177.10" y2="837.92" stroke="#7a7a7a" stroke-width="1.7" stroke-linecap="butt"/>
<text x="173.30" y="840.92" font-size="8.4" fill="#111" font-weight="bold" text-anchor="end">60</text>
<line x1="174.10" y1="826.06" x2="177.10" y2="826.06" stroke="#7a7a7a" stroke-width="1.7" stroke-linecap="butt"/>
<text x="173.30" y="829.06" font-size="8.4" fill="#111" font-weight="bold" text-anchor="end">80</text>
<line x1="174.10" y1="814.20" x2="177.10" y2="814.20" stroke="#7a7a7a" stroke-width="1.7" stroke-linecap="butt"/>
<text x="173.30" y="817.20" font-size="8.4" fill="#111" font-weight="bold" text-anchor="end">100</text>
<line x1="176.50" y1="873.50" x2="190.90" y2="873.50" stroke="#111" stroke-width="1.3" stroke-linecap="butt"/>
<line x1="197.00" y1="873.50" x2="312.80" y2="873.50" stroke="#111" stroke-width="1.3" stroke-linecap="butt"/>
<line x1="190.90" y1="871.00" x2="190.90" y2="875.00" stroke="#111" stroke-width="1.2" stroke-linecap="butt"/>
<line x1="197.00" y1="871.00" x2="197.00" y2="876.50" stroke="#111" stroke-width="1.2" stroke-linecap="butt"/>
<line x1="177.10" y1="873.50" x2="177.10" y2="876.50" stroke="#111" stroke-width="1.2" stroke-linecap="butt"/>
<line x1="197.00" y1="873.50" x2="197.00" y2="876.50" stroke="#111" stroke-width="1.2" stroke-linecap="butt"/>
<line x1="201.62" y1="873.50" x2="201.62" y2="875.30" stroke="#111" stroke-width="1.0" stroke-linecap="butt"/>
<line x1="206.25" y1="873.50" x2="206.25" y2="875.30" stroke="#111" stroke-width="1.0" stroke-linecap="butt"/>
<line x1="210.88" y1="873.50" x2="210.88" y2="875.30" stroke="#111" stroke-width="1.0" stroke-linecap="butt"/>
<line x1="215.50" y1="873.50" x2="215.50" y2="875.30" stroke="#111" stroke-width="1.0" stroke-linecap="butt"/>
<line x1="220.12" y1="873.50" x2="220.12" y2="876.50" stroke="#111" stroke-width="1.0" stroke-linecap="butt"/>
<line x1="224.75" y1="873.50" x2="224.75" y2="875.30" stroke="#111" stroke-width="1.0" stroke-linecap="butt"/>
<line x1="229.38" y1="873.50" x2="229.38" y2="875.30" stroke="#111" stroke-width="1.0" stroke-linecap="butt"/>
<line x1="234.00" y1="873.50" x2="234.00" y2="875.30" stroke="#111" stroke-width="1.0" stroke-linecap="butt"/>
<line x1="238.62" y1="873.50" x2="238.62" y2="875.30" stroke="#111" stroke-width="1.0" stroke-linecap="butt"/>
<line x1="243.25" y1="873.50" x2="243.25" y2="875.30" stroke="#111" stroke-width="1.0" stroke-linecap="butt"/>
<line x1="247.88" y1="873.50" x2="247.88" y2="875.30" stroke="#111" stroke-width="1.0" stroke-linecap="butt"/>
<line x1="252.50" y1="873.50" x2="252.50" y2="875.30" stroke="#111" stroke-width="1.0" stroke-linecap="butt"/>
<line x1="257.12" y1="873.50" x2="257.12" y2="875.30" stroke="#111" stroke-width="1.0" stroke-linecap="butt"/>
<line x1="261.75" y1="873.50" x2="261.75" y2="875.30" stroke="#111" stroke-width="1.0" stroke-linecap="butt"/>
<line x1="266.38" y1="873.50" x2="266.38" y2="876.50" stroke="#111" stroke-width="1.0" stroke-linecap="butt"/>
<line x1="271.00" y1="873.50" x2="271.00" y2="875.30" stroke="#111" stroke-width="1.0" stroke-linecap="butt"/>
<line x1="275.62" y1="873.50" x2="275.62" y2="875.30" stroke="#111" stroke-width="1.0" stroke-linecap="butt"/>
<line x1="280.25" y1="873.50" x2="280.25" y2="875.30" stroke="#111" stroke-width="1.0" stroke-linecap="butt"/>
<line x1="284.88" y1="873.50" x2="284.88" y2="875.30" stroke="#111" stroke-width="1.0" stroke-linecap="butt"/>
<line x1="289.50" y1="873.50" x2="289.50" y2="875.30" stroke="#111" stroke-width="1.0" stroke-linecap="butt"/>
<line x1="294.12" y1="873.50" x2="294.12" y2="875.30" stroke="#111" stroke-width="1.0" stroke-linecap="butt"/>
<line x1="298.75" y1="873.50" x2="298.75" y2="875.30" stroke="#111" stroke-width="1.0" stroke-linecap="butt"/>
<line x1="303.38" y1="873.50" x2="303.38" y2="875.30" stroke="#111" stroke-width="1.0" stroke-linecap="butt"/>
<line x1="308.00" y1="873.50" x2="308.00" y2="875.30" stroke="#111" stroke-width="1.0" stroke-linecap="butt"/>
<line x1="312.62" y1="873.50" x2="312.62" y2="876.50" stroke="#111" stroke-width="1.0" stroke-linecap="butt"/>
<text x="177.10" y="888.00" font-size="8.4" fill="#111" font-weight="bold" text-anchor="middle">0</text>
<text x="189.60" y="888.00" font-size="8.4" fill="#111" font-weight="bold" text-anchor="middle">30</text>
<text x="220.10" y="888.00" font-size="8.4" fill="#111" font-weight="bold" text-anchor="middle">40</text>
<text x="266.40" y="888.00" font-size="8.4" fill="#111" font-weight="bold" text-anchor="middle">60</text>
<text x="312.60" y="888.00" font-size="8.4" fill="#111" font-weight="bold" text-anchor="middle">80</text>
<text x="245.50" y="900.60" font-size="8.4" fill="#111" font-weight="bold" text-anchor="middle" textLength="106.00" lengthAdjust="spacingAndGlyphs">Days after transplantation</text>
<text x="153.60" y="843.20" font-size="8.4" fill="#111" font-weight="bold" text-anchor="middle" transform="rotate(-90 153.60 843.20)">Percent survival</text>
<text x="333.80" y="745.20" font-size="18.5" fill="#000">j</text>
<text x="446.50" y="742.60" font-size="15.5" fill="#111" font-weight="bold">2<tspan font-size="9.5" dy="-6">nd</tspan><tspan dy="6"> transplantation</tspan></text>
<line x1="381.30" y1="746.40" x2="649.00" y2="746.40" stroke="#ff0000" stroke-width="2.2" stroke-linecap="butt"/>
<text x="426.10" y="763.60" font-size="10.5" fill="#111" font-weight="bold" text-anchor="middle" textLength="104.00" lengthAdjust="spacingAndGlyphs">Leukemic cells in PB</text>
<rect x="384.95" y="824.50" width="10.50" height="25.30" fill="none" stroke="#ff1010" stroke-width="1"/>
<line x1="390.20" y1="821.20" x2="390.20" y2="824.50" stroke="#ff1010" stroke-width="1" stroke-linecap="butt"/>
<line x1="387.70" y1="821.20" x2="392.70" y2="821.20" stroke="#ff1010" stroke-width="1" stroke-linecap="butt"/>
<circle cx="385.20" cy="800.30" r="2.20" fill="none" stroke="#ff1010" stroke-width="1.0"/>
<circle cx="391.38" cy="813.50" r="2.20" fill="none" stroke="#ff1010" stroke-width="1.0"/>
<circle cx="387.56" cy="815.70" r="2.20" fill="none" stroke="#ff1010" stroke-width="1.0"/>
<circle cx="393.74" cy="819.00" r="2.20" fill="none" stroke="#ff1010" stroke-width="1.0"/>
<circle cx="389.92" cy="822.30" r="2.20" fill="none" stroke="#ff1010" stroke-width="1.0"/>
<circle cx="386.10" cy="825.60" r="2.20" fill="none" stroke="#ff1010" stroke-width="1.0"/>
<circle cx="392.28" cy="828.90" r="2.20" fill="none" stroke="#ff1010" stroke-width="1.0"/>
<circle cx="388.46" cy="832.20" r="2.20" fill="none" stroke="#ff1010" stroke-width="1.0"/>
<circle cx="394.64" cy="836.60" r="2.20" fill="none" stroke="#ff1010" stroke-width="1.0"/>
<circle cx="390.82" cy="838.80" r="2.20" fill="none" stroke="#ff1010" stroke-width="1.0"/>
<circle cx="387.00" cy="843.20" r="2.20" fill="none" stroke="#ff1010" stroke-width="1.0"/>
<rect x="402.95" y="832.20" width="10.50" height="17.60" fill="none" stroke="#111" stroke-width="1"/>
<line x1="408.20" y1="828.90" x2="408.20" y2="832.20" stroke="#111" stroke-width="1" stroke-linecap="butt"/>
<line x1="405.70" y1="828.90" x2="410.70" y2="828.90" stroke="#111" stroke-width="1" stroke-linecap="butt"/>
<circle cx="403.20" cy="817.90" r="2.20" fill="none" stroke="#111" stroke-width="1.0"/>
<circle cx="409.38" cy="818.45" r="2.20" fill="none" stroke="#111" stroke-width="1.0"/>
<circle cx="405.56" cy="819.00" r="2.20" fill="none" stroke="#111" stroke-width="1.0"/>
<circle cx="411.74" cy="831.10" r="2.20" fill="none" stroke="#111" stroke-width="1.0"/>
<circle cx="407.92" cy="833.30" r="2.20" fill="none" stroke="#111" stroke-width="1.0"/>
<circle cx="404.10" cy="835.50" r="2.20" fill="none" stroke="#111" stroke-width="1.0"/>
<circle cx="410.28" cy="837.70" r="2.20" fill="none" stroke="#111" stroke-width="1.0"/>
<circle cx="406.46" cy="838.80" r="2.20" fill="none" stroke="#111" stroke-width="1.0"/>
<circle cx="412.64" cy="839.90" r="2.20" fill="none" stroke="#111" stroke-width="1.0"/>
<circle cx="408.82" cy="841.00" r="2.20" fill="none" stroke="#111" stroke-width="1.0"/>
<rect x="420.45" y="828.90" width="10.50" height="20.90" fill="none" stroke="#e020e0" stroke-width="1"/>
<line x1="425.70" y1="825.60" x2="425.70" y2="828.90" stroke="#e020e0" stroke-width="1" stroke-linecap="butt"/>
<line x1="423.20" y1="825.60" x2="428.20" y2="825.60" stroke="#e020e0" stroke-width="1" stroke-linecap="butt"/>
<circle cx="421.20" cy="808.00" r="2.20" fill="none" stroke="#e020e0" stroke-width="1.0"/>
<circle cx="426.76" cy="811.30" r="2.20" fill="none" stroke="#e020e0" stroke-width="1.0"/>
<circle cx="423.32" cy="819.00" r="2.20" fill="none" stroke="#e020e0" stroke-width="1.0"/>
<circle cx="428.89" cy="826.70" r="2.20" fill="none" stroke="#e020e0" stroke-width="1.0"/>
<circle cx="425.45" cy="828.90" r="2.20" fill="none" stroke="#e020e0" stroke-width="1.0"/>
<circle cx="422.01" cy="831.10" r="2.20" fill="none" stroke="#e020e0" stroke-width="1.0"/>
<circle cx="427.57" cy="836.60" r="2.20" fill="none" stroke="#e020e0" stroke-width="1.0"/>
<circle cx="424.13" cy="839.90" r="2.20" fill="none" stroke="#e020e0" stroke-width="1.0"/>
<circle cx="429.70" cy="842.10" r="2.20" fill="none" stroke="#e020e0" stroke-width="1.0"/>
<rect x="438.45" y="845.95" width="10.50" height="3.85" fill="none" stroke="#1414ff" stroke-width="1"/>
<line x1="443.70" y1="844.85" x2="443.70" y2="845.95" stroke="#1414ff" stroke-width="1" stroke-linecap="butt"/>
<line x1="441.20" y1="844.85" x2="446.20" y2="844.85" stroke="#1414ff" stroke-width="1" stroke-linecap="butt"/>
<circle cx="438.70" cy="838.80" r="2.20" fill="none" stroke="#1414ff" stroke-width="1.0"/>
<circle cx="444.88" cy="843.20" r="2.20" fill="none" stroke="#1414ff" stroke-width="1.0"/>
<circle cx="441.06" cy="844.30" r="2.20" fill="none" stroke="#1414ff" stroke-width="1.0"/>
<circle cx="447.24" cy="845.40" r="2.20" fill="none" stroke="#1414ff" stroke-width="1.0"/>
<circle cx="443.42" cy="845.95" r="2.20" fill="none" stroke="#1414ff" stroke-width="1.0"/>
<circle cx="439.60" cy="846.50" r="2.20" fill="none" stroke="#1414ff" stroke-width="1.0"/>
<circle cx="445.78" cy="847.05" r="2.20" fill="none" stroke="#1414ff" stroke-width="1.0"/>
<circle cx="441.96" cy="847.60" r="2.20" fill="none" stroke="#1414ff" stroke-width="1.0"/>
<circle cx="448.14" cy="848.15" r="2.20" fill="none" stroke="#1414ff" stroke-width="1.0"/>
<circle cx="444.32" cy="848.70" r="2.20" fill="none" stroke="#1414ff" stroke-width="1.0"/>
<rect x="455.75" y="849.25" width="10.50" height="0.55" fill="none" stroke="#108a20" stroke-width="1"/>
<line x1="461.00" y1="849.03" x2="461.00" y2="849.25" stroke="#108a20" stroke-width="1" stroke-linecap="butt"/>
<line x1="458.50" y1="849.03" x2="463.50" y2="849.03" stroke="#108a20" stroke-width="1" stroke-linecap="butt"/>
<circle cx="456.00" cy="848.92" r="1.90" fill="#108a20" stroke="#108a20" stroke-width="1.0"/>
<circle cx="462.18" cy="849.14" r="1.90" fill="#108a20" stroke="#108a20" stroke-width="1.0"/>
<circle cx="458.36" cy="849.25" r="1.90" fill="#108a20" stroke="#108a20" stroke-width="1.0"/>
<circle cx="464.54" cy="849.36" r="1.90" fill="#108a20" stroke="#108a20" stroke-width="1.0"/>
<circle cx="460.72" cy="849.25" r="1.90" fill="#108a20" stroke="#108a20" stroke-width="1.0"/>
<circle cx="456.90" cy="849.03" r="1.90" fill="#108a20" stroke="#108a20" stroke-width="1.0"/>
<circle cx="463.08" cy="849.47" r="1.90" fill="#108a20" stroke="#108a20" stroke-width="1.0"/>
<circle cx="459.26" cy="849.14" r="1.90" fill="#108a20" stroke="#108a20" stroke-width="1.0"/>
<line x1="380.00" y1="794.30" x2="380.00" y2="850.40" stroke="#111" stroke-width="1.3" stroke-linecap="butt"/>
<line x1="377.00" y1="849.80" x2="380.00" y2="849.80" stroke="#111" stroke-width="1.3" stroke-linecap="butt"/>
<text x="376.20" y="852.80" font-size="8.4" fill="#111" font-weight="bold" text-anchor="end">0</text>
<line x1="377.00" y1="838.80" x2="380.00" y2="838.80" stroke="#111" stroke-width="1.3" stroke-linecap="butt"/>
<text x="376.20" y="841.80" font-size="8.4" fill="#111" font-weight="bold" text-anchor="end">10</text>
<line x1="377.00" y1="827.80" x2="380.00" y2="827.80" stroke="#111" stroke-width="1.3" stroke-linecap="butt"/>
<text x="376.20" y="830.80" font-size="8.4" fill="#111" font-weight="bold" text-anchor="end">20</text>
<line x1="377.00" y1="816.80" x2="380.00" y2="816.80" stroke="#111" stroke-width="1.3" stroke-linecap="butt"/>
<text x="376.20" y="819.80" font-size="8.4" fill="#111" font-weight="bold" text-anchor="end">30</text>
<line x1="377.00" y1="805.80" x2="380.00" y2="805.80" stroke="#111" stroke-width="1.3" stroke-linecap="butt"/>
<text x="376.20" y="808.80" font-size="8.4" fill="#111" font-weight="bold" text-anchor="end">40</text>
<line x1="377.00" y1="794.80" x2="380.00" y2="794.80" stroke="#111" stroke-width="1.3" stroke-linecap="butt"/>
<text x="376.20" y="797.80" font-size="8.4" fill="#111" font-weight="bold" text-anchor="end">50</text>
<line x1="379.40" y1="849.80" x2="474.20" y2="849.80" stroke="#111" stroke-width="1.3" stroke-linecap="butt"/>
<line x1="390.20" y1="849.80" x2="390.20" y2="852.80" stroke="#111" stroke-width="1.3" stroke-linecap="butt"/>
<line x1="408.20" y1="849.80" x2="408.20" y2="852.80" stroke="#111" stroke-width="1.3" stroke-linecap="butt"/>
<line x1="425.70" y1="849.80" x2="425.70" y2="852.80" stroke="#111" stroke-width="1.3" stroke-linecap="butt"/>
<line x1="443.70" y1="849.80" x2="443.70" y2="852.80" stroke="#111" stroke-width="1.3" stroke-linecap="butt"/>
<line x1="461.00" y1="849.80" x2="461.00" y2="852.80" stroke="#111" stroke-width="1.3" stroke-linecap="butt"/>
<text x="357.80" y="822.00" font-size="8.4" fill="#111" font-weight="bold" text-anchor="middle" transform="rotate(-90 357.80 822.00)">hCD45+ in PB (%)</text>
<text x="392.70" y="860.80" font-size="8.4" fill="#111" font-weight="bold" text-anchor="end" transform="rotate(-45 392.70 860.80)">Vehicle</text>
<text x="410.70" y="860.80" font-size="8.4" fill="#111" font-weight="bold" text-anchor="end" transform="rotate(-45 410.70 860.80)">TKI</text>
<text x="428.20" y="860.80" font-size="8.4" fill="#111" font-weight="bold" text-anchor="end" transform="rotate(-45 428.20 860.80)">TKI+PD-1 Ab</text>
<text x="446.20" y="860.80" font-size="8.4" fill="#111" font-weight="bold" text-anchor="end" transform="rotate(-45 446.20 860.80)">TKI+M-miR-142</text>
<text x="463.50" y="860.80" font-size="8.4" fill="#111" font-weight="bold" text-anchor="end" transform="rotate(-45 463.50 860.80)">Combination</text>
<text x="419.30" y="774.20" font-size="8.1" fill="#111">P=0.0002</text>
<line x1="409.60" y1="776.30" x2="464.00" y2="776.30" stroke="#111" stroke-width="1.6" stroke-linecap="butt"/>
<text x="385.50" y="787.60" font-size="8.1" fill="#111">P=0.37</text>
<line x1="389.60" y1="791.60" x2="405.50" y2="791.60" stroke="#111" stroke-width="1.6" stroke-linecap="butt"/>
<text x="412.70" y="787.60" font-size="8.1" fill="#111">P=0.0028</text>
<line x1="409.60" y1="789.30" x2="445.00" y2="789.30" stroke="#111" stroke-width="1.6" stroke-linecap="butt"/>
<text x="404.90" y="800.60" font-size="8.1" fill="#111">P=0.68</text>
<line x1="409.60" y1="802.70" x2="425.70" y2="802.70" stroke="#111" stroke-width="1.6" stroke-linecap="butt"/>
<text x="432.00" y="803.40" font-size="8.1" fill="#111">P&lt;0.0001</text>
<line x1="429.30" y1="805.40" x2="464.00" y2="805.40" stroke="#111" stroke-width="1.6" stroke-linecap="butt"/>
<text x="439.60" y="826.40" font-size="8.1" fill="#111">P=0.677</text>
<line x1="444.60" y1="829.80" x2="464.50" y2="829.80" stroke="#111" stroke-width="1.6" stroke-linecap="butt"/>
<text x="597.80" y="760.40" font-size="12" fill="#111" font-weight="bold" text-anchor="middle">Survival</text>
<line x1="511.50" y1="769.10" x2="521.00" y2="769.10" stroke="#ff1010" stroke-width="1.7" stroke-linecap="butt"/>
<line x1="516.30" y1="767.70" x2="516.30" y2="769.10" stroke="#ff1010" stroke-width="1.0" stroke-linecap="butt"/>
<text x="527.00" y="771.90" font-size="8.8" fill="#ff1010" font-weight="bold">Vehicle</text>
<line x1="511.50" y1="781.30" x2="521.00" y2="781.30" stroke="#111" stroke-width="1.7" stroke-linecap="butt"/>
<line x1="516.30" y1="779.90" x2="516.30" y2="781.30" stroke="#111" stroke-width="1.0" stroke-linecap="butt"/>
<text x="527.00" y="784.10" font-size="8.8" fill="#111" font-weight="bold">TKI</text>
<line x1="511.50" y1="793.50" x2="521.00" y2="793.50" stroke="#a020e0" stroke-width="1.7" stroke-linecap="butt"/>
<line x1="516.30" y1="792.10" x2="516.30" y2="793.50" stroke="#a020e0" stroke-width="1.0" stroke-linecap="butt"/>
<text x="527.00" y="796.30" font-size="8.8" fill="#a020e0" font-weight="bold">TKI+PD-1 Ab</text>
<line x1="511.50" y1="805.70" x2="521.00" y2="805.70" stroke="#1414ff" stroke-width="1.7" stroke-linecap="butt"/>
<line x1="516.30" y1="804.30" x2="516.30" y2="805.70" stroke="#1414ff" stroke-width="1.0" stroke-linecap="butt"/>
<text x="527.00" y="808.50" font-size="8.8" fill="#1414ff" font-weight="bold">TKI+M-miR-142</text>
<line x1="511.50" y1="817.90" x2="521.00" y2="817.90" stroke="#108a20" stroke-width="1.7" stroke-linecap="butt"/>
<line x1="516.30" y1="816.50" x2="516.30" y2="817.90" stroke="#108a20" stroke-width="1.0" stroke-linecap="butt"/>
<text x="527.00" y="820.70" font-size="8.8" fill="#108a20" font-weight="bold">Combination</text>
<line x1="559.40" y1="767.30" x2="559.40" y2="782.70" stroke="#111" stroke-width="1.5" stroke-linecap="butt"/>
<text x="562.00" y="778.50" font-size="7.5" fill="#333">0.001</text>
<line x1="581.80" y1="780.00" x2="581.80" y2="797.00" stroke="#111" stroke-width="1.5" stroke-linecap="butt"/>
<text x="584.50" y="791.20" font-size="7.5" fill="#333">0.044</text>
<line x1="605.90" y1="780.00" x2="605.90" y2="803.70" stroke="#111" stroke-width="1.5" stroke-linecap="butt"/>
<text x="608.60" y="796.00" font-size="7.5" fill="#333">&lt;0.001</text>
<line x1="595.00" y1="805.00" x2="595.00" y2="820.50" stroke="#111" stroke-width="1.5" stroke-linecap="butt"/>
<text x="597.80" y="815.50" font-size="7.5" fill="#333">&lt;0.001</text>
<line x1="623.70" y1="797.00" x2="623.70" y2="820.50" stroke="#111" stroke-width="1.5" stroke-linecap="butt"/>
<text x="626.40" y="811.40" font-size="7.5" fill="#333">&lt;0.001</text>
<line x1="650.70" y1="780.00" x2="650.70" y2="820.50" stroke="#111" stroke-width="1.5" stroke-linecap="butt"/>
<text x="654.00" y="803.30" font-size="7.5" fill="#333">&lt;0.001</text>
<line x1="528.20" y1="833.30" x2="555.30" y2="833.30" stroke="#ff1010" stroke-width="1.6" stroke-linecap="butt"/>
<path d="M561.40,833.30 L628.75,833.30 L628.75,838.44 L630.10,838.44 L630.10,843.58 L636.10,843.58 L636.10,848.72 L637.60,848.72 L637.60,853.86 L639.25,853.86 L639.25,859.00 L640.90,859.00 L640.90,864.14 L642.40,864.14 L642.40,874.42 L644.50,874.42 L644.50,879.56 L649.90,879.56 L649.90,884.70" fill="none" stroke="#108a20" stroke-width="1.6" stroke-linejoin="miter"/>
<path d="M561.40,833.30 L598.00,833.30 L598.00,838.44 L600.10,838.44 L600.10,843.58 L601.60,843.58 L601.60,848.72 L603.55,848.72 L603.55,853.86 L604.60,853.86 L604.60,859.00 L606.25,859.00 L606.25,864.14 L608.95,864.14 L608.95,869.28 L610.60,869.28 L610.60,874.42 L616.90,874.42 L616.90,879.56 L622.45,879.56 L622.45,884.70" fill="none" stroke="#1414ff" stroke-width="1.6" stroke-linejoin="miter"/>
<path d="M561.40,833.30 L569.35,833.30 L569.35,838.44 L575.20,838.44 L575.20,843.58 L579.40,843.58 L579.40,848.72 L582.10,848.72 L582.10,853.86 L594.25,853.86 L594.25,859.00 L596.80,859.00 L596.80,864.14 L598.90,864.14 L598.90,869.28 L602.05,869.28 L602.05,874.42 L603.55,874.42 L603.55,879.56 L606.25,879.56 L606.25,884.70" fill="none" stroke="#a020e0" stroke-width="1.6" stroke-linejoin="miter"/>
<path d="M561.40,833.30 L567.25,833.30 L567.25,838.44 L569.05,838.44 L569.05,843.58 L574.75,843.58 L574.75,848.72 L578.95,848.72 L578.95,859.00 L580.45,859.00 L580.45,864.14 L582.10,864.14 L582.10,869.28 L589.45,869.28 L589.45,874.42 L595.90,874.42 L595.90,879.56 L598.00,879.56 L598.00,884.70" fill="none" stroke="#111" stroke-width="1.6" stroke-linejoin="miter"/>
<path d="M561.40,833.30 L564.10,833.30 L564.10,838.44 L565.15,838.44 L565.15,843.58 L566.20,843.58 L566.20,853.86 L567.25,853.86 L567.25,864.14 L569.05,864.14 L569.05,869.28 L573.25,869.28 L573.25,874.42 L574.75,874.42 L574.75,879.56 L576.25,879.56 L576.25,884.70" fill="none" stroke="#ff1010" stroke-width="1.6" stroke-linejoin="miter"/>
<line x1="528.20" y1="832.80" x2="528.20" y2="885.30" stroke="#7a7a7a" stroke-width="1.7" stroke-linecap="butt"/>
<line x1="525.20" y1="884.70" x2="528.20" y2="884.70" stroke="#7a7a7a" stroke-width="1.7" stroke-linecap="butt"/>
<text x="524.40" y="887.70" font-size="8.4" fill="#111" font-weight="bold" text-anchor="end">0</text>
<line x1="525.20" y1="874.42" x2="528.20" y2="874.42" stroke="#7a7a7a" stroke-width="1.7" stroke-linecap="butt"/>
<text x="524.40" y="877.42" font-size="8.4" fill="#111" font-weight="bold" text-anchor="end">20</text>
<line x1="525.20" y1="864.14" x2="528.20" y2="864.14" stroke="#7a7a7a" stroke-width="1.7" stroke-linecap="butt"/>
<text x="524.40" y="867.14" font-size="8.4" fill="#111" font-weight="bold" text-anchor="end">40</text>
<line x1="525.20" y1="853.86" x2="528.20" y2="853.86" stroke="#7a7a7a" stroke-width="1.7" stroke-linecap="butt"/>
<text x="524.40" y="856.86" font-size="8.4" fill="#111" font-weight="bold" text-anchor="end">60</text>
<line x1="525.20" y1="843.58" x2="528.20" y2="843.58" stroke="#7a7a7a" stroke-width="1.7" stroke-linecap="butt"/>
<text x="524.40" y="846.58" font-size="8.4" fill="#111" font-weight="bold" text-anchor="end">80</text>
<line x1="525.20" y1="833.30" x2="528.20" y2="833.30" stroke="#7a7a7a" stroke-width="1.7" stroke-linecap="butt"/>
<text x="524.40" y="836.30" font-size="8.4" fill="#111" font-weight="bold" text-anchor="end">100</text>
<line x1="527.60" y1="884.70" x2="555.30" y2="884.70" stroke="#111" stroke-width="1.3" stroke-linecap="butt"/>
<line x1="561.40" y1="884.70" x2="666.40" y2="884.70" stroke="#111" stroke-width="1.3" stroke-linecap="butt"/>
<line x1="555.30" y1="882.20" x2="555.30" y2="886.20" stroke="#111" stroke-width="1.2" stroke-linecap="butt"/>
<line x1="561.40" y1="882.20" x2="561.40" y2="887.70" stroke="#111" stroke-width="1.2" stroke-linecap="butt"/>
<line x1="528.20" y1="884.70" x2="528.20" y2="887.70" stroke="#111" stroke-width="1.2" stroke-linecap="butt"/>
<line x1="546.20" y1="884.70" x2="546.20" y2="887.70" stroke="#111" stroke-width="1.2" stroke-linecap="butt"/>
<line x1="561.40" y1="884.70" x2="561.40" y2="887.70" stroke="#111" stroke-width="1.2" stroke-linecap="butt"/>
<line x1="576.40" y1="884.70" x2="576.40" y2="887.70" stroke="#111" stroke-width="1.2" stroke-linecap="butt"/>
<line x1="591.40" y1="884.70" x2="591.40" y2="887.70" stroke="#111" stroke-width="1.2" stroke-linecap="butt"/>
<line x1="606.40" y1="884.70" x2="606.40" y2="887.70" stroke="#111" stroke-width="1.2" stroke-linecap="butt"/>
<line x1="621.40" y1="884.70" x2="621.40" y2="887.70" stroke="#111" stroke-width="1.2" stroke-linecap="butt"/>
<line x1="636.40" y1="884.70" x2="636.40" y2="887.70" stroke="#111" stroke-width="1.2" stroke-linecap="butt"/>
<line x1="651.40" y1="884.70" x2="651.40" y2="887.70" stroke="#111" stroke-width="1.2" stroke-linecap="butt"/>
<line x1="666.40" y1="884.70" x2="666.40" y2="887.70" stroke="#111" stroke-width="1.2" stroke-linecap="butt"/>
<text x="528.20" y="899.20" font-size="8.4" fill="#111" font-weight="bold" text-anchor="middle">0</text>
<text x="546.20" y="899.20" font-size="8.4" fill="#111" font-weight="bold" text-anchor="middle">20</text>
<text x="561.40" y="899.20" font-size="8.4" fill="#111" font-weight="bold" text-anchor="middle">30</text>
<text x="576.40" y="899.20" font-size="8.4" fill="#111" font-weight="bold" text-anchor="middle">40</text>
<text x="591.40" y="899.20" font-size="8.4" fill="#111" font-weight="bold" text-anchor="middle">50</text>
<text x="606.40" y="899.20" font-size="8.4" fill="#111" font-weight="bold" text-anchor="middle">60</text>
<text x="621.40" y="899.20" font-size="8.4" fill="#111" font-weight="bold" text-anchor="middle">70</text>
<text x="636.40" y="899.20" font-size="8.4" fill="#111" font-weight="bold" text-anchor="middle">80</text>
<text x="651.40" y="899.20" font-size="8.4" fill="#111" font-weight="bold" text-anchor="middle">90</text>
<text x="666.40" y="899.20" font-size="8.4" fill="#111" font-weight="bold" text-anchor="middle">100</text>
<text x="597.90" y="912.80" font-size="8.4" fill="#111" font-weight="bold" text-anchor="middle" textLength="108.00" lengthAdjust="spacingAndGlyphs">Days after transplantation</text>
<text x="506.00" y="858.00" font-size="8.4" fill="#111" font-weight="bold" text-anchor="middle" transform="rotate(-90 506.00 858.00)">Percent survival</text>
<g clip-path="url(#clip1)">
<rect x="190.00" y="156.80" width="93.70" height="88.00" fill="#c49cce"/>
<ellipse cx="232.00" cy="164.80" rx="14.00" ry="8.00" fill="#dcc0e0"/>
<ellipse cx="260.00" cy="201.80" rx="6.00" ry="5.00" fill="#d0a8d4"/>
<g filter="url(#grain)">
<circle cx="205.50" cy="162.30" r="11.50" fill="url(#gP)" stroke="#7a34a4" stroke-width="0.6"/>
<circle cx="205.50" cy="162.30" r="11.50" fill="none" stroke="#b890cc" stroke-width="0.8"/>
<circle cx="212.00" cy="176.80" r="12.65" fill="url(#gP)" stroke="#7a34a4" stroke-width="0.6"/>
<circle cx="212.00" cy="176.80" r="12.65" fill="none" stroke="#b890cc" stroke-width="0.8"/>
<circle cx="196.80" cy="188.60" r="11.50" fill="url(#gP)" stroke="#7a34a4" stroke-width="0.6"/>
<circle cx="196.80" cy="188.60" r="11.50" fill="none" stroke="#b890cc" stroke-width="0.8"/>
<circle cx="223.00" cy="195.80" r="12.65" fill="url(#gP)" stroke="#7a34a4" stroke-width="0.6"/>
<circle cx="223.00" cy="195.80" r="12.65" fill="none" stroke="#b890cc" stroke-width="0.8"/>
<circle cx="244.20" cy="190.00" r="14.26" fill="url(#gP)" stroke="#7a34a4" stroke-width="0.6"/>
<circle cx="244.20" cy="190.00" r="14.26" fill="none" stroke="#b890cc" stroke-width="0.8"/>
<circle cx="255.00" cy="169.60" r="10.92" fill="url(#gP)" stroke="#7a34a4" stroke-width="0.6"/>
<circle cx="255.00" cy="169.60" r="10.92" fill="none" stroke="#b890cc" stroke-width="0.8"/>
<circle cx="272.70" cy="165.20" r="10.35" fill="url(#gP)" stroke="#7a34a4" stroke-width="0.6"/>
<circle cx="272.70" cy="165.20" r="10.35" fill="none" stroke="#b890cc" stroke-width="0.8"/>
<circle cx="269.00" cy="194.40" r="12.65" fill="url(#gP)" stroke="#7a34a4" stroke-width="0.6"/>
<circle cx="269.00" cy="194.40" r="12.65" fill="none" stroke="#b890cc" stroke-width="0.8"/>
<circle cx="277.00" cy="180.00" r="9.20" fill="url(#gP)" stroke="#7a34a4" stroke-width="0.6"/>
<circle cx="277.00" cy="180.00" r="9.20" fill="none" stroke="#b890cc" stroke-width="0.8"/>
<circle cx="196.80" cy="209.00" r="10.35" fill="url(#gP)" stroke="#7a34a4" stroke-width="0.6"/>
<circle cx="196.80" cy="209.00" r="10.35" fill="none" stroke="#b890cc" stroke-width="0.8"/>
<circle cx="223.80" cy="213.40" r="10.92" fill="url(#gP)" stroke="#7a34a4" stroke-width="0.6"/>
<circle cx="223.80" cy="213.40" r="10.92" fill="none" stroke="#b890cc" stroke-width="0.8"/>
<circle cx="242.70" cy="212.00" r="10.35" fill="url(#gP)" stroke="#7a34a4" stroke-width="0.6"/>
<circle cx="242.70" cy="212.00" r="10.35" fill="none" stroke="#b890cc" stroke-width="0.8"/>
<circle cx="211.40" cy="226.50" r="10.35" fill="url(#gP)" stroke="#7a34a4" stroke-width="0.6"/>
<circle cx="211.40" cy="226.50" r="10.35" fill="none" stroke="#b890cc" stroke-width="0.8"/>
<circle cx="231.80" cy="231.00" r="11.50" fill="url(#gP)" stroke="#7a34a4" stroke-width="0.6"/>
<circle cx="231.80" cy="231.00" r="11.50" fill="none" stroke="#b890cc" stroke-width="0.8"/>
<circle cx="255.00" cy="223.60" r="11.50" fill="url(#gP)" stroke="#7a34a4" stroke-width="0.6"/>
<circle cx="255.00" cy="223.60" r="11.50" fill="none" stroke="#b890cc" stroke-width="0.8"/>
<circle cx="195.30" cy="228.00" r="9.20" fill="url(#gP)" stroke="#7a34a4" stroke-width="0.6"/>
<circle cx="195.30" cy="228.00" r="9.20" fill="none" stroke="#b890cc" stroke-width="0.8"/>
<circle cx="266.80" cy="213.40" r="8.05" fill="url(#gP)" stroke="#7a34a4" stroke-width="0.6"/>
<circle cx="266.80" cy="213.40" r="8.05" fill="none" stroke="#b890cc" stroke-width="0.8"/>
<circle cx="210.00" cy="241.00" r="9.20" fill="url(#gP)" stroke="#7a34a4" stroke-width="0.6"/>
<circle cx="210.00" cy="241.00" r="9.20" fill="none" stroke="#b890cc" stroke-width="0.8"/>
<circle cx="277.00" cy="206.00" r="8.05" fill="url(#gP)" stroke="#7a34a4" stroke-width="0.6"/>
<circle cx="277.00" cy="206.00" r="8.05" fill="none" stroke="#b890cc" stroke-width="0.8"/>
<circle cx="278.00" cy="234.80" r="9.20" fill="url(#gP)" stroke="#7a34a4" stroke-width="0.6"/>
<circle cx="278.00" cy="234.80" r="9.20" fill="none" stroke="#b890cc" stroke-width="0.8"/>
<circle cx="250.00" cy="241.80" r="8.05" fill="url(#gP)" stroke="#7a34a4" stroke-width="0.6"/>
<circle cx="250.00" cy="241.80" r="8.05" fill="none" stroke="#b890cc" stroke-width="0.8"/>
<circle cx="224.50" cy="182.00" r="5.98" fill="#5c1c7c"/>
<circle cx="237.00" cy="169.80" r="5.75" fill="#b070c0"/>
</g>
<ellipse cx="228.00" cy="162.80" rx="11.00" ry="7.00" fill="#e4cce6" filter="url(#soft)"/>
<ellipse cx="262.00" cy="206.80" rx="4.00" ry="3.00" fill="#dcc0e0" filter="url(#soft)"/>
<ellipse cx="250.00" cy="196.80" rx="2.50" ry="2.00" fill="#e0c8e4" filter="url(#soft)"/>
</g>
<text x="280.70" y="233.40" font-size="7.0" fill="#000" text-anchor="end">10uM</text>
<line x1="261.40" y1="237.20" x2="280.90" y2="237.20" stroke="#000" stroke-width="1.8" stroke-linecap="butt"/>
<g clip-path="url(#clip2)">
<rect x="287.30" y="156.80" width="94.90" height="88.00" fill="#f2e6ec"/>
<g filter="url(#grain)">
<circle cx="289.90" cy="159.30" r="6.05" fill="url(#gP)" stroke="#7a34a4" stroke-width="0.6"/>
<circle cx="307.70" cy="168.90" r="10.98" fill="#5c6cc4"/>
<circle cx="308.90" cy="168.00" r="9.48" fill="url(#gP)"/>
<circle cx="323.80" cy="163.80" r="8.80" fill="url(#gP)" stroke="#7a34a4" stroke-width="0.6"/>
<circle cx="320.20" cy="180.40" r="10.98" fill="#5c6cc4"/>
<circle cx="321.40" cy="179.50" r="9.48" fill="url(#gP)"/>
<circle cx="337.80" cy="181.80" r="11.75" fill="#5c6cc4"/>
<circle cx="339.00" cy="180.90" r="10.25" fill="url(#gP)"/>
<circle cx="353.50" cy="189.10" r="7.70" fill="url(#gN)"/>
<circle cx="322.30" cy="203.80" r="13.40" fill="#5c6cc4"/>
<circle cx="323.50" cy="202.90" r="11.90" fill="url(#gP)"/>
<circle cx="306.10" cy="209.80" r="10.10" fill="#5c6cc4"/>
<circle cx="307.30" cy="208.90" r="8.60" fill="url(#gP)"/>
<circle cx="341.30" cy="198.80" r="8.03" fill="url(#gN)"/>
<circle cx="352.90" cy="213.80" r="14.17" fill="#5c6cc4"/>
<circle cx="354.10" cy="212.90" r="12.67" fill="url(#gP)"/>
<circle cx="339.80" cy="223.10" r="8.80" fill="url(#gN)"/>
<circle cx="372.90" cy="224.80" r="11.20" fill="#5c6cc4"/>
<circle cx="374.10" cy="223.90" r="9.70" fill="url(#gP)"/>
<circle cx="379.70" cy="163.80" r="5.50" fill="url(#gP)" stroke="#7a34a4" stroke-width="0.6"/>
<circle cx="356.10" cy="236.30" r="6.60" fill="#8878c8"/>
<circle cx="330.90" cy="242.80" r="6.60" fill="url(#gP)" stroke="#7a34a4" stroke-width="0.6"/>
<circle cx="367.30" cy="242.80" r="6.60" fill="url(#gP)" stroke="#7a34a4" stroke-width="0.6"/>
</g>
</g>
<text x="379.20" y="233.40" font-size="7.0" fill="#000" text-anchor="end">10uM</text>
<line x1="359.90" y1="237.20" x2="379.40" y2="237.20" stroke="#000" stroke-width="1.8" stroke-linecap="butt"/>
<g clip-path="url(#clip3)">
<rect x="385.70" y="156.80" width="94.70" height="88.50" fill="#f2dce8"/>
<ellipse cx="393.70" cy="166.80" rx="10.00" ry="9.00" fill="#ead0e4"/>
<ellipse cx="425.70" cy="204.80" rx="12.00" ry="8.00" fill="#ecd2e6"/>
<ellipse cx="410.70" cy="196.80" rx="10.00" ry="6.00" fill="#e8cce4"/>
<g filter="url(#grain)">
<circle cx="413.90" cy="173.30" r="8.03" fill="url(#gN)"/>
<circle cx="403.00" cy="184.20" r="10.98" fill="#5c6cc4"/>
<circle cx="404.20" cy="183.30" r="9.48" fill="url(#gP)"/>
<circle cx="389.80" cy="187.80" r="7.15" fill="url(#gP)" stroke="#7a34a4" stroke-width="0.6"/>
<circle cx="423.40" cy="182.80" r="7.26" fill="url(#gN)"/>
<circle cx="437.30" cy="179.80" r="8.03" fill="url(#gN)"/>
<circle cx="456.30" cy="186.40" r="7.26" fill="url(#gN)"/>
<circle cx="465.00" cy="172.50" r="9.68" fill="url(#gP)" stroke="#7a34a4" stroke-width="0.6"/>
<circle cx="406.60" cy="208.30" r="11.20" fill="#5c6cc4"/>
<circle cx="407.80" cy="207.40" r="9.70" fill="url(#gP)"/>
<circle cx="430.00" cy="219.20" r="7.26" fill="url(#gN)"/>
<circle cx="412.50" cy="229.50" r="12.10" fill="url(#gP)" stroke="#7a34a4" stroke-width="0.6"/>
<circle cx="394.20" cy="233.80" r="9.68" fill="url(#gP)" stroke="#7a34a4" stroke-width="0.6"/>
<circle cx="468.70" cy="208.30" r="10.45" fill="url(#gP)" stroke="#7a34a4" stroke-width="0.6"/>
<circle cx="474.70" cy="232.80" r="7.70" fill="url(#gP)" stroke="#7a34a4" stroke-width="0.6"/>
<circle cx="471.60" cy="158.70" r="3.30" fill="url(#gP)" stroke="#7a34a4" stroke-width="0.6"/>
<circle cx="462.70" cy="158.80" r="3.30" fill="url(#gP)" stroke="#7a34a4" stroke-width="0.6"/>
</g>
</g>
<text x="477.40" y="233.90" font-size="7.0" fill="#000" text-anchor="end">10uM</text>
<line x1="458.10" y1="237.70" x2="477.60" y2="237.70" stroke="#000" stroke-width="1.8" stroke-linecap="butt"/>
<g clip-path="url(#clip4)">
<rect x="483.20" y="156.80" width="95.10" height="88.80" fill="#f2e8ee"/>
<ellipse cx="563.20" cy="159.80" rx="12.00" ry="5.00" fill="#e8c0e0"/>
<g filter="url(#grain)">
<circle cx="493.00" cy="162.30" r="7.26" fill="url(#gN)"/>
<circle cx="506.10" cy="163.00" r="7.26" fill="url(#gP)" stroke="#7a34a4" stroke-width="0.6"/>
<circle cx="503.90" cy="190.80" r="9.23" fill="#b8b8e0"/>
<circle cx="503.90" cy="190.80" r="8.03" fill="url(#gN)"/>
<circle cx="490.00" cy="198.80" r="8.03" fill="url(#gP)" stroke="#7a34a4" stroke-width="0.6"/>
<circle cx="538.20" cy="184.20" r="9.68" fill="url(#gP)" stroke="#7a34a4" stroke-width="0.6"/>
<circle cx="542.60" cy="198.10" r="9.23" fill="#b8b8e0"/>
<circle cx="542.60" cy="198.10" r="8.03" fill="url(#gN)"/>
<circle cx="552.10" cy="174.00" r="8.80" fill="url(#gN)"/>
<circle cx="569.60" cy="175.40" r="8.03" fill="url(#gN)"/>
<circle cx="574.20" cy="191.50" r="6.60" fill="url(#gP)" stroke="#7a34a4" stroke-width="0.6"/>
<circle cx="520.70" cy="222.20" r="14.30" fill="url(#gP)" stroke="#7a34a4" stroke-width="0.6"/>
<circle cx="537.50" cy="232.40" r="8.03" fill="url(#gN)"/>
<circle cx="548.40" cy="238.20" r="7.26" fill="url(#gP)" stroke="#7a34a4" stroke-width="0.6"/>
<circle cx="567.40" cy="215.60" r="11.75" fill="#5c6cc4"/>
<circle cx="568.60" cy="214.70" r="10.25" fill="url(#gP)"/>
</g>
</g>
<text x="575.30" y="234.20" font-size="7.0" fill="#000" text-anchor="end">10uM</text>
<line x1="556.00" y1="238.00" x2="575.50" y2="238.00" stroke="#000" stroke-width="1.8" stroke-linecap="butt"/>
<g clip-path="url(#clip5)">
<rect x="580.50" y="156.80" width="95.10" height="88.80" fill="#eee6ea"/>
<ellipse cx="650.50" cy="164.80" rx="22.00" ry="14.00" fill="#ead6e6"/>
<g filter="url(#grain)">
<circle cx="595.10" cy="160.10" r="5.50" fill="url(#gP)" stroke="#7a34a4" stroke-width="0.6"/>
<circle cx="607.50" cy="168.80" r="7.26" fill="url(#gN)"/>
<circle cx="617.70" cy="163.80" r="6.38" fill="url(#gP)" stroke="#7a34a4" stroke-width="0.6"/>
<circle cx="591.40" cy="184.90" r="7.26" fill="url(#gN)"/>
<circle cx="604.50" cy="186.40" r="8.46" fill="#b8b8e0"/>
<circle cx="604.50" cy="186.40" r="7.26" fill="url(#gN)"/>
<circle cx="620.60" cy="180.50" r="7.26" fill="url(#gN)"/>
<circle cx="633.70" cy="179.80" r="7.26" fill="url(#gP)" stroke="#7a34a4" stroke-width="0.6"/>
<circle cx="638.90" cy="190.80" r="8.46" fill="#b8b8e0"/>
<circle cx="638.90" cy="190.80" r="7.26" fill="url(#gN)"/>
<circle cx="635.90" cy="202.40" r="7.26" fill="url(#gN)"/>
<circle cx="651.30" cy="198.10" r="7.26" fill="url(#gN)"/>
<circle cx="665.10" cy="192.20" r="7.26" fill="url(#gN)"/>
<circle cx="595.10" cy="203.90" r="7.26" fill="url(#gN)"/>
<circle cx="625.70" cy="220.70" r="8.46" fill="#b8b8e0"/>
<circle cx="625.70" cy="220.70" r="7.26" fill="url(#gN)"/>
<circle cx="614.80" cy="228.70" r="7.26" fill="url(#gN)"/>
<circle cx="638.90" cy="229.50" r="7.26" fill="url(#gN)"/>
<circle cx="624.30" cy="238.90" r="7.26" fill="url(#gN)"/>
<circle cx="606.70" cy="244.80" r="5.50" fill="url(#gP)" stroke="#7a34a4" stroke-width="0.6"/>
<circle cx="598.00" cy="217.80" r="4.95" fill="#c0c0e0"/>
</g>
</g>
<text x="672.60" y="234.20" font-size="7.0" fill="#000" text-anchor="end">10uM</text>
<line x1="653.30" y1="238.00" x2="672.80" y2="238.00" stroke="#000" stroke-width="1.8" stroke-linecap="butt"/>
<g clip-path="url(#clip6)">
<rect x="44.40" y="618.80" width="119.60" height="105.60" fill="#c070c4"/>
<g filter="url(#grain)">
<circle cx="92.70" cy="627.80" r="17.25" fill="url(#gM)" stroke="#9a58b8" stroke-width="0.6"/>
<circle cx="92.70" cy="627.80" r="17.25" fill="none" stroke="#dcb4e2" stroke-width="0.8"/>
<circle cx="69.20" cy="649.50" r="17.82" fill="url(#gM)" stroke="#9a58b8" stroke-width="0.6"/>
<circle cx="69.20" cy="649.50" r="17.82" fill="none" stroke="#dcb4e2" stroke-width="0.8"/>
<circle cx="121.70" cy="635.90" r="12.65" fill="url(#gM)" stroke="#9a58b8" stroke-width="0.6"/>
<circle cx="121.70" cy="635.90" r="12.65" fill="none" stroke="#dcb4e2" stroke-width="0.8"/>
<circle cx="144.30" cy="636.80" r="18.40" fill="url(#gM)" stroke="#9a58b8" stroke-width="0.6"/>
<circle cx="144.30" cy="636.80" r="18.40" fill="none" stroke="#dcb4e2" stroke-width="0.8"/>
<circle cx="102.60" cy="652.20" r="15.52" fill="url(#gV)" stroke="#8850a8" stroke-width="0.6"/>
<circle cx="102.60" cy="652.20" r="15.52" fill="none" stroke="#dcb4e2" stroke-width="0.8"/>
<circle cx="133.40" cy="657.60" r="11.50" fill="url(#gV)" stroke="#8850a8" stroke-width="0.6"/>
<circle cx="133.40" cy="657.60" r="11.50" fill="none" stroke="#dcb4e2" stroke-width="0.8"/>
<circle cx="154.20" cy="670.30" r="11.50" fill="url(#gL)" stroke="#a060bc" stroke-width="0.6"/>
<circle cx="154.20" cy="670.30" r="11.50" fill="none" stroke="#dcb4e2" stroke-width="0.8"/>
<circle cx="96.30" cy="681.20" r="18.40" fill="url(#gL)" stroke="#a060bc" stroke-width="0.6"/>
<circle cx="96.30" cy="681.20" r="18.40" fill="none" stroke="#dcb4e2" stroke-width="0.8"/>
<circle cx="68.20" cy="685.70" r="16.67" fill="url(#gM)" stroke="#9a58b8" stroke-width="0.6"/>
<circle cx="68.20" cy="685.70" r="16.67" fill="none" stroke="#dcb4e2" stroke-width="0.8"/>
<circle cx="124.40" cy="681.20" r="15.52" fill="url(#gM)" stroke="#9a58b8" stroke-width="0.6"/>
<circle cx="124.40" cy="681.20" r="15.52" fill="none" stroke="#dcb4e2" stroke-width="0.8"/>
<circle cx="70.90" cy="711.00" r="17.71" fill="url(#gM)" stroke="#9a58b8" stroke-width="0.6"/>
<circle cx="70.90" cy="711.00" r="17.71" fill="none" stroke="#dcb4e2" stroke-width="0.8"/>
<circle cx="92.70" cy="680.30" r="3.22" fill="#5a1870"/>
<circle cx="49.40" cy="666.80" r="9.20" fill="url(#gM)" stroke="#9a58b8" stroke-width="0.6"/>
<circle cx="49.40" cy="666.80" r="9.20" fill="none" stroke="#dcb4e2" stroke-width="0.8"/>
<circle cx="92.40" cy="718.80" r="9.20" fill="url(#gL)" stroke="#a060bc" stroke-width="0.6"/>
<circle cx="92.40" cy="718.80" r="9.20" fill="none" stroke="#dcb4e2" stroke-width="0.8"/>
</g>
<ellipse cx="50.40" cy="624.80" rx="15.00" ry="11.00" fill="#dcbce0" filter="url(#soft)"/>
<ellipse cx="134.40" cy="711.80" rx="30.00" ry="14.00" fill="#f0e0f0" filter="url(#soft)"/>
<ellipse cx="120.40" cy="698.80" rx="9.00" ry="5.00" fill="#e8d0ea" filter="url(#soft)"/>
<ellipse cx="157.40" cy="693.80" rx="5.00" ry="7.00" fill="#e4c8e8" filter="url(#soft)"/>
</g>
<text x="161.00" y="711.20" font-size="8.8" fill="#000" text-anchor="end">10uM</text>
<line x1="140.50" y1="716.10" x2="160.80" y2="716.10" stroke="#000" stroke-width="2.0" stroke-linecap="butt"/>
<g clip-path="url(#clip7)">
<rect x="171.20" y="619.60" width="103.80" height="105.20" fill="#c474c8"/>
<g filter="url(#grain)">
<circle cx="175.40" cy="634.50" r="9.20" fill="url(#gM)" stroke="#9a58b8" stroke-width="0.6"/>
<circle cx="175.40" cy="634.50" r="9.20" fill="none" stroke="#dcb4e2" stroke-width="0.8"/>
<circle cx="177.00" cy="664.80" r="11.50" fill="url(#gM)" stroke="#9a58b8" stroke-width="0.6"/>
<circle cx="177.00" cy="664.80" r="11.50" fill="none" stroke="#dcb4e2" stroke-width="0.8"/>
<circle cx="175.40" cy="691.80" r="8.05" fill="url(#gV)" stroke="#8850a8" stroke-width="0.6"/>
<circle cx="175.40" cy="691.80" r="8.05" fill="none" stroke="#dcb4e2" stroke-width="0.8"/>
<circle cx="208.80" cy="655.20" r="16.10" fill="url(#gM)" stroke="#9a58b8" stroke-width="0.6"/>
<circle cx="208.80" cy="655.20" r="16.10" fill="none" stroke="#dcb4e2" stroke-width="0.8"/>
<circle cx="232.70" cy="658.40" r="13.80" fill="url(#gM)" stroke="#9a58b8" stroke-width="0.6"/>
<circle cx="232.70" cy="658.40" r="13.80" fill="none" stroke="#dcb4e2" stroke-width="0.8"/>
<circle cx="255.70" cy="644.90" r="20.70" fill="url(#gM)" stroke="#9a58b8" stroke-width="0.6"/>
<circle cx="255.70" cy="644.90" r="20.70" fill="none" stroke="#dcb4e2" stroke-width="0.8"/>
<circle cx="200.80" cy="682.30" r="18.40" fill="url(#gM)" stroke="#9a58b8" stroke-width="0.6"/>
<circle cx="200.80" cy="682.30" r="18.40" fill="none" stroke="#dcb4e2" stroke-width="0.8"/>
<circle cx="231.10" cy="699.80" r="20.12" fill="url(#gM)" stroke="#9a58b8" stroke-width="0.6"/>
<circle cx="231.10" cy="699.80" r="20.12" fill="none" stroke="#dcb4e2" stroke-width="0.8"/>
<circle cx="259.70" cy="683.80" r="17.25" fill="url(#gM)" stroke="#9a58b8" stroke-width="0.6"/>
<circle cx="259.70" cy="683.80" r="17.25" fill="none" stroke="#dcb4e2" stroke-width="0.8"/>
<circle cx="239.00" cy="636.10" r="9.20" fill="url(#gV)" stroke="#8850a8" stroke-width="0.6"/>
<circle cx="239.00" cy="636.10" r="9.20" fill="none" stroke="#dcb4e2" stroke-width="0.8"/>
</g>
<ellipse cx="205.20" cy="623.60" rx="30.00" ry="8.00" fill="#ead4ec" filter="url(#soft)"/>
<ellipse cx="188.20" cy="641.60" rx="7.00" ry="12.00" fill="#e4c8e6" filter="url(#soft)"/>
<ellipse cx="192.20" cy="712.60" rx="23.00" ry="13.00" fill="#ecdcee" filter="url(#soft)"/>
<ellipse cx="219.20" cy="674.60" rx="3.00" ry="5.00" fill="#ecdcee" filter="url(#soft)"/>
<ellipse cx="269.20" cy="719.60" rx="9.00" ry="6.00" fill="#e8d4ea" filter="url(#soft)"/>
</g>
<text x="272.00" y="711.60" font-size="8.8" fill="#000" text-anchor="end">10uM</text>
<line x1="251.50" y1="716.50" x2="271.80" y2="716.50" stroke="#000" stroke-width="2.0" stroke-linecap="butt"/>
<g clip-path="url(#clip8)">
<rect x="282.00" y="619.60" width="104.00" height="105.20" fill="#c470c8"/>
<g filter="url(#grain)">
<circle cx="322.20" cy="627.40" r="12.65" fill="url(#gM)" stroke="#9a58b8" stroke-width="0.6"/>
<circle cx="322.20" cy="627.40" r="12.65" fill="none" stroke="#dcb4e2" stroke-width="0.8"/>
<circle cx="295.90" cy="649.60" r="10.92" fill="url(#gM)" stroke="#9a58b8" stroke-width="0.6"/>
<circle cx="295.90" cy="649.60" r="10.92" fill="none" stroke="#dcb4e2" stroke-width="0.8"/>
<circle cx="312.60" cy="656.80" r="6.32" fill="url(#gM)" stroke="#9a58b8" stroke-width="0.6"/>
<circle cx="312.60" cy="656.80" r="6.32" fill="none" stroke="#dcb4e2" stroke-width="0.8"/>
<circle cx="334.90" cy="652.80" r="15.52" fill="url(#gM)" stroke="#9a58b8" stroke-width="0.6"/>
<circle cx="334.90" cy="652.80" r="15.52" fill="none" stroke="#dcb4e2" stroke-width="0.8"/>
<circle cx="366.70" cy="639.30" r="20.70" fill="url(#gL)" stroke="#a060bc" stroke-width="0.6"/>
<circle cx="366.70" cy="639.30" r="20.70" fill="none" stroke="#dcb4e2" stroke-width="0.8"/>
<circle cx="289.50" cy="675.90" r="13.80" fill="url(#gM)" stroke="#9a58b8" stroke-width="0.6"/>
<circle cx="289.50" cy="675.90" r="13.80" fill="none" stroke="#dcb4e2" stroke-width="0.8"/>
<circle cx="314.20" cy="683.10" r="16.67" fill="url(#gM)" stroke="#9a58b8" stroke-width="0.6"/>
<circle cx="314.20" cy="683.10" r="16.67" fill="none" stroke="#dcb4e2" stroke-width="0.8"/>
<circle cx="342.90" cy="686.20" r="15.52" fill="url(#gM)" stroke="#9a58b8" stroke-width="0.6"/>
<circle cx="342.90" cy="686.20" r="15.52" fill="none" stroke="#dcb4e2" stroke-width="0.8"/>
<circle cx="370.70" cy="679.10" r="16.10" fill="url(#gL)" stroke="#a060bc" stroke-width="0.6"/>
<circle cx="370.70" cy="679.10" r="16.10" fill="none" stroke="#dcb4e2" stroke-width="0.8"/>
<circle cx="329.30" cy="710.10" r="18.40" fill="url(#gM)" stroke="#9a58b8" stroke-width="0.6"/>
<circle cx="329.30" cy="710.10" r="18.40" fill="none" stroke="#dcb4e2" stroke-width="0.8"/>
<circle cx="382.00" cy="658.40" r="9.20" fill="url(#gM)" stroke="#9a58b8" stroke-width="0.6"/>
<circle cx="382.00" cy="658.40" r="9.20" fill="none" stroke="#dcb4e2" stroke-width="0.8"/>
<circle cx="284.80" cy="712.60" r="5.75" fill="url(#gV)" stroke="#8850a8" stroke-width="0.6"/>
<circle cx="284.80" cy="712.60" r="5.75" fill="none" stroke="#dcb4e2" stroke-width="0.8"/>
<circle cx="309.40" cy="638.50" r="7.47" fill="url(#gD)"/>
<circle cx="370.00" cy="721.60" r="6.90" fill="url(#gM)" stroke="#9a58b8" stroke-width="0.6"/>
<circle cx="370.00" cy="721.60" r="6.90" fill="none" stroke="#dcb4e2" stroke-width="0.8"/>
</g>
<ellipse cx="292.00" cy="625.60" rx="13.00" ry="9.00" fill="#e8d4ea" filter="url(#soft)"/>
<ellipse cx="344.00" cy="625.60" rx="5.00" ry="7.00" fill="#e8d4ea" filter="url(#soft)"/>
<ellipse cx="296.00" cy="713.60" rx="15.00" ry="11.00" fill="#ecdcee" filter="url(#soft)"/>
<ellipse cx="368.00" cy="709.60" rx="17.00" ry="9.00" fill="#eee0f0" filter="url(#soft)"/>
<ellipse cx="329.00" cy="666.60" rx="3.00" ry="3.00" fill="#e4c8e6" filter="url(#soft)"/>
<ellipse cx="354.00" cy="667.60" rx="4.00" ry="3.00" fill="#e4c8e6" filter="url(#soft)"/>
<ellipse cx="306.00" cy="665.60" rx="3.00" ry="2.50" fill="#e4c8e6" filter="url(#soft)"/>
</g>
<text x="383.00" y="711.60" font-size="8.8" fill="#000" text-anchor="end">10uM</text>
<line x1="362.50" y1="716.50" x2="382.80" y2="716.50" stroke="#000" stroke-width="2.0" stroke-linecap="butt"/>
<g clip-path="url(#clip9)">
<rect x="393.40" y="619.20" width="118.80" height="104.60" fill="#eac4e6"/>
<ellipse cx="453.40" cy="639.20" rx="10.00" ry="6.00" fill="#e8a0d0"/>
<g filter="url(#grain)">
<circle cx="419.10" cy="636.90" r="14.37" fill="url(#gR)"/>
<circle cx="436.30" cy="660.40" r="10.35" fill="url(#gR)"/>
<circle cx="409.10" cy="670.40" r="9.20" fill="url(#gM)" stroke="#9a58b8" stroke-width="0.6"/>
<circle cx="421.80" cy="679.40" r="9.20" fill="#d890d8"/>
<circle cx="474.30" cy="662.20" r="20.70" fill="url(#gV)" stroke="#8850a8" stroke-width="0.6"/>
<circle cx="450.70" cy="689.40" r="21.85" fill="url(#gV)" stroke="#8850a8" stroke-width="0.6"/>
<circle cx="502.40" cy="644.10" r="10.35" fill="url(#gM)" stroke="#9a58b8" stroke-width="0.6"/>
<circle cx="473.30" cy="703.90" r="9.20" fill="url(#gR)"/>
<circle cx="425.40" cy="715.70" r="11.50" fill="url(#gR)"/>
<circle cx="450.70" cy="716.60" r="9.20" fill="url(#gM)" stroke="#9a58b8" stroke-width="0.6"/>
<circle cx="492.40" cy="702.10" r="11.50" fill="url(#gV)" stroke="#8850a8" stroke-width="0.6"/>
<circle cx="401.90" cy="705.70" r="8.05" fill="#d0a8d8"/>
<circle cx="499.60" cy="680.40" r="13.80" fill="#e4a8dc"/>
<circle cx="452.60" cy="628.80" r="7.47" fill="url(#gD)"/>
<circle cx="479.70" cy="684.90" r="8.05" fill="url(#gD)"/>
<circle cx="415.40" cy="652.20" r="5.75" fill="#c0a0d0"/>
</g>
</g>
<text x="509.20" y="710.60" font-size="8.8" fill="#000" text-anchor="end">10uM</text>
<line x1="488.70" y1="715.50" x2="509.00" y2="715.50" stroke="#000" stroke-width="2.0" stroke-linecap="butt"/>
<g clip-path="url(#clip10)">
<rect x="518.00" y="619.20" width="119.30" height="104.60" fill="#f0d8ee"/>
<ellipse cx="523.00" cy="657.20" rx="10.00" ry="18.00" fill="#e8b4dc"/>
<ellipse cx="542.00" cy="694.20" rx="22.00" ry="22.00" fill="#ecc4e4"/>
<ellipse cx="626.00" cy="649.20" rx="14.00" ry="25.00" fill="#f4e0f0"/>
<g filter="url(#grain)">
<circle cx="552.20" cy="642.30" r="19.55" fill="url(#gR)"/>
<circle cx="582.10" cy="630.60" r="11.50" fill="url(#gR)"/>
<circle cx="592.00" cy="635.10" r="9.20" fill="url(#gM)" stroke="#9a58b8" stroke-width="0.6"/>
<circle cx="576.70" cy="661.30" r="15.52" fill="url(#gR)"/>
<circle cx="598.40" cy="654.10" r="12.65" fill="url(#gD)"/>
<circle cx="604.70" cy="677.60" r="13.22" fill="url(#gD)"/>
<circle cx="576.70" cy="692.20" r="18.40" fill="url(#gR)"/>
<circle cx="599.30" cy="710.20" r="10.35" fill="url(#gD)"/>
<circle cx="570.30" cy="718.20" r="14.95" fill="url(#gR)"/>
<circle cx="539.50" cy="720.20" r="11.50" fill="url(#gM)" stroke="#9a58b8" stroke-width="0.6"/>
<circle cx="613.80" cy="696.60" r="11.50" fill="#d8c0e4"/>
</g>
</g>
<text x="634.30" y="710.60" font-size="8.8" fill="#000" text-anchor="end">10uM</text>
<line x1="613.80" y1="715.50" x2="634.10" y2="715.50" stroke="#000" stroke-width="2.0" stroke-linecap="butt"/>
</svg></body></html>
